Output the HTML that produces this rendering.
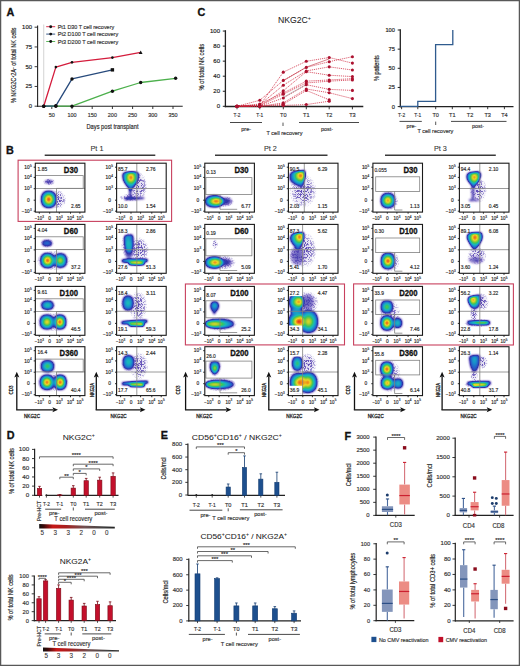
<!DOCTYPE html>
<html><head><meta charset="utf-8"><title>Figure</title>
<style>
html,body{margin:0;padding:0;background:#fff;width:520px;height:666px;overflow:hidden}
svg{display:block}
text{font-family:"Liberation Sans",sans-serif}
</style></head>
<body><svg width="520" height="666" viewBox="0 0 520 666" font-family="Liberation Sans, sans-serif" fill="#2a2a2a"><defs><radialGradient id="g_pur"><stop offset="0" stop-color="#5a48b0" stop-opacity="0.55"/><stop offset="0.6" stop-color="#7060b8" stop-opacity="0.35"/><stop offset="1" stop-color="#9080c8" stop-opacity="0"/></radialGradient><radialGradient id="g_hal"><stop offset="0" stop-color="#fff" stop-opacity="1"/><stop offset="0.5" stop-color="#fff" stop-opacity="0.8"/><stop offset="1" stop-color="#fff" stop-opacity="0"/></radialGradient><filter id="spk" x="-5%" y="-5%" width="110%" height="110%" color-interpolation-filters="sRGB"><feTurbulence type="turbulence" baseFrequency="0.7" numOctaves="1" seed="7" result="n"/><feColorMatrix in="n" type="matrix" values="0 0 0 0 0.34  0 0 0 0 0.26  0 0 0 0 0.70  0 0 0 10 -1.5" result="d"/><feComposite in="d" in2="SourceGraphic" operator="in"/></filter><filter id="cmap" color-interpolation-filters="sRGB" x="-30%" y="-30%" width="160%" height="160%"><feGaussianBlur in="SourceAlpha" stdDeviation="0.85" result="b"/><feColorMatrix in="b" type="matrix" values="0 0 0 1 0  0 0 0 1 0  0 0 0 1 0  0 0 0 1 0" result="g"/><feComponentTransfer in="g"><feFuncR type="table" tableValues="0.5 0.40 0.19 0.15 0.1 0.1 0.22 0.6 0.92 0.95 0.88"/><feFuncG type="table" tableValues="0.4 0.32 0.2 0.34 0.56 0.72 0.77 0.8 0.85 0.5 0.08"/><feFuncB type="table" tableValues="0.8 0.74 0.66 0.78 0.8 0.74 0.38 0.2 0.15 0.1 0.08"/><feFuncA type="table" tableValues="0 0.55 1 1 1 1 1 1 1 1 1"/></feComponentTransfer></filter><linearGradient id="wedge" x1="0" x2="1" y1="0" y2="0"><stop offset="0" stop-color="#111"/><stop offset="0.06" stop-color="#3a0a0a"/><stop offset="0.18" stop-color="#c81818"/><stop offset="0.35" stop-color="#a82020"/><stop offset="0.6" stop-color="#705050"/><stop offset="0.85" stop-color="#404040"/><stop offset="1" stop-color="#222"/></linearGradient><clipPath id="cp0"><rect x="35.30" y="163.20" width="49.60" height="48.90"/></clipPath><radialGradient id="d1" gradientUnits="userSpaceOnUse" cx="0" cy="0" r="1" gradientTransform="translate(49.00 181.80) rotate(0) scale(4.20 1.80)"><stop offset="0.00" stop-color="#000" stop-opacity="0.220"/><stop offset="0.10" stop-color="#000" stop-opacity="0.220"/><stop offset="0.25" stop-color="#000" stop-opacity="0.210"/><stop offset="0.40" stop-color="#000" stop-opacity="0.200"/><stop offset="0.55" stop-color="#000" stop-opacity="0.190"/><stop offset="0.70" stop-color="#000" stop-opacity="0.180"/><stop offset="0.85" stop-color="#000" stop-opacity="0.170"/><stop offset="1.00" stop-color="#000" stop-opacity="0.160"/></radialGradient><radialGradient id="d2" gradientUnits="userSpaceOnUse" cx="0" cy="0" r="1" gradientTransform="translate(48.70 199.40) rotate(0) scale(7.60 8.60)"><stop offset="0.00" stop-color="#000" stop-opacity="1.000"/><stop offset="0.10" stop-color="#000" stop-opacity="1.000"/><stop offset="0.25" stop-color="#000" stop-opacity="0.878"/><stop offset="0.40" stop-color="#000" stop-opacity="0.757"/><stop offset="0.55" stop-color="#000" stop-opacity="0.635"/><stop offset="0.70" stop-color="#000" stop-opacity="0.513"/><stop offset="0.85" stop-color="#000" stop-opacity="0.392"/><stop offset="1.00" stop-color="#000" stop-opacity="0.270"/></radialGradient><clipPath id="cp1"><rect x="116.60" y="163.20" width="49.60" height="48.90"/></clipPath><linearGradient id="l3" gradientUnits="userSpaceOnUse" x1="124.50" y1="0" x2="144.50" y2="0"><stop offset="0" stop-color="#000" stop-opacity="0.32"/><stop offset="0.3" stop-color="#000" stop-opacity="0.34"/><stop offset="1" stop-color="#000" stop-opacity="0.2"/></linearGradient><radialGradient id="d4" gradientUnits="userSpaceOnUse" cx="0" cy="0" r="1" gradientTransform="translate(130.90 177.60) rotate(0) scale(8.50 11.00)"><stop offset="0.00" stop-color="#000" stop-opacity="0.950"/><stop offset="0.10" stop-color="#000" stop-opacity="0.950"/><stop offset="0.25" stop-color="#000" stop-opacity="0.802"/><stop offset="0.40" stop-color="#000" stop-opacity="0.683"/><stop offset="0.55" stop-color="#000" stop-opacity="0.573"/><stop offset="0.70" stop-color="#000" stop-opacity="0.468"/><stop offset="0.85" stop-color="#000" stop-opacity="0.368"/><stop offset="1.00" stop-color="#000" stop-opacity="0.270"/></radialGradient><clipPath id="cp2"><rect x="204.80" y="163.20" width="49.60" height="48.90"/></clipPath><radialGradient id="d5" gradientUnits="userSpaceOnUse" cx="0" cy="0" r="1" gradientTransform="translate(225.00 201.30) rotate(0) scale(7.00 3.80)"><stop offset="0.00" stop-color="#000" stop-opacity="0.240"/><stop offset="0.10" stop-color="#000" stop-opacity="0.240"/><stop offset="0.25" stop-color="#000" stop-opacity="0.223"/><stop offset="0.40" stop-color="#000" stop-opacity="0.207"/><stop offset="0.55" stop-color="#000" stop-opacity="0.190"/><stop offset="0.70" stop-color="#000" stop-opacity="0.173"/><stop offset="0.85" stop-color="#000" stop-opacity="0.157"/><stop offset="1.00" stop-color="#000" stop-opacity="0.140"/></radialGradient><radialGradient id="d6" gradientUnits="userSpaceOnUse" cx="0" cy="0" r="1" gradientTransform="translate(216.00 201.30) rotate(0) scale(11.00 6.00)"><stop offset="0.00" stop-color="#000" stop-opacity="0.970"/><stop offset="0.10" stop-color="#000" stop-opacity="0.970"/><stop offset="0.25" stop-color="#000" stop-opacity="0.853"/><stop offset="0.40" stop-color="#000" stop-opacity="0.737"/><stop offset="0.55" stop-color="#000" stop-opacity="0.620"/><stop offset="0.70" stop-color="#000" stop-opacity="0.503"/><stop offset="0.85" stop-color="#000" stop-opacity="0.387"/><stop offset="1.00" stop-color="#000" stop-opacity="0.270"/></radialGradient><clipPath id="cp3"><rect x="288.40" y="163.20" width="49.60" height="48.90"/></clipPath><radialGradient id="d7" gradientUnits="userSpaceOnUse" cx="0" cy="0" r="1" gradientTransform="translate(300.50 175.80) rotate(0) scale(10.00 10.00)"><stop offset="0.00" stop-color="#000" stop-opacity="0.950"/><stop offset="0.10" stop-color="#000" stop-opacity="0.950"/><stop offset="0.25" stop-color="#000" stop-opacity="0.802"/><stop offset="0.40" stop-color="#000" stop-opacity="0.683"/><stop offset="0.55" stop-color="#000" stop-opacity="0.573"/><stop offset="0.70" stop-color="#000" stop-opacity="0.468"/><stop offset="0.85" stop-color="#000" stop-opacity="0.368"/><stop offset="1.00" stop-color="#000" stop-opacity="0.270"/></radialGradient><clipPath id="cp4"><rect x="372.90" y="163.20" width="49.60" height="48.90"/></clipPath><radialGradient id="d8" gradientUnits="userSpaceOnUse" cx="0" cy="0" r="1" gradientTransform="translate(387.90 200.50) rotate(0) scale(7.20 7.50)"><stop offset="0.00" stop-color="#000" stop-opacity="0.930"/><stop offset="0.10" stop-color="#000" stop-opacity="0.930"/><stop offset="0.25" stop-color="#000" stop-opacity="0.820"/><stop offset="0.40" stop-color="#000" stop-opacity="0.710"/><stop offset="0.55" stop-color="#000" stop-opacity="0.600"/><stop offset="0.70" stop-color="#000" stop-opacity="0.490"/><stop offset="0.85" stop-color="#000" stop-opacity="0.380"/><stop offset="1.00" stop-color="#000" stop-opacity="0.270"/></radialGradient><clipPath id="cp5"><rect x="459.40" y="163.20" width="49.60" height="48.90"/></clipPath><linearGradient id="l9" gradientUnits="userSpaceOnUse" x1="469.00" y1="0" x2="480.00" y2="0"><stop offset="0" stop-color="#000" stop-opacity="0.25"/><stop offset="1" stop-color="#000" stop-opacity="0.15"/></linearGradient><radialGradient id="d10" gradientUnits="userSpaceOnUse" cx="0" cy="0" r="1" gradientTransform="translate(474.40 177.30) rotate(0) scale(8.00 9.50)"><stop offset="0.00" stop-color="#000" stop-opacity="0.930"/><stop offset="0.10" stop-color="#000" stop-opacity="0.930"/><stop offset="0.25" stop-color="#000" stop-opacity="0.786"/><stop offset="0.40" stop-color="#000" stop-opacity="0.671"/><stop offset="0.55" stop-color="#000" stop-opacity="0.564"/><stop offset="0.70" stop-color="#000" stop-opacity="0.462"/><stop offset="0.85" stop-color="#000" stop-opacity="0.365"/><stop offset="1.00" stop-color="#000" stop-opacity="0.270"/></radialGradient><clipPath id="cp6"><rect x="35.30" y="224.40" width="49.60" height="48.90"/></clipPath><radialGradient id="d11" gradientUnits="userSpaceOnUse" cx="0" cy="0" r="1" gradientTransform="translate(47.00 243.20) rotate(0) scale(5.00 3.20)"><stop offset="0.00" stop-color="#000" stop-opacity="0.360"/><stop offset="0.10" stop-color="#000" stop-opacity="0.360"/><stop offset="0.25" stop-color="#000" stop-opacity="0.342"/><stop offset="0.40" stop-color="#000" stop-opacity="0.323"/><stop offset="0.55" stop-color="#000" stop-opacity="0.305"/><stop offset="0.70" stop-color="#000" stop-opacity="0.287"/><stop offset="0.85" stop-color="#000" stop-opacity="0.268"/><stop offset="1.00" stop-color="#000" stop-opacity="0.250"/></radialGradient><radialGradient id="d12" gradientUnits="userSpaceOnUse" cx="0" cy="0" r="1" gradientTransform="translate(60.30 260.50) rotate(0) scale(6.60 7.20)"><stop offset="0.00" stop-color="#000" stop-opacity="0.780"/><stop offset="0.10" stop-color="#000" stop-opacity="0.780"/><stop offset="0.25" stop-color="#000" stop-opacity="0.695"/><stop offset="0.40" stop-color="#000" stop-opacity="0.610"/><stop offset="0.55" stop-color="#000" stop-opacity="0.525"/><stop offset="0.70" stop-color="#000" stop-opacity="0.440"/><stop offset="0.85" stop-color="#000" stop-opacity="0.355"/><stop offset="1.00" stop-color="#000" stop-opacity="0.270"/></radialGradient><radialGradient id="d13" gradientUnits="userSpaceOnUse" cx="0" cy="0" r="1" gradientTransform="translate(47.60 260.50) rotate(0) scale(7.20 7.60)"><stop offset="0.00" stop-color="#000" stop-opacity="1.000"/><stop offset="0.10" stop-color="#000" stop-opacity="1.000"/><stop offset="0.25" stop-color="#000" stop-opacity="0.878"/><stop offset="0.40" stop-color="#000" stop-opacity="0.757"/><stop offset="0.55" stop-color="#000" stop-opacity="0.635"/><stop offset="0.70" stop-color="#000" stop-opacity="0.513"/><stop offset="0.85" stop-color="#000" stop-opacity="0.392"/><stop offset="1.00" stop-color="#000" stop-opacity="0.270"/></radialGradient><clipPath id="cp7"><rect x="116.60" y="224.40" width="49.60" height="48.90"/></clipPath><radialGradient id="d14" gradientUnits="userSpaceOnUse" cx="0" cy="0" r="1" gradientTransform="translate(129.00 250.00) rotate(0) scale(4.50 9.00)"><stop offset="0.00" stop-color="#000" stop-opacity="0.220"/><stop offset="0.10" stop-color="#000" stop-opacity="0.220"/><stop offset="0.25" stop-color="#000" stop-opacity="0.207"/><stop offset="0.40" stop-color="#000" stop-opacity="0.193"/><stop offset="0.55" stop-color="#000" stop-opacity="0.180"/><stop offset="0.70" stop-color="#000" stop-opacity="0.167"/><stop offset="0.85" stop-color="#000" stop-opacity="0.153"/><stop offset="1.00" stop-color="#000" stop-opacity="0.140"/></radialGradient><radialGradient id="d15" gradientUnits="userSpaceOnUse" cx="0" cy="0" r="1" gradientTransform="translate(128.00 240.00) rotate(0) scale(6.00 12.00)"><stop offset="0.00" stop-color="#000" stop-opacity="0.480"/><stop offset="0.10" stop-color="#000" stop-opacity="0.480"/><stop offset="0.25" stop-color="#000" stop-opacity="0.436"/><stop offset="0.40" stop-color="#000" stop-opacity="0.401"/><stop offset="0.55" stop-color="#000" stop-opacity="0.369"/><stop offset="0.70" stop-color="#000" stop-opacity="0.338"/><stop offset="0.85" stop-color="#000" stop-opacity="0.309"/><stop offset="1.00" stop-color="#000" stop-opacity="0.280"/></radialGradient><linearGradient id="l16" gradientUnits="userSpaceOnUse" x1="121.80" y1="0" x2="147.70" y2="0"><stop offset="0" stop-color="#000" stop-opacity="0.36"/><stop offset="0.2" stop-color="#000" stop-opacity="0.55"/><stop offset="0.7" stop-color="#000" stop-opacity="0.6"/><stop offset="1" stop-color="#000" stop-opacity="0.4"/></linearGradient><linearGradient id="l17" gradientUnits="userSpaceOnUse" x1="129.00" y1="0" x2="144.20" y2="0"><stop offset="0" stop-color="#000" stop-opacity="0.7"/><stop offset="0.4" stop-color="#000" stop-opacity="0.9"/><stop offset="0.65" stop-color="#000" stop-opacity="0.95"/><stop offset="1" stop-color="#000" stop-opacity="0.7"/></linearGradient><clipPath id="cp8"><rect x="204.80" y="224.40" width="49.60" height="48.90"/></clipPath><radialGradient id="d18" gradientUnits="userSpaceOnUse" cx="0" cy="0" r="1" gradientTransform="translate(225.00 262.30) rotate(0) scale(7.00 4.00)"><stop offset="0.00" stop-color="#000" stop-opacity="0.240"/><stop offset="0.10" stop-color="#000" stop-opacity="0.240"/><stop offset="0.25" stop-color="#000" stop-opacity="0.223"/><stop offset="0.40" stop-color="#000" stop-opacity="0.207"/><stop offset="0.55" stop-color="#000" stop-opacity="0.190"/><stop offset="0.70" stop-color="#000" stop-opacity="0.173"/><stop offset="0.85" stop-color="#000" stop-opacity="0.157"/><stop offset="1.00" stop-color="#000" stop-opacity="0.140"/></radialGradient><radialGradient id="d19" gradientUnits="userSpaceOnUse" cx="0" cy="0" r="1" gradientTransform="translate(215.00 262.50) rotate(0) scale(10.00 6.00)"><stop offset="0.00" stop-color="#000" stop-opacity="0.950"/><stop offset="0.10" stop-color="#000" stop-opacity="0.950"/><stop offset="0.25" stop-color="#000" stop-opacity="0.837"/><stop offset="0.40" stop-color="#000" stop-opacity="0.723"/><stop offset="0.55" stop-color="#000" stop-opacity="0.610"/><stop offset="0.70" stop-color="#000" stop-opacity="0.497"/><stop offset="0.85" stop-color="#000" stop-opacity="0.383"/><stop offset="1.00" stop-color="#000" stop-opacity="0.270"/></radialGradient><clipPath id="cp9"><rect x="288.40" y="224.40" width="49.60" height="48.90"/></clipPath><radialGradient id="d20" gradientUnits="userSpaceOnUse" cx="0" cy="0" r="1" gradientTransform="translate(297.50 256.00) rotate(0) scale(7.00 9.50)"><stop offset="0.00" stop-color="#000" stop-opacity="0.160"/><stop offset="0.10" stop-color="#000" stop-opacity="0.160"/><stop offset="0.25" stop-color="#000" stop-opacity="0.150"/><stop offset="0.40" stop-color="#000" stop-opacity="0.140"/><stop offset="0.55" stop-color="#000" stop-opacity="0.130"/><stop offset="0.70" stop-color="#000" stop-opacity="0.120"/><stop offset="0.85" stop-color="#000" stop-opacity="0.110"/><stop offset="1.00" stop-color="#000" stop-opacity="0.100"/></radialGradient><radialGradient id="d21" gradientUnits="userSpaceOnUse" cx="0" cy="0" r="1" gradientTransform="translate(299.50 237.00) rotate(0) scale(9.00 11.00)"><stop offset="0.00" stop-color="#000" stop-opacity="0.950"/><stop offset="0.10" stop-color="#000" stop-opacity="0.950"/><stop offset="0.25" stop-color="#000" stop-opacity="0.802"/><stop offset="0.40" stop-color="#000" stop-opacity="0.683"/><stop offset="0.55" stop-color="#000" stop-opacity="0.573"/><stop offset="0.70" stop-color="#000" stop-opacity="0.468"/><stop offset="0.85" stop-color="#000" stop-opacity="0.368"/><stop offset="1.00" stop-color="#000" stop-opacity="0.270"/></radialGradient><clipPath id="cp10"><rect x="372.90" y="224.40" width="49.60" height="48.90"/></clipPath><radialGradient id="d22" gradientUnits="userSpaceOnUse" cx="0" cy="0" r="1" gradientTransform="translate(387.90 261.00) rotate(0) scale(7.00 8.20)"><stop offset="0.00" stop-color="#000" stop-opacity="1.000"/><stop offset="0.10" stop-color="#000" stop-opacity="1.000"/><stop offset="0.25" stop-color="#000" stop-opacity="0.878"/><stop offset="0.40" stop-color="#000" stop-opacity="0.757"/><stop offset="0.55" stop-color="#000" stop-opacity="0.635"/><stop offset="0.70" stop-color="#000" stop-opacity="0.513"/><stop offset="0.85" stop-color="#000" stop-opacity="0.392"/><stop offset="1.00" stop-color="#000" stop-opacity="0.270"/></radialGradient><clipPath id="cp11"><rect x="459.40" y="224.40" width="49.60" height="48.90"/></clipPath><radialGradient id="d23" gradientUnits="userSpaceOnUse" cx="0" cy="0" r="1" gradientTransform="translate(476.00 260.00) rotate(0) scale(7.50 3.50)"><stop offset="0.00" stop-color="#000" stop-opacity="0.170"/><stop offset="0.10" stop-color="#000" stop-opacity="0.170"/><stop offset="0.25" stop-color="#000" stop-opacity="0.158"/><stop offset="0.40" stop-color="#000" stop-opacity="0.147"/><stop offset="0.55" stop-color="#000" stop-opacity="0.135"/><stop offset="0.70" stop-color="#000" stop-opacity="0.123"/><stop offset="0.85" stop-color="#000" stop-opacity="0.112"/><stop offset="1.00" stop-color="#000" stop-opacity="0.100"/></radialGradient><radialGradient id="d24" gradientUnits="userSpaceOnUse" cx="0" cy="0" r="1" gradientTransform="translate(474.90 237.50) rotate(0) scale(9.00 11.00)"><stop offset="0.00" stop-color="#000" stop-opacity="0.970"/><stop offset="0.10" stop-color="#000" stop-opacity="0.970"/><stop offset="0.25" stop-color="#000" stop-opacity="0.817"/><stop offset="0.40" stop-color="#000" stop-opacity="0.695"/><stop offset="0.55" stop-color="#000" stop-opacity="0.582"/><stop offset="0.70" stop-color="#000" stop-opacity="0.474"/><stop offset="0.85" stop-color="#000" stop-opacity="0.370"/><stop offset="1.00" stop-color="#000" stop-opacity="0.270"/></radialGradient><clipPath id="cp12"><rect x="35.30" y="286.40" width="49.60" height="48.90"/></clipPath><radialGradient id="d25" gradientUnits="userSpaceOnUse" cx="0" cy="0" r="1" gradientTransform="translate(47.50 305.20) rotate(0) scale(6.20 4.60)"><stop offset="0.00" stop-color="#000" stop-opacity="0.580"/><stop offset="0.10" stop-color="#000" stop-opacity="0.580"/><stop offset="0.25" stop-color="#000" stop-opacity="0.528"/><stop offset="0.40" stop-color="#000" stop-opacity="0.477"/><stop offset="0.55" stop-color="#000" stop-opacity="0.425"/><stop offset="0.70" stop-color="#000" stop-opacity="0.373"/><stop offset="0.85" stop-color="#000" stop-opacity="0.322"/><stop offset="1.00" stop-color="#000" stop-opacity="0.270"/></radialGradient><radialGradient id="d26" gradientUnits="userSpaceOnUse" cx="0" cy="0" r="1" gradientTransform="translate(59.90 322.00) rotate(0) scale(6.30 7.40)"><stop offset="0.00" stop-color="#000" stop-opacity="1.000"/><stop offset="0.10" stop-color="#000" stop-opacity="1.000"/><stop offset="0.25" stop-color="#000" stop-opacity="0.878"/><stop offset="0.40" stop-color="#000" stop-opacity="0.757"/><stop offset="0.55" stop-color="#000" stop-opacity="0.635"/><stop offset="0.70" stop-color="#000" stop-opacity="0.513"/><stop offset="0.85" stop-color="#000" stop-opacity="0.392"/><stop offset="1.00" stop-color="#000" stop-opacity="0.270"/></radialGradient><radialGradient id="d27" gradientUnits="userSpaceOnUse" cx="0" cy="0" r="1" gradientTransform="translate(47.00 322.00) rotate(0) scale(7.20 7.40)"><stop offset="0.00" stop-color="#000" stop-opacity="0.850"/><stop offset="0.10" stop-color="#000" stop-opacity="0.850"/><stop offset="0.25" stop-color="#000" stop-opacity="0.753"/><stop offset="0.40" stop-color="#000" stop-opacity="0.657"/><stop offset="0.55" stop-color="#000" stop-opacity="0.560"/><stop offset="0.70" stop-color="#000" stop-opacity="0.463"/><stop offset="0.85" stop-color="#000" stop-opacity="0.367"/><stop offset="1.00" stop-color="#000" stop-opacity="0.270"/></radialGradient><clipPath id="cp13"><rect x="116.60" y="286.40" width="49.60" height="48.90"/></clipPath><radialGradient id="d28" gradientUnits="userSpaceOnUse" cx="0" cy="0" r="1" gradientTransform="translate(128.00 303.00) rotate(0) scale(5.60 7.50)"><stop offset="0.00" stop-color="#000" stop-opacity="0.550"/><stop offset="0.10" stop-color="#000" stop-opacity="0.550"/><stop offset="0.25" stop-color="#000" stop-opacity="0.503"/><stop offset="0.40" stop-color="#000" stop-opacity="0.457"/><stop offset="0.55" stop-color="#000" stop-opacity="0.410"/><stop offset="0.70" stop-color="#000" stop-opacity="0.363"/><stop offset="0.85" stop-color="#000" stop-opacity="0.317"/><stop offset="1.00" stop-color="#000" stop-opacity="0.270"/></radialGradient><linearGradient id="l29" gradientUnits="userSpaceOnUse" x1="121.30" y1="0" x2="147.30" y2="0"><stop offset="0" stop-color="#000" stop-opacity="0.36"/><stop offset="0.2" stop-color="#000" stop-opacity="0.55"/><stop offset="0.7" stop-color="#000" stop-opacity="0.6"/><stop offset="1" stop-color="#000" stop-opacity="0.4"/></linearGradient><linearGradient id="l30" gradientUnits="userSpaceOnUse" x1="129.00" y1="0" x2="144.00" y2="0"><stop offset="0" stop-color="#000" stop-opacity="0.7"/><stop offset="0.4" stop-color="#000" stop-opacity="0.85"/><stop offset="0.7" stop-color="#000" stop-opacity="0.95"/><stop offset="0.85" stop-color="#000" stop-opacity="1.0"/><stop offset="1" stop-color="#000" stop-opacity="0.7"/></linearGradient><clipPath id="cp14"><rect x="204.80" y="286.40" width="49.60" height="48.90"/></clipPath><radialGradient id="d31" gradientUnits="userSpaceOnUse" cx="0" cy="0" r="1" gradientTransform="translate(214.60 305.60) rotate(0) scale(4.20 5.00)"><stop offset="0.00" stop-color="#000" stop-opacity="0.520"/><stop offset="0.10" stop-color="#000" stop-opacity="0.520"/><stop offset="0.25" stop-color="#000" stop-opacity="0.465"/><stop offset="0.40" stop-color="#000" stop-opacity="0.422"/><stop offset="0.55" stop-color="#000" stop-opacity="0.381"/><stop offset="0.70" stop-color="#000" stop-opacity="0.343"/><stop offset="0.85" stop-color="#000" stop-opacity="0.306"/><stop offset="1.00" stop-color="#000" stop-opacity="0.270"/></radialGradient><radialGradient id="d32" gradientUnits="userSpaceOnUse" cx="0" cy="0" r="1" gradientTransform="translate(214.80 324.00) rotate(0) scale(19.20 5.00)"><stop offset="0.00" stop-color="#000" stop-opacity="0.820"/><stop offset="0.10" stop-color="#000" stop-opacity="0.820"/><stop offset="0.25" stop-color="#000" stop-opacity="0.728"/><stop offset="0.40" stop-color="#000" stop-opacity="0.637"/><stop offset="0.55" stop-color="#000" stop-opacity="0.545"/><stop offset="0.70" stop-color="#000" stop-opacity="0.453"/><stop offset="0.85" stop-color="#000" stop-opacity="0.362"/><stop offset="1.00" stop-color="#000" stop-opacity="0.270"/></radialGradient><clipPath id="cp15"><rect x="288.40" y="286.40" width="49.60" height="48.90"/></clipPath><radialGradient id="d33" gradientUnits="userSpaceOnUse" cx="0" cy="0" r="1" gradientTransform="translate(307.50 302.00) rotate(0) scale(7.00 8.00)"><stop offset="0.00" stop-color="#000" stop-opacity="0.170"/><stop offset="0.10" stop-color="#000" stop-opacity="0.170"/><stop offset="0.25" stop-color="#000" stop-opacity="0.158"/><stop offset="0.40" stop-color="#000" stop-opacity="0.147"/><stop offset="0.55" stop-color="#000" stop-opacity="0.135"/><stop offset="0.70" stop-color="#000" stop-opacity="0.123"/><stop offset="0.85" stop-color="#000" stop-opacity="0.112"/><stop offset="1.00" stop-color="#000" stop-opacity="0.100"/></radialGradient><radialGradient id="d34" gradientUnits="userSpaceOnUse" cx="0" cy="0" r="1" gradientTransform="translate(308.50 321.50) rotate(0) scale(9.50 11.50)"><stop offset="0.00" stop-color="#000" stop-opacity="0.800"/><stop offset="0.10" stop-color="#000" stop-opacity="0.800"/><stop offset="0.25" stop-color="#000" stop-opacity="0.712"/><stop offset="0.40" stop-color="#000" stop-opacity="0.623"/><stop offset="0.55" stop-color="#000" stop-opacity="0.535"/><stop offset="0.70" stop-color="#000" stop-opacity="0.447"/><stop offset="0.85" stop-color="#000" stop-opacity="0.358"/><stop offset="1.00" stop-color="#000" stop-opacity="0.270"/></radialGradient><radialGradient id="d35" gradientUnits="userSpaceOnUse" cx="0" cy="0" r="1" gradientTransform="translate(298.60 301.90) rotate(0) scale(9.60 8.60)"><stop offset="0.00" stop-color="#000" stop-opacity="0.900"/><stop offset="0.10" stop-color="#000" stop-opacity="0.900"/><stop offset="0.25" stop-color="#000" stop-opacity="0.795"/><stop offset="0.40" stop-color="#000" stop-opacity="0.690"/><stop offset="0.55" stop-color="#000" stop-opacity="0.585"/><stop offset="0.70" stop-color="#000" stop-opacity="0.480"/><stop offset="0.85" stop-color="#000" stop-opacity="0.375"/><stop offset="1.00" stop-color="#000" stop-opacity="0.270"/></radialGradient><radialGradient id="d36" gradientUnits="userSpaceOnUse" cx="0" cy="0" r="1" gradientTransform="translate(298.60 321.60) rotate(0) scale(10.10 9.10)"><stop offset="0.00" stop-color="#000" stop-opacity="1.000"/><stop offset="0.10" stop-color="#000" stop-opacity="1.000"/><stop offset="0.25" stop-color="#000" stop-opacity="0.878"/><stop offset="0.40" stop-color="#000" stop-opacity="0.757"/><stop offset="0.55" stop-color="#000" stop-opacity="0.635"/><stop offset="0.70" stop-color="#000" stop-opacity="0.513"/><stop offset="0.85" stop-color="#000" stop-opacity="0.392"/><stop offset="1.00" stop-color="#000" stop-opacity="0.270"/></radialGradient><clipPath id="cp16"><rect x="372.90" y="286.40" width="49.60" height="48.90"/></clipPath><radialGradient id="d37" gradientUnits="userSpaceOnUse" cx="0" cy="0" r="1" gradientTransform="translate(386.90 306.90) rotate(0) scale(6.10 6.40)"><stop offset="0.00" stop-color="#000" stop-opacity="0.680"/><stop offset="0.10" stop-color="#000" stop-opacity="0.680"/><stop offset="0.25" stop-color="#000" stop-opacity="0.612"/><stop offset="0.40" stop-color="#000" stop-opacity="0.543"/><stop offset="0.55" stop-color="#000" stop-opacity="0.475"/><stop offset="0.70" stop-color="#000" stop-opacity="0.407"/><stop offset="0.85" stop-color="#000" stop-opacity="0.338"/><stop offset="1.00" stop-color="#000" stop-opacity="0.270"/></radialGradient><radialGradient id="d38" gradientUnits="userSpaceOnUse" cx="0" cy="0" r="1" gradientTransform="translate(397.50 323.00) rotate(0) scale(4.60 5.00)"><stop offset="0.00" stop-color="#000" stop-opacity="0.550"/><stop offset="0.10" stop-color="#000" stop-opacity="0.550"/><stop offset="0.25" stop-color="#000" stop-opacity="0.503"/><stop offset="0.40" stop-color="#000" stop-opacity="0.457"/><stop offset="0.55" stop-color="#000" stop-opacity="0.410"/><stop offset="0.70" stop-color="#000" stop-opacity="0.363"/><stop offset="0.85" stop-color="#000" stop-opacity="0.317"/><stop offset="1.00" stop-color="#000" stop-opacity="0.270"/></radialGradient><radialGradient id="d39" gradientUnits="userSpaceOnUse" cx="0" cy="0" r="1" gradientTransform="translate(387.00 323.00) rotate(0) scale(6.50 7.60)"><stop offset="0.00" stop-color="#000" stop-opacity="1.000"/><stop offset="0.10" stop-color="#000" stop-opacity="1.000"/><stop offset="0.25" stop-color="#000" stop-opacity="0.878"/><stop offset="0.40" stop-color="#000" stop-opacity="0.757"/><stop offset="0.55" stop-color="#000" stop-opacity="0.635"/><stop offset="0.70" stop-color="#000" stop-opacity="0.513"/><stop offset="0.85" stop-color="#000" stop-opacity="0.392"/><stop offset="1.00" stop-color="#000" stop-opacity="0.270"/></radialGradient><clipPath id="cp17"><rect x="459.40" y="286.40" width="49.60" height="48.90"/></clipPath><linearGradient id="l40" gradientUnits="userSpaceOnUse" x1="467.20" y1="0" x2="489.80" y2="0"><stop offset="0" stop-color="#000" stop-opacity="0.32"/><stop offset="0.25" stop-color="#000" stop-opacity="0.55"/><stop offset="0.5" stop-color="#000" stop-opacity="0.72"/><stop offset="0.8" stop-color="#000" stop-opacity="0.72"/><stop offset="1" stop-color="#000" stop-opacity="0.4"/></linearGradient><radialGradient id="d41" gradientUnits="userSpaceOnUse" cx="0" cy="0" r="1" gradientTransform="translate(473.40 299.80) rotate(0) scale(7.50 9.00)"><stop offset="0.00" stop-color="#000" stop-opacity="0.920"/><stop offset="0.10" stop-color="#000" stop-opacity="0.920"/><stop offset="0.25" stop-color="#000" stop-opacity="0.778"/><stop offset="0.40" stop-color="#000" stop-opacity="0.665"/><stop offset="0.55" stop-color="#000" stop-opacity="0.559"/><stop offset="0.70" stop-color="#000" stop-opacity="0.459"/><stop offset="0.85" stop-color="#000" stop-opacity="0.363"/><stop offset="1.00" stop-color="#000" stop-opacity="0.270"/></radialGradient><clipPath id="cp18"><rect x="35.30" y="346.70" width="49.60" height="48.90"/></clipPath><radialGradient id="d42" gradientUnits="userSpaceOnUse" cx="0" cy="0" r="1" gradientTransform="translate(47.50 366.20) rotate(0) scale(6.60 6.00)"><stop offset="0.00" stop-color="#000" stop-opacity="0.650"/><stop offset="0.10" stop-color="#000" stop-opacity="0.650"/><stop offset="0.25" stop-color="#000" stop-opacity="0.587"/><stop offset="0.40" stop-color="#000" stop-opacity="0.523"/><stop offset="0.55" stop-color="#000" stop-opacity="0.460"/><stop offset="0.70" stop-color="#000" stop-opacity="0.397"/><stop offset="0.85" stop-color="#000" stop-opacity="0.333"/><stop offset="1.00" stop-color="#000" stop-opacity="0.270"/></radialGradient><radialGradient id="d43" gradientUnits="userSpaceOnUse" cx="0" cy="0" r="1" gradientTransform="translate(60.20 382.30) rotate(0) scale(6.40 7.60)"><stop offset="0.00" stop-color="#000" stop-opacity="1.000"/><stop offset="0.10" stop-color="#000" stop-opacity="1.000"/><stop offset="0.25" stop-color="#000" stop-opacity="0.878"/><stop offset="0.40" stop-color="#000" stop-opacity="0.757"/><stop offset="0.55" stop-color="#000" stop-opacity="0.635"/><stop offset="0.70" stop-color="#000" stop-opacity="0.513"/><stop offset="0.85" stop-color="#000" stop-opacity="0.392"/><stop offset="1.00" stop-color="#000" stop-opacity="0.270"/></radialGradient><radialGradient id="d44" gradientUnits="userSpaceOnUse" cx="0" cy="0" r="1" gradientTransform="translate(47.00 382.30) rotate(0) scale(7.20 7.60)"><stop offset="0.00" stop-color="#000" stop-opacity="0.970"/><stop offset="0.10" stop-color="#000" stop-opacity="0.970"/><stop offset="0.25" stop-color="#000" stop-opacity="0.853"/><stop offset="0.40" stop-color="#000" stop-opacity="0.737"/><stop offset="0.55" stop-color="#000" stop-opacity="0.620"/><stop offset="0.70" stop-color="#000" stop-opacity="0.503"/><stop offset="0.85" stop-color="#000" stop-opacity="0.387"/><stop offset="1.00" stop-color="#000" stop-opacity="0.270"/></radialGradient><clipPath id="cp19"><rect x="116.60" y="346.70" width="49.60" height="48.90"/></clipPath><radialGradient id="d45" gradientUnits="userSpaceOnUse" cx="0" cy="0" r="1" gradientTransform="translate(128.50 361.90) rotate(0) scale(5.80 7.80)"><stop offset="0.00" stop-color="#000" stop-opacity="0.550"/><stop offset="0.10" stop-color="#000" stop-opacity="0.550"/><stop offset="0.25" stop-color="#000" stop-opacity="0.503"/><stop offset="0.40" stop-color="#000" stop-opacity="0.457"/><stop offset="0.55" stop-color="#000" stop-opacity="0.410"/><stop offset="0.70" stop-color="#000" stop-opacity="0.363"/><stop offset="0.85" stop-color="#000" stop-opacity="0.317"/><stop offset="1.00" stop-color="#000" stop-opacity="0.270"/></radialGradient><linearGradient id="l46" gradientUnits="userSpaceOnUse" x1="121.80" y1="0" x2="148.20" y2="0"><stop offset="0" stop-color="#000" stop-opacity="0.36"/><stop offset="0.2" stop-color="#000" stop-opacity="0.55"/><stop offset="0.7" stop-color="#000" stop-opacity="0.6"/><stop offset="1" stop-color="#000" stop-opacity="0.4"/></linearGradient><linearGradient id="l47" gradientUnits="userSpaceOnUse" x1="129.50" y1="0" x2="144.40" y2="0"><stop offset="0" stop-color="#000" stop-opacity="0.7"/><stop offset="0.4" stop-color="#000" stop-opacity="0.85"/><stop offset="0.7" stop-color="#000" stop-opacity="0.95"/><stop offset="0.85" stop-color="#000" stop-opacity="1.0"/><stop offset="1" stop-color="#000" stop-opacity="0.7"/></linearGradient><clipPath id="cp20"><rect x="204.80" y="346.70" width="49.60" height="48.90"/></clipPath><radialGradient id="d48" gradientUnits="userSpaceOnUse" cx="0" cy="0" r="1" gradientTransform="translate(214.80 368.10) rotate(0) scale(5.00 7.00)"><stop offset="0.00" stop-color="#000" stop-opacity="0.780"/><stop offset="0.10" stop-color="#000" stop-opacity="0.780"/><stop offset="0.25" stop-color="#000" stop-opacity="0.669"/><stop offset="0.40" stop-color="#000" stop-opacity="0.580"/><stop offset="0.55" stop-color="#000" stop-opacity="0.497"/><stop offset="0.70" stop-color="#000" stop-opacity="0.419"/><stop offset="0.85" stop-color="#000" stop-opacity="0.343"/><stop offset="1.00" stop-color="#000" stop-opacity="0.270"/></radialGradient><radialGradient id="d49" gradientUnits="userSpaceOnUse" cx="0" cy="0" r="1" gradientTransform="translate(215.00 384.50) rotate(0) scale(18.80 4.50)"><stop offset="0.00" stop-color="#000" stop-opacity="0.820"/><stop offset="0.10" stop-color="#000" stop-opacity="0.820"/><stop offset="0.25" stop-color="#000" stop-opacity="0.728"/><stop offset="0.40" stop-color="#000" stop-opacity="0.637"/><stop offset="0.55" stop-color="#000" stop-opacity="0.545"/><stop offset="0.70" stop-color="#000" stop-opacity="0.453"/><stop offset="0.85" stop-color="#000" stop-opacity="0.362"/><stop offset="1.00" stop-color="#000" stop-opacity="0.270"/></radialGradient><clipPath id="cp21"><rect x="288.40" y="346.70" width="49.60" height="48.90"/></clipPath><radialGradient id="d50" gradientUnits="userSpaceOnUse" cx="0" cy="0" r="1" gradientTransform="translate(307.70 382.50) rotate(0) scale(9.50 10.50)"><stop offset="0.00" stop-color="#000" stop-opacity="0.920"/><stop offset="0.10" stop-color="#000" stop-opacity="0.920"/><stop offset="0.25" stop-color="#000" stop-opacity="0.812"/><stop offset="0.40" stop-color="#000" stop-opacity="0.703"/><stop offset="0.55" stop-color="#000" stop-opacity="0.595"/><stop offset="0.70" stop-color="#000" stop-opacity="0.487"/><stop offset="0.85" stop-color="#000" stop-opacity="0.378"/><stop offset="1.00" stop-color="#000" stop-opacity="0.270"/></radialGradient><radialGradient id="d51" gradientUnits="userSpaceOnUse" cx="0" cy="0" r="1" gradientTransform="translate(299.00 382.50) rotate(0) scale(9.00 9.50)"><stop offset="0.00" stop-color="#000" stop-opacity="0.920"/><stop offset="0.10" stop-color="#000" stop-opacity="0.920"/><stop offset="0.25" stop-color="#000" stop-opacity="0.812"/><stop offset="0.40" stop-color="#000" stop-opacity="0.703"/><stop offset="0.55" stop-color="#000" stop-opacity="0.595"/><stop offset="0.70" stop-color="#000" stop-opacity="0.487"/><stop offset="0.85" stop-color="#000" stop-opacity="0.378"/><stop offset="1.00" stop-color="#000" stop-opacity="0.270"/></radialGradient><radialGradient id="d52" gradientUnits="userSpaceOnUse" cx="0" cy="0" r="1" gradientTransform="translate(297.30 363.50) rotate(0) scale(5.30 7.30)"><stop offset="0.00" stop-color="#000" stop-opacity="0.620"/><stop offset="0.10" stop-color="#000" stop-opacity="0.620"/><stop offset="0.25" stop-color="#000" stop-opacity="0.562"/><stop offset="0.40" stop-color="#000" stop-opacity="0.503"/><stop offset="0.55" stop-color="#000" stop-opacity="0.445"/><stop offset="0.70" stop-color="#000" stop-opacity="0.387"/><stop offset="0.85" stop-color="#000" stop-opacity="0.328"/><stop offset="1.00" stop-color="#000" stop-opacity="0.270"/></radialGradient><clipPath id="cp22"><rect x="372.90" y="346.70" width="49.60" height="48.90"/></clipPath><radialGradient id="d53" gradientUnits="userSpaceOnUse" cx="0" cy="0" r="1" gradientTransform="translate(398.00 383.50) rotate(0) scale(5.00 5.00)"><stop offset="0.00" stop-color="#000" stop-opacity="0.520"/><stop offset="0.10" stop-color="#000" stop-opacity="0.520"/><stop offset="0.25" stop-color="#000" stop-opacity="0.478"/><stop offset="0.40" stop-color="#000" stop-opacity="0.437"/><stop offset="0.55" stop-color="#000" stop-opacity="0.395"/><stop offset="0.70" stop-color="#000" stop-opacity="0.353"/><stop offset="0.85" stop-color="#000" stop-opacity="0.312"/><stop offset="1.00" stop-color="#000" stop-opacity="0.270"/></radialGradient><radialGradient id="d54" gradientUnits="userSpaceOnUse" cx="0" cy="0" r="1" gradientTransform="translate(387.40 383.00) rotate(0) scale(6.50 6.50)"><stop offset="0.00" stop-color="#000" stop-opacity="0.930"/><stop offset="0.10" stop-color="#000" stop-opacity="0.930"/><stop offset="0.25" stop-color="#000" stop-opacity="0.820"/><stop offset="0.40" stop-color="#000" stop-opacity="0.710"/><stop offset="0.55" stop-color="#000" stop-opacity="0.600"/><stop offset="0.70" stop-color="#000" stop-opacity="0.490"/><stop offset="0.85" stop-color="#000" stop-opacity="0.380"/><stop offset="1.00" stop-color="#000" stop-opacity="0.270"/></radialGradient><radialGradient id="d55" gradientUnits="userSpaceOnUse" cx="0" cy="0" r="1" gradientTransform="translate(386.90 369.10) rotate(0) scale(6.50 7.50)"><stop offset="0.00" stop-color="#000" stop-opacity="1.000"/><stop offset="0.10" stop-color="#000" stop-opacity="1.000"/><stop offset="0.25" stop-color="#000" stop-opacity="0.878"/><stop offset="0.40" stop-color="#000" stop-opacity="0.757"/><stop offset="0.55" stop-color="#000" stop-opacity="0.635"/><stop offset="0.70" stop-color="#000" stop-opacity="0.513"/><stop offset="0.85" stop-color="#000" stop-opacity="0.392"/><stop offset="1.00" stop-color="#000" stop-opacity="0.270"/></radialGradient><clipPath id="cp23"><rect x="459.40" y="346.70" width="49.60" height="48.90"/></clipPath><linearGradient id="l56" gradientUnits="userSpaceOnUse" x1="467.20" y1="0" x2="490.70" y2="0"><stop offset="0" stop-color="#000" stop-opacity="0.36"/><stop offset="0.2" stop-color="#000" stop-opacity="0.55"/><stop offset="0.7" stop-color="#000" stop-opacity="0.6"/><stop offset="1" stop-color="#000" stop-opacity="0.4"/></linearGradient><linearGradient id="l57" gradientUnits="userSpaceOnUse" x1="472.00" y1="0" x2="487.80" y2="0"><stop offset="0" stop-color="#000" stop-opacity="0.7"/><stop offset="0.15" stop-color="#000" stop-opacity="1.0"/><stop offset="0.35" stop-color="#000" stop-opacity="0.9"/><stop offset="0.7" stop-color="#000" stop-opacity="0.8"/><stop offset="1" stop-color="#000" stop-opacity="0.6"/></linearGradient><radialGradient id="d58" gradientUnits="userSpaceOnUse" cx="0" cy="0" r="1" gradientTransform="translate(474.50 359.50) rotate(0) scale(5.00 11.00)"><stop offset="0.00" stop-color="#000" stop-opacity="0.480"/><stop offset="0.10" stop-color="#000" stop-opacity="0.480"/><stop offset="0.25" stop-color="#000" stop-opacity="0.434"/><stop offset="0.40" stop-color="#000" stop-opacity="0.397"/><stop offset="0.55" stop-color="#000" stop-opacity="0.363"/><stop offset="0.70" stop-color="#000" stop-opacity="0.331"/><stop offset="0.85" stop-color="#000" stop-opacity="0.300"/><stop offset="1.00" stop-color="#000" stop-opacity="0.270"/></radialGradient></defs><rect x="0" y="0" width="520" height="666" fill="#fff"/><text x="6.60" y="16.49" font-size="10.8" font-weight="bold" fill="#111" stroke="#111" stroke-width="0.3" >A</text>
<line x1="43.72" y1="24.50" x2="43.72" y2="106.00" stroke="#c8c8c8" stroke-width="0.8" />
<line x1="37.60" y1="25.50" x2="37.60" y2="106.90" stroke="#222" stroke-width="1.1" />
<line x1="37.10" y1="106.20" x2="182.70" y2="106.20" stroke="#222" stroke-width="1.1" />
<line x1="34.60" y1="106.20" x2="37.60" y2="106.20" stroke="#222" stroke-width="0.9" />
<text x="32.00" y="108.14" font-size="5.4" text-anchor="end" fill="#222" textLength="3.30" lengthAdjust="spacingAndGlyphs" stroke="#222" stroke-width="0.16" >0</text>
<line x1="34.60" y1="86.45" x2="37.60" y2="86.45" stroke="#222" stroke-width="0.9" />
<text x="32.00" y="88.39" font-size="5.4" text-anchor="end" fill="#222" textLength="6.60" lengthAdjust="spacingAndGlyphs" stroke="#222" stroke-width="0.16" >25</text>
<line x1="34.60" y1="66.70" x2="37.60" y2="66.70" stroke="#222" stroke-width="0.9" />
<text x="32.00" y="68.64" font-size="5.4" text-anchor="end" fill="#222" textLength="6.60" lengthAdjust="spacingAndGlyphs" stroke="#222" stroke-width="0.16" >50</text>
<line x1="34.60" y1="46.95" x2="37.60" y2="46.95" stroke="#222" stroke-width="0.9" />
<text x="32.00" y="48.89" font-size="5.4" text-anchor="end" fill="#222" textLength="6.60" lengthAdjust="spacingAndGlyphs" stroke="#222" stroke-width="0.16" >75</text>
<line x1="34.60" y1="27.20" x2="37.60" y2="27.20" stroke="#222" stroke-width="0.9" />
<text x="32.00" y="29.14" font-size="5.4" text-anchor="end" fill="#222" textLength="9.90" lengthAdjust="spacingAndGlyphs" stroke="#222" stroke-width="0.16" >100</text>
<line x1="51.80" y1="106.20" x2="51.80" y2="109.00" stroke="#222" stroke-width="0.9" />
<text x="51.80" y="116.62" font-size="5.6" text-anchor="middle" fill="#333" textLength="6.10" lengthAdjust="spacingAndGlyphs" stroke="#333" stroke-width="0.16" >50</text>
<line x1="72.00" y1="106.20" x2="72.00" y2="109.00" stroke="#222" stroke-width="0.9" />
<text x="72.00" y="116.62" font-size="5.6" text-anchor="middle" fill="#333" textLength="9.15" lengthAdjust="spacingAndGlyphs" stroke="#333" stroke-width="0.16" >100</text>
<line x1="92.20" y1="106.20" x2="92.20" y2="109.00" stroke="#222" stroke-width="0.9" />
<text x="92.20" y="116.62" font-size="5.6" text-anchor="middle" fill="#333" textLength="9.15" lengthAdjust="spacingAndGlyphs" stroke="#333" stroke-width="0.16" >150</text>
<line x1="112.40" y1="106.20" x2="112.40" y2="109.00" stroke="#222" stroke-width="0.9" />
<text x="112.40" y="116.62" font-size="5.6" text-anchor="middle" fill="#333" textLength="9.15" lengthAdjust="spacingAndGlyphs" stroke="#333" stroke-width="0.16" >200</text>
<line x1="132.60" y1="106.20" x2="132.60" y2="109.00" stroke="#222" stroke-width="0.9" />
<text x="132.60" y="116.62" font-size="5.6" text-anchor="middle" fill="#333" textLength="9.15" lengthAdjust="spacingAndGlyphs" stroke="#333" stroke-width="0.16" >250</text>
<line x1="152.80" y1="106.20" x2="152.80" y2="109.00" stroke="#222" stroke-width="0.9" />
<text x="152.80" y="116.62" font-size="5.6" text-anchor="middle" fill="#333" textLength="9.15" lengthAdjust="spacingAndGlyphs" stroke="#333" stroke-width="0.16" >300</text>
<line x1="173.00" y1="106.20" x2="173.00" y2="109.00" stroke="#222" stroke-width="0.9" />
<text x="173.00" y="116.62" font-size="5.6" text-anchor="middle" fill="#333" textLength="9.15" lengthAdjust="spacingAndGlyphs" stroke="#333" stroke-width="0.16" >350</text>
<text x="112.50" y="128.94" font-size="7.6" text-anchor="middle" fill="#222" textLength="52.00" lengthAdjust="spacingAndGlyphs" stroke="#222" stroke-width="0.16" >Days post transplant</text>
<text x="14.00" y="67.75" font-size="6.8" text-anchor="middle" fill="#1a1a1a" textLength="75.50" lengthAdjust="spacingAndGlyphs" transform="rotate(-90 14.00 65.30)" stroke="#1a1a1a" stroke-width="0.16" >% NKG2C<tspan font-size="4" dy="-2">+</tspan><tspan dy="2">2A</tspan><tspan font-size="4" dy="-2">–</tspan><tspan dy="2"> of total NK cells</tspan></text>
<path d="M43.72,106.20 L55.84,106.20 L72.00,106.20 L112.40,91.19 L140.68,82.50 L175.63,78.31" stroke="#4cb04c" stroke-width="1.3" fill="none" stroke-linejoin="round"/>
<path d="M43.72,106.20 L55.84,105.81 L72.00,78.94 L112.40,69.86" stroke="#274a7c" stroke-width="1.3" fill="none" stroke-linejoin="round"/>
<path d="M43.72,106.20 L55.84,67.09 L72.00,62.36 L112.40,57.62 L140.68,52.48" stroke="#d41c3c" stroke-width="1.3" fill="none" stroke-linejoin="round"/>
<circle cx="43.72" cy="106.20" r="1.70" fill="#111" />
<circle cx="55.84" cy="106.20" r="1.70" fill="#111" />
<circle cx="72.00" cy="106.20" r="1.70" fill="#111" />
<circle cx="112.40" cy="91.19" r="1.70" fill="#111" />
<circle cx="140.68" cy="82.50" r="1.70" fill="#111" />
<circle cx="175.63" cy="78.31" r="1.70" fill="#111" />
<circle cx="43.72" cy="106.20" r="1.70" fill="#111" />
<circle cx="55.84" cy="105.81" r="1.70" fill="#111" />
<circle cx="72.00" cy="78.94" r="1.70" fill="#111" />
<rect x="110.70" y="68.16" width="3.40" height="3.40" fill="#111" />
<circle cx="43.72" cy="106.20" r="1.30" fill="#111" />
<circle cx="55.84" cy="67.09" r="1.30" fill="#111" />
<circle cx="72.00" cy="62.36" r="1.30" fill="#111" />
<circle cx="112.40" cy="57.62" r="1.30" fill="#111" />
<path d="M140.68,50.48 L142.58,53.98 L138.78,53.98 Z" stroke="none" stroke-width="0" fill="#111" />
<line x1="46.20" y1="26.70" x2="55.20" y2="26.70" stroke="#d41c3c" stroke-width="0.9" />
<circle cx="50.70" cy="26.70" r="1.45" fill="#111" />
<text x="57.70" y="28.72" font-size="5.6" fill="#333" textLength="56.50" lengthAdjust="spacingAndGlyphs" stroke="#333" stroke-width="0.16" >Pt1 D30 T cell recovery</text>
<line x1="46.20" y1="34.10" x2="55.20" y2="34.10" stroke="#274a7c" stroke-width="0.9" />
<circle cx="50.70" cy="34.10" r="1.45" fill="#111" />
<text x="57.70" y="36.12" font-size="5.6" fill="#333" textLength="60.50" lengthAdjust="spacingAndGlyphs" stroke="#333" stroke-width="0.16" >Pt2 D100 T cell recovery</text>
<line x1="46.20" y1="41.50" x2="55.20" y2="41.50" stroke="#4cb04c" stroke-width="0.9" />
<circle cx="50.70" cy="41.50" r="1.45" fill="#111" />
<text x="57.70" y="43.52" font-size="5.6" fill="#333" textLength="60.50" lengthAdjust="spacingAndGlyphs" stroke="#333" stroke-width="0.16" >Pt3 D200 T cell recovery</text>
<text x="197.60" y="16.39" font-size="10.8" font-weight="bold" fill="#111" stroke="#111" stroke-width="0.3" >C</text>
<text x="294.50" y="23.25" font-size="8.2" text-anchor="middle" fill="#222" textLength="33.00" lengthAdjust="spacingAndGlyphs" stroke="#222" stroke-width="0.05" >NKG2C<tspan font-size="5.2" dy="-2.8">+</tspan></text>
<line x1="225.40" y1="30.20" x2="225.40" y2="107.20" stroke="#222" stroke-width="1.3" />
<line x1="224.80" y1="106.50" x2="363.30" y2="106.50" stroke="#222" stroke-width="1.5" />
<line x1="222.80" y1="106.30" x2="225.40" y2="106.30" stroke="#222" stroke-width="1.0" />
<text x="220.00" y="108.24" font-size="5.4" text-anchor="end" fill="#222" textLength="3.35" lengthAdjust="spacingAndGlyphs" stroke="#222" stroke-width="0.16" >0</text>
<line x1="222.80" y1="91.25" x2="225.40" y2="91.25" stroke="#222" stroke-width="1.0" />
<text x="220.00" y="93.19" font-size="5.4" text-anchor="end" fill="#222" textLength="6.70" lengthAdjust="spacingAndGlyphs" stroke="#222" stroke-width="0.16" >20</text>
<line x1="222.80" y1="76.20" x2="225.40" y2="76.20" stroke="#222" stroke-width="1.0" />
<text x="220.00" y="78.14" font-size="5.4" text-anchor="end" fill="#222" textLength="6.70" lengthAdjust="spacingAndGlyphs" stroke="#222" stroke-width="0.16" >40</text>
<line x1="222.80" y1="61.15" x2="225.40" y2="61.15" stroke="#222" stroke-width="1.0" />
<text x="220.00" y="63.09" font-size="5.4" text-anchor="end" fill="#222" textLength="6.70" lengthAdjust="spacingAndGlyphs" stroke="#222" stroke-width="0.16" >60</text>
<line x1="222.80" y1="46.10" x2="225.40" y2="46.10" stroke="#222" stroke-width="1.0" />
<text x="220.00" y="48.04" font-size="5.4" text-anchor="end" fill="#222" textLength="6.70" lengthAdjust="spacingAndGlyphs" stroke="#222" stroke-width="0.16" >80</text>
<line x1="222.80" y1="31.05" x2="225.40" y2="31.05" stroke="#222" stroke-width="1.0" />
<text x="220.00" y="32.99" font-size="5.4" text-anchor="end" fill="#222" textLength="10.05" lengthAdjust="spacingAndGlyphs" stroke="#222" stroke-width="0.16" >100</text>
<line x1="237.00" y1="106.50" x2="237.00" y2="109.30" stroke="#222" stroke-width="0.9" />
<line x1="259.80" y1="106.50" x2="259.80" y2="109.30" stroke="#222" stroke-width="0.9" />
<line x1="283.30" y1="106.50" x2="283.30" y2="109.30" stroke="#222" stroke-width="0.9" />
<line x1="306.30" y1="106.50" x2="306.30" y2="109.30" stroke="#222" stroke-width="0.9" />
<line x1="329.20" y1="106.50" x2="329.20" y2="109.30" stroke="#222" stroke-width="0.9" />
<line x1="352.40" y1="106.50" x2="352.40" y2="109.30" stroke="#222" stroke-width="0.9" />
<text x="237.00" y="117.29" font-size="5.8" text-anchor="middle" fill="#333" textLength="6.90" lengthAdjust="spacingAndGlyphs" stroke="#333" stroke-width="0.16" >T-2</text>
<text x="259.80" y="117.29" font-size="5.8" text-anchor="middle" fill="#333" textLength="6.90" lengthAdjust="spacingAndGlyphs" stroke="#333" stroke-width="0.16" >T-1</text>
<text x="283.30" y="117.29" font-size="5.8" text-anchor="middle" fill="#333" textLength="6.50" lengthAdjust="spacingAndGlyphs" stroke="#333" stroke-width="0.16" >T0</text>
<text x="306.30" y="117.29" font-size="5.8" text-anchor="middle" fill="#333" textLength="6.50" lengthAdjust="spacingAndGlyphs" stroke="#333" stroke-width="0.16" >T1</text>
<text x="329.20" y="117.29" font-size="5.8" text-anchor="middle" fill="#333" textLength="6.50" lengthAdjust="spacingAndGlyphs" stroke="#333" stroke-width="0.16" >T2</text>
<text x="352.40" y="117.29" font-size="5.8" text-anchor="middle" fill="#333" textLength="6.50" lengthAdjust="spacingAndGlyphs" stroke="#333" stroke-width="0.16" >T3</text>
<line x1="230.00" y1="122.50" x2="262.00" y2="122.50" stroke="#333" stroke-width="0.9" />
<line x1="299.00" y1="122.50" x2="359.00" y2="122.50" stroke="#333" stroke-width="0.9" />
<text x="246.20" y="131.22" font-size="5.6" text-anchor="middle" fill="#333" textLength="10.00" lengthAdjust="spacingAndGlyphs" stroke="#333" stroke-width="0.16" >pre-</text>
<text x="327.00" y="130.62" font-size="5.6" text-anchor="middle" fill="#333" textLength="12.00" lengthAdjust="spacingAndGlyphs" stroke="#333" stroke-width="0.16" >post-</text>
<line x1="283.00" y1="122.60" x2="283.00" y2="126.00" stroke="#444" stroke-width="0.9" />
<text x="284.50" y="134.69" font-size="5.8" text-anchor="middle" fill="#333" textLength="36.00" lengthAdjust="spacingAndGlyphs" stroke="#333" stroke-width="0.16" >T cell recovery</text>
<text x="201.60" y="69.65" font-size="6.8" text-anchor="middle" fill="#1a1a1a" textLength="46.50" lengthAdjust="spacingAndGlyphs" transform="rotate(-90 201.60 67.20)" stroke="#1a1a1a" stroke-width="0.16" >% of total NK cells</text>
<path d="M237.00,106.30 L259.80,105.55 L283.30,72.14 L306.30,61.30 L329.20,57.54 L352.40,63.11" stroke="#cc1c34" stroke-width="0.75" fill="none" stroke-dasharray="1.2,0.9" opacity="0.95"/>
<path d="M237.00,106.30 L259.80,100.28 L283.30,80.41 L306.30,67.40 L329.20,61.68 L352.40,56.71" stroke="#cc1c34" stroke-width="0.75" fill="none" stroke-dasharray="1.2,0.9" opacity="0.95"/>
<path d="M237.00,106.30 L259.80,104.80 L283.30,85.23 L306.30,70.93 L329.20,66.87 L352.40,70.03" stroke="#cc1c34" stroke-width="0.75" fill="none" stroke-dasharray="1.2,0.9" opacity="0.95"/>
<path d="M237.00,106.30 L259.80,105.92 L283.30,90.80 L306.30,71.69 L329.20,75.22 L352.40,76.58" stroke="#cc1c34" stroke-width="0.75" fill="none" stroke-dasharray="1.2,0.9" opacity="0.95"/>
<path d="M237.00,106.30 L259.80,104.04 L283.30,92.98 L306.30,81.17 L329.20,79.96 L352.40,78.68" stroke="#cc1c34" stroke-width="0.75" fill="none" stroke-dasharray="1.2,0.9" opacity="0.95"/>
<path d="M237.00,106.30 L259.80,105.55 L283.30,94.18 L306.30,82.97 L329.20,81.17 L352.40,79.96" stroke="#cc1c34" stroke-width="0.75" fill="none" stroke-dasharray="1.2,0.9" opacity="0.95"/>
<path d="M237.00,106.30 L259.80,106.30 L283.30,98.02 L306.30,84.70 L329.20,89.37 L352.40,90.42" stroke="#cc1c34" stroke-width="0.75" fill="none" stroke-dasharray="1.2,0.9" opacity="0.95"/>
<path d="M237.00,106.30 L259.80,106.30 L283.30,102.91 L306.30,88.99 L329.20,92.75 L352.40,98.62" stroke="#cc1c34" stroke-width="0.75" fill="none" stroke-dasharray="1.2,0.9" opacity="0.95"/>
<path d="M237.00,106.30 L259.80,106.30 L283.30,104.27 L306.30,90.42 L329.20,99.83" stroke="#cc1c34" stroke-width="0.75" fill="none" stroke-dasharray="1.2,0.9" opacity="0.95"/>
<path d="M237.00,106.30 L259.80,106.30 L283.30,105.47 L306.30,104.57 L329.20,101.18" stroke="#cc1c34" stroke-width="0.75" fill="none" stroke-dasharray="1.2,0.9" opacity="0.95"/>
<path d="M283.30,80.72 L306.30,67.17 L329.20,58.89" stroke="#c03040" stroke-width="0.6" fill="none" />
<path d="M283.30,97.27 L306.30,84.48" stroke="#888" stroke-width="0.5" fill="none" />
<circle cx="237.00" cy="106.30" r="1.55" fill="#ac1230" />
<circle cx="259.80" cy="105.55" r="1.55" fill="#ac1230" />
<circle cx="283.30" cy="72.14" r="1.55" fill="#ac1230" />
<circle cx="306.30" cy="61.30" r="1.55" fill="#ac1230" />
<circle cx="329.20" cy="57.54" r="1.55" fill="#ac1230" />
<circle cx="352.40" cy="63.11" r="1.55" fill="#ac1230" />
<circle cx="237.00" cy="106.30" r="1.55" fill="#ac1230" />
<circle cx="259.80" cy="100.28" r="1.55" fill="#ac1230" />
<circle cx="283.30" cy="80.41" r="1.55" fill="#ac1230" />
<circle cx="306.30" cy="67.40" r="1.55" fill="#ac1230" />
<circle cx="329.20" cy="61.68" r="1.55" fill="#ac1230" />
<circle cx="352.40" cy="56.71" r="1.55" fill="#ac1230" />
<circle cx="237.00" cy="106.30" r="1.55" fill="#ac1230" />
<circle cx="259.80" cy="104.80" r="1.55" fill="#ac1230" />
<circle cx="283.30" cy="85.23" r="1.55" fill="#ac1230" />
<circle cx="306.30" cy="70.93" r="1.55" fill="#ac1230" />
<circle cx="329.20" cy="66.87" r="1.55" fill="#ac1230" />
<circle cx="352.40" cy="70.03" r="1.55" fill="#ac1230" />
<circle cx="237.00" cy="106.30" r="1.55" fill="#ac1230" />
<circle cx="259.80" cy="105.92" r="1.55" fill="#ac1230" />
<circle cx="283.30" cy="90.80" r="1.55" fill="#ac1230" />
<circle cx="306.30" cy="71.69" r="1.55" fill="#ac1230" />
<circle cx="329.20" cy="75.22" r="1.55" fill="#ac1230" />
<circle cx="352.40" cy="76.58" r="1.55" fill="#ac1230" />
<circle cx="237.00" cy="106.30" r="1.55" fill="#ac1230" />
<circle cx="259.80" cy="104.04" r="1.55" fill="#ac1230" />
<circle cx="283.30" cy="92.98" r="1.55" fill="#ac1230" />
<circle cx="306.30" cy="81.17" r="1.55" fill="#ac1230" />
<circle cx="329.20" cy="79.96" r="1.55" fill="#ac1230" />
<circle cx="352.40" cy="78.68" r="1.55" fill="#ac1230" />
<circle cx="237.00" cy="106.30" r="1.55" fill="#ac1230" />
<circle cx="259.80" cy="105.55" r="1.55" fill="#ac1230" />
<circle cx="283.30" cy="94.18" r="1.55" fill="#ac1230" />
<circle cx="306.30" cy="82.97" r="1.55" fill="#ac1230" />
<circle cx="329.20" cy="81.17" r="1.55" fill="#ac1230" />
<circle cx="352.40" cy="79.96" r="1.55" fill="#ac1230" />
<circle cx="237.00" cy="106.30" r="1.55" fill="#ac1230" />
<circle cx="259.80" cy="106.30" r="1.55" fill="#ac1230" />
<circle cx="283.30" cy="98.02" r="1.55" fill="#ac1230" />
<circle cx="306.30" cy="84.70" r="1.55" fill="#ac1230" />
<circle cx="329.20" cy="89.37" r="1.55" fill="#ac1230" />
<circle cx="352.40" cy="90.42" r="1.55" fill="#ac1230" />
<circle cx="237.00" cy="106.30" r="1.55" fill="#ac1230" />
<circle cx="259.80" cy="106.30" r="1.55" fill="#ac1230" />
<circle cx="283.30" cy="102.91" r="1.55" fill="#ac1230" />
<circle cx="306.30" cy="88.99" r="1.55" fill="#ac1230" />
<circle cx="329.20" cy="92.75" r="1.55" fill="#ac1230" />
<circle cx="352.40" cy="98.62" r="1.55" fill="#ac1230" />
<circle cx="237.00" cy="106.30" r="1.55" fill="#ac1230" />
<circle cx="259.80" cy="106.30" r="1.55" fill="#ac1230" />
<circle cx="283.30" cy="104.27" r="1.55" fill="#ac1230" />
<circle cx="306.30" cy="90.42" r="1.55" fill="#ac1230" />
<circle cx="329.20" cy="99.83" r="1.55" fill="#ac1230" />
<circle cx="237.00" cy="106.30" r="1.55" fill="#ac1230" />
<circle cx="259.80" cy="106.30" r="1.55" fill="#ac1230" />
<circle cx="283.30" cy="105.47" r="1.55" fill="#ac1230" />
<circle cx="306.30" cy="104.57" r="1.55" fill="#ac1230" />
<circle cx="329.20" cy="101.18" r="1.55" fill="#ac1230" />
<line x1="400.30" y1="29.20" x2="400.30" y2="107.20" stroke="#222" stroke-width="1.3" />
<line x1="399.70" y1="106.60" x2="513.50" y2="106.60" stroke="#222" stroke-width="1.4" />
<line x1="397.70" y1="106.60" x2="400.30" y2="106.60" stroke="#222" stroke-width="1.0" />
<text x="395.00" y="108.54" font-size="5.4" text-anchor="end" fill="#222" textLength="3.20" lengthAdjust="spacingAndGlyphs" stroke="#222" stroke-width="0.16" >0</text>
<line x1="397.70" y1="87.45" x2="400.30" y2="87.45" stroke="#222" stroke-width="1.0" />
<text x="395.00" y="89.39" font-size="5.4" text-anchor="end" fill="#222" textLength="6.40" lengthAdjust="spacingAndGlyphs" stroke="#222" stroke-width="0.16" >25</text>
<line x1="397.70" y1="68.30" x2="400.30" y2="68.30" stroke="#222" stroke-width="1.0" />
<text x="395.00" y="70.24" font-size="5.4" text-anchor="end" fill="#222" textLength="6.40" lengthAdjust="spacingAndGlyphs" stroke="#222" stroke-width="0.16" >50</text>
<line x1="397.70" y1="49.15" x2="400.30" y2="49.15" stroke="#222" stroke-width="1.0" />
<text x="395.00" y="51.09" font-size="5.4" text-anchor="end" fill="#222" textLength="6.40" lengthAdjust="spacingAndGlyphs" stroke="#222" stroke-width="0.16" >75</text>
<line x1="397.70" y1="30.00" x2="400.30" y2="30.00" stroke="#222" stroke-width="1.0" />
<text x="395.00" y="31.94" font-size="5.4" text-anchor="end" fill="#222" textLength="9.60" lengthAdjust="spacingAndGlyphs" stroke="#222" stroke-width="0.16" >100</text>
<line x1="401.60" y1="106.60" x2="401.60" y2="109.20" stroke="#222" stroke-width="0.9" />
<line x1="417.80" y1="106.60" x2="417.80" y2="109.20" stroke="#222" stroke-width="0.9" />
<line x1="435.70" y1="106.60" x2="435.70" y2="109.20" stroke="#222" stroke-width="0.9" />
<line x1="452.30" y1="106.60" x2="452.30" y2="109.20" stroke="#222" stroke-width="0.9" />
<line x1="470.00" y1="106.60" x2="470.00" y2="109.20" stroke="#222" stroke-width="0.9" />
<line x1="487.70" y1="106.60" x2="487.70" y2="109.20" stroke="#222" stroke-width="0.9" />
<line x1="504.40" y1="106.60" x2="504.40" y2="109.20" stroke="#222" stroke-width="0.9" />
<text x="401.60" y="117.29" font-size="5.8" text-anchor="middle" fill="#333" textLength="7.00" lengthAdjust="spacingAndGlyphs" stroke="#333" stroke-width="0.16" >T-2</text>
<text x="417.80" y="117.29" font-size="5.8" text-anchor="middle" fill="#333" textLength="7.00" lengthAdjust="spacingAndGlyphs" stroke="#333" stroke-width="0.16" >T-1</text>
<text x="435.70" y="117.29" font-size="5.8" text-anchor="middle" fill="#333" textLength="6.50" lengthAdjust="spacingAndGlyphs" stroke="#333" stroke-width="0.16" >T0</text>
<text x="452.30" y="117.29" font-size="5.8" text-anchor="middle" fill="#333" textLength="6.50" lengthAdjust="spacingAndGlyphs" stroke="#333" stroke-width="0.16" >T1</text>
<text x="470.00" y="117.29" font-size="5.8" text-anchor="middle" fill="#333" textLength="6.50" lengthAdjust="spacingAndGlyphs" stroke="#333" stroke-width="0.16" >T2</text>
<text x="487.70" y="117.29" font-size="5.8" text-anchor="middle" fill="#333" textLength="6.50" lengthAdjust="spacingAndGlyphs" stroke="#333" stroke-width="0.16" >T3</text>
<text x="504.40" y="117.29" font-size="5.8" text-anchor="middle" fill="#333" textLength="6.50" lengthAdjust="spacingAndGlyphs" stroke="#333" stroke-width="0.16" >T4</text>
<line x1="399.50" y1="121.40" x2="421.80" y2="121.40" stroke="#333" stroke-width="0.9" />
<line x1="451.00" y1="121.40" x2="506.50" y2="121.40" stroke="#333" stroke-width="0.9" />
<text x="411.50" y="128.22" font-size="5.6" text-anchor="middle" fill="#333" textLength="10.00" lengthAdjust="spacingAndGlyphs" stroke="#333" stroke-width="0.16" >pre-</text>
<text x="478.00" y="128.02" font-size="5.6" text-anchor="middle" fill="#333" textLength="12.00" lengthAdjust="spacingAndGlyphs" stroke="#333" stroke-width="0.16" >post-</text>
<line x1="435.70" y1="121.60" x2="435.70" y2="125.00" stroke="#444" stroke-width="0.9" />
<text x="435.40" y="133.49" font-size="5.8" text-anchor="middle" fill="#333" textLength="36.00" lengthAdjust="spacingAndGlyphs" stroke="#333" stroke-width="0.16" >T cell recovery</text>
<text x="376.40" y="70.55" font-size="6.8" text-anchor="middle" fill="#1a1a1a" textLength="26.00" lengthAdjust="spacingAndGlyphs" transform="rotate(-90 376.40 68.10)" stroke="#1a1a1a" stroke-width="0.16" >% patients</text>
<path d="M400.3,106.3 L417.8,106.3 L417.8,101.4 L435.6,101.4 L435.6,44.6 L452.8,44.6 L452.8,30.0" stroke="#2f5b8e" stroke-width="1.3" fill="none" />
<text x="6.00" y="154.09" font-size="10.8" font-weight="bold" fill="#111" stroke="#111" stroke-width="0.3" >B</text>
<text x="97.00" y="150.98" font-size="6.6" text-anchor="middle" fill="#333" textLength="13.00" lengthAdjust="spacingAndGlyphs" stroke="#333" stroke-width="0.08" >Pt 1</text>
<line x1="44.70" y1="155.20" x2="155.30" y2="155.20" stroke="#3a3a3a" stroke-width="1.6" />
<text x="270.40" y="150.98" font-size="6.6" text-anchor="middle" fill="#333" textLength="13.00" lengthAdjust="spacingAndGlyphs" stroke="#333" stroke-width="0.08" >Pt 2</text>
<line x1="215.00" y1="155.20" x2="327.50" y2="155.20" stroke="#3a3a3a" stroke-width="1.6" />
<text x="440.40" y="150.98" font-size="6.6" text-anchor="middle" fill="#333" textLength="13.00" lengthAdjust="spacingAndGlyphs" stroke="#333" stroke-width="0.08" >Pt 3</text>
<line x1="385.00" y1="155.20" x2="495.80" y2="155.20" stroke="#3a3a3a" stroke-width="1.6" />
<rect x="18.10" y="160.20" width="153.50" height="61.20" fill="none" stroke="#c8405e" stroke-width="1.1" />
<rect x="185.40" y="284.00" width="159.10" height="60.90" fill="none" stroke="#c8405e" stroke-width="1.1" />
<rect x="353.60" y="283.90" width="159.80" height="61.10" fill="none" stroke="#c8405e" stroke-width="1.1" />
<rect x="35.30" y="163.20" width="49.60" height="48.90" fill="#fff" />
<text x="29.70" y="168.89" font-size="4.7" text-anchor="end" textLength="5.40" lengthAdjust="spacingAndGlyphs" stroke="#2a2a2a" stroke-width="0.16" >10</text>
<text x="29.90" y="166.65" font-size="3.2" textLength="1.70" lengthAdjust="spacingAndGlyphs" stroke="#2a2a2a" stroke-width="0.16" >5</text>
<line x1="33.70" y1="167.20" x2="35.30" y2="167.20" stroke="#111" stroke-width="0.9" />
<text x="29.70" y="179.09" font-size="4.7" text-anchor="end" textLength="5.40" lengthAdjust="spacingAndGlyphs" stroke="#2a2a2a" stroke-width="0.16" >10</text>
<text x="29.90" y="176.85" font-size="3.2" textLength="1.70" lengthAdjust="spacingAndGlyphs" stroke="#2a2a2a" stroke-width="0.16" >4</text>
<line x1="33.70" y1="177.40" x2="35.30" y2="177.40" stroke="#111" stroke-width="0.9" />
<text x="29.70" y="190.39" font-size="4.7" text-anchor="end" textLength="5.40" lengthAdjust="spacingAndGlyphs" stroke="#2a2a2a" stroke-width="0.16" >10</text>
<text x="29.90" y="188.15" font-size="3.2" textLength="1.70" lengthAdjust="spacingAndGlyphs" stroke="#2a2a2a" stroke-width="0.16" >3</text>
<line x1="33.70" y1="188.70" x2="35.30" y2="188.70" stroke="#111" stroke-width="0.9" />
<text x="29.70" y="201.89" font-size="4.7" text-anchor="end" textLength="2.70" lengthAdjust="spacingAndGlyphs" stroke="#2a2a2a" stroke-width="0.16" >0</text>
<line x1="33.70" y1="200.20" x2="35.30" y2="200.20" stroke="#111" stroke-width="0.9" />
<text x="29.70" y="212.89" font-size="4.7" text-anchor="end" textLength="8.00" lengthAdjust="spacingAndGlyphs" stroke="#2a2a2a" stroke-width="0.16" >−10</text>
<text x="29.90" y="210.65" font-size="3.2" textLength="1.70" lengthAdjust="spacingAndGlyphs" stroke="#2a2a2a" stroke-width="0.16" >3</text>
<line x1="33.70" y1="211.20" x2="35.30" y2="211.20" stroke="#111" stroke-width="0.9" />
<text x="38.40" y="220.19" font-size="4.7" text-anchor="middle" textLength="7.20" lengthAdjust="spacingAndGlyphs" stroke="#2a2a2a" stroke-width="0.16" >−10</text>
<text x="42.15" y="217.95" font-size="3.2" textLength="1.70" lengthAdjust="spacingAndGlyphs" stroke="#2a2a2a" stroke-width="0.16" >3</text>
<line x1="39.30" y1="212.10" x2="39.30" y2="213.70" stroke="#111" stroke-width="0.9" />
<text x="49.70" y="220.19" font-size="4.7" text-anchor="middle" textLength="2.70" lengthAdjust="spacingAndGlyphs" stroke="#2a2a2a" stroke-width="0.16" >0</text>
<line x1="49.70" y1="212.10" x2="49.70" y2="213.70" stroke="#111" stroke-width="0.9" />
<text x="58.40" y="220.19" font-size="4.7" text-anchor="middle" textLength="5.00" lengthAdjust="spacingAndGlyphs" stroke="#2a2a2a" stroke-width="0.16" >10</text>
<text x="61.05" y="217.95" font-size="3.2" textLength="1.70" lengthAdjust="spacingAndGlyphs" stroke="#2a2a2a" stroke-width="0.16" >3</text>
<line x1="59.30" y1="212.10" x2="59.30" y2="213.70" stroke="#111" stroke-width="0.9" />
<text x="69.60" y="220.19" font-size="4.7" text-anchor="middle" textLength="5.00" lengthAdjust="spacingAndGlyphs" stroke="#2a2a2a" stroke-width="0.16" >10</text>
<text x="72.25" y="217.95" font-size="3.2" textLength="1.70" lengthAdjust="spacingAndGlyphs" stroke="#2a2a2a" stroke-width="0.16" >4</text>
<line x1="70.50" y1="212.10" x2="70.50" y2="213.70" stroke="#111" stroke-width="0.9" />
<text x="79.00" y="220.19" font-size="4.7" text-anchor="middle" textLength="5.00" lengthAdjust="spacingAndGlyphs" stroke="#2a2a2a" stroke-width="0.16" >10</text>
<text x="81.65" y="217.95" font-size="3.2" textLength="1.70" lengthAdjust="spacingAndGlyphs" stroke="#2a2a2a" stroke-width="0.16" >5</text>
<line x1="79.90" y1="212.10" x2="79.90" y2="213.70" stroke="#111" stroke-width="0.9" />
<g clip-path="url(#cp0)">
<ellipse cx="58.00" cy="199.50" rx="8.50" ry="9.50" fill="url(#g_pur)" opacity="0.40"/>
<ellipse cx="58.00" cy="199.50" rx="8.50" ry="9.50" fill="url(#g_hal)" filter="url(#spk)" opacity="1.0"/>
<ellipse cx="49.00" cy="181.80" rx="6.00" ry="3.50" fill="url(#g_pur)" opacity="0.40"/>
<ellipse cx="49.00" cy="181.80" rx="6.00" ry="3.50" fill="url(#g_hal)" filter="url(#spk)" opacity="1.0"/>
<g filter="url(#cmap)">
<path d="M53.20,181.80 L53.14,182.31 L52.95,182.66 L52.64,182.95 L52.22,183.18 L51.67,183.36 L51.01,183.49 L50.19,183.57 L49.00,183.60 L47.81,183.57 L46.99,183.49 L46.33,183.36 L45.78,183.18 L45.36,182.95 L45.05,182.66 L44.86,182.31 L44.80,181.80 L44.86,181.29 L45.05,180.94 L45.36,180.65 L45.78,180.42 L46.33,180.24 L46.99,180.11 L47.81,180.03 L49.00,180.00 L50.19,180.03 L51.01,180.11 L51.67,180.24 L52.22,180.42 L52.64,180.65 L52.95,180.94 L53.14,181.29 Z" fill="url(#d1)"/>
<path d="M56.30,199.40 L56.19,201.85 L55.85,203.51 L55.29,204.87 L54.52,205.99 L53.54,206.86 L52.33,207.49 L50.86,207.87 L48.70,208.00 L46.54,207.87 L45.07,207.49 L43.86,206.86 L42.88,205.99 L42.11,204.87 L41.55,203.51 L41.21,201.85 L41.10,199.40 L41.21,196.95 L41.55,195.29 L42.11,193.93 L42.88,192.81 L43.86,191.94 L45.07,191.31 L46.54,190.93 L48.70,190.80 L50.86,190.93 L52.33,191.31 L53.54,191.94 L54.52,192.81 L55.29,193.93 L55.85,195.29 L56.19,196.95 Z" fill="url(#d2)"/>
</g>
</g>
<rect x="35.60" y="175.60" width="47.60" height="12.80" fill="none" stroke="#808080" stroke-width="0.8" />
<path d="M56.50,212.10 L56.50,188.40 L84.90,188.40" stroke="#808080" stroke-width="0.8" fill="none" />
<text x="37.60" y="170.91" font-size="5.3" textLength="9.55" lengthAdjust="spacingAndGlyphs" stroke="#2a2a2a" stroke-width="0.16" >1.85</text>
<text x="78.00" y="172.75" font-size="8.2" text-anchor="end" font-weight="bold" fill="#111" textLength="14.15" lengthAdjust="spacingAndGlyphs" stroke="#111" stroke-width="0.3" >D30</text>
<text x="80.60" y="208.11" font-size="5.3" text-anchor="end" textLength="9.55" lengthAdjust="spacingAndGlyphs" stroke="#2a2a2a" stroke-width="0.16" >2.65</text>
<rect x="35.30" y="163.20" width="49.60" height="48.90" fill="none" stroke="#1a1a1a" stroke-width="1.1" />
<rect x="116.60" y="163.20" width="49.60" height="48.90" fill="#fff" />
<text x="111.00" y="168.89" font-size="4.7" text-anchor="end" textLength="5.40" lengthAdjust="spacingAndGlyphs" stroke="#2a2a2a" stroke-width="0.16" >10</text>
<text x="111.20" y="166.65" font-size="3.2" textLength="1.70" lengthAdjust="spacingAndGlyphs" stroke="#2a2a2a" stroke-width="0.16" >5</text>
<line x1="115.00" y1="167.20" x2="116.60" y2="167.20" stroke="#111" stroke-width="0.9" />
<text x="111.00" y="179.09" font-size="4.7" text-anchor="end" textLength="5.40" lengthAdjust="spacingAndGlyphs" stroke="#2a2a2a" stroke-width="0.16" >10</text>
<text x="111.20" y="176.85" font-size="3.2" textLength="1.70" lengthAdjust="spacingAndGlyphs" stroke="#2a2a2a" stroke-width="0.16" >4</text>
<line x1="115.00" y1="177.40" x2="116.60" y2="177.40" stroke="#111" stroke-width="0.9" />
<text x="111.00" y="190.39" font-size="4.7" text-anchor="end" textLength="5.40" lengthAdjust="spacingAndGlyphs" stroke="#2a2a2a" stroke-width="0.16" >10</text>
<text x="111.20" y="188.15" font-size="3.2" textLength="1.70" lengthAdjust="spacingAndGlyphs" stroke="#2a2a2a" stroke-width="0.16" >3</text>
<line x1="115.00" y1="188.70" x2="116.60" y2="188.70" stroke="#111" stroke-width="0.9" />
<text x="111.00" y="201.89" font-size="4.7" text-anchor="end" textLength="2.70" lengthAdjust="spacingAndGlyphs" stroke="#2a2a2a" stroke-width="0.16" >0</text>
<line x1="115.00" y1="200.20" x2="116.60" y2="200.20" stroke="#111" stroke-width="0.9" />
<text x="111.00" y="212.89" font-size="4.7" text-anchor="end" textLength="8.00" lengthAdjust="spacingAndGlyphs" stroke="#2a2a2a" stroke-width="0.16" >−10</text>
<text x="111.20" y="210.65" font-size="3.2" textLength="1.70" lengthAdjust="spacingAndGlyphs" stroke="#2a2a2a" stroke-width="0.16" >3</text>
<line x1="115.00" y1="211.20" x2="116.60" y2="211.20" stroke="#111" stroke-width="0.9" />
<text x="119.70" y="220.19" font-size="4.7" text-anchor="middle" textLength="7.20" lengthAdjust="spacingAndGlyphs" stroke="#2a2a2a" stroke-width="0.16" >−10</text>
<text x="123.45" y="217.95" font-size="3.2" textLength="1.70" lengthAdjust="spacingAndGlyphs" stroke="#2a2a2a" stroke-width="0.16" >3</text>
<line x1="120.60" y1="212.10" x2="120.60" y2="213.70" stroke="#111" stroke-width="0.9" />
<text x="131.00" y="220.19" font-size="4.7" text-anchor="middle" textLength="2.70" lengthAdjust="spacingAndGlyphs" stroke="#2a2a2a" stroke-width="0.16" >0</text>
<line x1="131.00" y1="212.10" x2="131.00" y2="213.70" stroke="#111" stroke-width="0.9" />
<text x="139.70" y="220.19" font-size="4.7" text-anchor="middle" textLength="5.00" lengthAdjust="spacingAndGlyphs" stroke="#2a2a2a" stroke-width="0.16" >10</text>
<text x="142.35" y="217.95" font-size="3.2" textLength="1.70" lengthAdjust="spacingAndGlyphs" stroke="#2a2a2a" stroke-width="0.16" >3</text>
<line x1="140.60" y1="212.10" x2="140.60" y2="213.70" stroke="#111" stroke-width="0.9" />
<text x="150.90" y="220.19" font-size="4.7" text-anchor="middle" textLength="5.00" lengthAdjust="spacingAndGlyphs" stroke="#2a2a2a" stroke-width="0.16" >10</text>
<text x="153.55" y="217.95" font-size="3.2" textLength="1.70" lengthAdjust="spacingAndGlyphs" stroke="#2a2a2a" stroke-width="0.16" >4</text>
<line x1="151.80" y1="212.10" x2="151.80" y2="213.70" stroke="#111" stroke-width="0.9" />
<text x="160.30" y="220.19" font-size="4.7" text-anchor="middle" textLength="5.00" lengthAdjust="spacingAndGlyphs" stroke="#2a2a2a" stroke-width="0.16" >10</text>
<text x="162.95" y="217.95" font-size="3.2" textLength="1.70" lengthAdjust="spacingAndGlyphs" stroke="#2a2a2a" stroke-width="0.16" >5</text>
<line x1="161.20" y1="212.10" x2="161.20" y2="213.70" stroke="#111" stroke-width="0.9" />
<g clip-path="url(#cp1)">
<ellipse cx="138.50" cy="186.00" rx="9.00" ry="14.00" fill="url(#g_pur)" opacity="0.40"/>
<ellipse cx="138.50" cy="186.00" rx="9.00" ry="14.00" fill="url(#g_hal)" filter="url(#spk)" opacity="1.0"/>
<ellipse cx="131.00" cy="197.50" rx="12.00" ry="4.00" fill="url(#g_pur)" opacity="0.40"/>
<ellipse cx="131.00" cy="197.50" rx="12.00" ry="4.00" fill="url(#g_hal)" filter="url(#spk)" opacity="1.0"/>
<g filter="url(#cmap)">
<path d="M125.60,197.60 L143.40,197.00 A1.10,1.10 0 0 1 143.40,199.20 L125.60,199.80 A1.10,1.10 0 0 1 125.60,197.60 Z" fill="url(#l3)"/>
<rect x="129.00" y="188.00" width="2.60" height="9.00" fill="#000" fill-opacity="0.22"/>
<path d="M122.3,175.5 Q122.3,172.3 126.5,172.3 L135.5,172.0 Q139.2,172.2 139.0,176.0 Q138.5,180.5 135.0,185.0 Q132.5,188.5 130.6,191.0 Q128.2,188.0 125.5,184.0 Q122.3,179.5 122.3,175.5 Z" fill="url(#d4)"/>
</g>
</g>
<line x1="136.80" y1="163.20" x2="136.80" y2="212.10" stroke="#808080" stroke-width="0.8" />
<line x1="116.60" y1="188.50" x2="166.20" y2="188.50" stroke="#808080" stroke-width="0.8" />
<text x="118.00" y="171.41" font-size="5.3" textLength="9.55" lengthAdjust="spacingAndGlyphs" stroke="#2a2a2a" stroke-width="0.16" >85.7</text>
<text x="146.00" y="171.41" font-size="5.3" textLength="9.55" lengthAdjust="spacingAndGlyphs" stroke="#2a2a2a" stroke-width="0.16" >2.76</text>
<text x="118.00" y="208.21" font-size="5.3" textLength="9.55" lengthAdjust="spacingAndGlyphs" stroke="#2a2a2a" stroke-width="0.16" >10.0</text>
<text x="146.00" y="208.21" font-size="5.3" textLength="9.55" lengthAdjust="spacingAndGlyphs" stroke="#2a2a2a" stroke-width="0.16" >1.54</text>
<rect x="116.60" y="163.20" width="49.60" height="48.90" fill="none" stroke="#1a1a1a" stroke-width="1.1" />
<rect x="204.80" y="163.20" width="49.60" height="48.90" fill="#fff" />
<text x="199.20" y="168.89" font-size="4.7" text-anchor="end" textLength="5.40" lengthAdjust="spacingAndGlyphs" stroke="#2a2a2a" stroke-width="0.16" >10</text>
<text x="199.40" y="166.65" font-size="3.2" textLength="1.70" lengthAdjust="spacingAndGlyphs" stroke="#2a2a2a" stroke-width="0.16" >5</text>
<line x1="203.20" y1="167.20" x2="204.80" y2="167.20" stroke="#111" stroke-width="0.9" />
<text x="199.20" y="179.09" font-size="4.7" text-anchor="end" textLength="5.40" lengthAdjust="spacingAndGlyphs" stroke="#2a2a2a" stroke-width="0.16" >10</text>
<text x="199.40" y="176.85" font-size="3.2" textLength="1.70" lengthAdjust="spacingAndGlyphs" stroke="#2a2a2a" stroke-width="0.16" >4</text>
<line x1="203.20" y1="177.40" x2="204.80" y2="177.40" stroke="#111" stroke-width="0.9" />
<text x="199.20" y="190.39" font-size="4.7" text-anchor="end" textLength="5.40" lengthAdjust="spacingAndGlyphs" stroke="#2a2a2a" stroke-width="0.16" >10</text>
<text x="199.40" y="188.15" font-size="3.2" textLength="1.70" lengthAdjust="spacingAndGlyphs" stroke="#2a2a2a" stroke-width="0.16" >3</text>
<line x1="203.20" y1="188.70" x2="204.80" y2="188.70" stroke="#111" stroke-width="0.9" />
<text x="199.20" y="201.89" font-size="4.7" text-anchor="end" textLength="2.70" lengthAdjust="spacingAndGlyphs" stroke="#2a2a2a" stroke-width="0.16" >0</text>
<line x1="203.20" y1="200.20" x2="204.80" y2="200.20" stroke="#111" stroke-width="0.9" />
<text x="199.20" y="212.89" font-size="4.7" text-anchor="end" textLength="8.00" lengthAdjust="spacingAndGlyphs" stroke="#2a2a2a" stroke-width="0.16" >−10</text>
<text x="199.40" y="210.65" font-size="3.2" textLength="1.70" lengthAdjust="spacingAndGlyphs" stroke="#2a2a2a" stroke-width="0.16" >3</text>
<line x1="203.20" y1="211.20" x2="204.80" y2="211.20" stroke="#111" stroke-width="0.9" />
<text x="207.90" y="220.19" font-size="4.7" text-anchor="middle" textLength="7.20" lengthAdjust="spacingAndGlyphs" stroke="#2a2a2a" stroke-width="0.16" >−10</text>
<text x="211.65" y="217.95" font-size="3.2" textLength="1.70" lengthAdjust="spacingAndGlyphs" stroke="#2a2a2a" stroke-width="0.16" >3</text>
<line x1="208.80" y1="212.10" x2="208.80" y2="213.70" stroke="#111" stroke-width="0.9" />
<text x="219.20" y="220.19" font-size="4.7" text-anchor="middle" textLength="2.70" lengthAdjust="spacingAndGlyphs" stroke="#2a2a2a" stroke-width="0.16" >0</text>
<line x1="219.20" y1="212.10" x2="219.20" y2="213.70" stroke="#111" stroke-width="0.9" />
<text x="227.90" y="220.19" font-size="4.7" text-anchor="middle" textLength="5.00" lengthAdjust="spacingAndGlyphs" stroke="#2a2a2a" stroke-width="0.16" >10</text>
<text x="230.55" y="217.95" font-size="3.2" textLength="1.70" lengthAdjust="spacingAndGlyphs" stroke="#2a2a2a" stroke-width="0.16" >3</text>
<line x1="228.80" y1="212.10" x2="228.80" y2="213.70" stroke="#111" stroke-width="0.9" />
<text x="239.10" y="220.19" font-size="4.7" text-anchor="middle" textLength="5.00" lengthAdjust="spacingAndGlyphs" stroke="#2a2a2a" stroke-width="0.16" >10</text>
<text x="241.75" y="217.95" font-size="3.2" textLength="1.70" lengthAdjust="spacingAndGlyphs" stroke="#2a2a2a" stroke-width="0.16" >4</text>
<line x1="240.00" y1="212.10" x2="240.00" y2="213.70" stroke="#111" stroke-width="0.9" />
<text x="248.50" y="220.19" font-size="4.7" text-anchor="middle" textLength="5.00" lengthAdjust="spacingAndGlyphs" stroke="#2a2a2a" stroke-width="0.16" >10</text>
<text x="251.15" y="217.95" font-size="3.2" textLength="1.70" lengthAdjust="spacingAndGlyphs" stroke="#2a2a2a" stroke-width="0.16" >5</text>
<line x1="249.40" y1="212.10" x2="249.40" y2="213.70" stroke="#111" stroke-width="0.9" />
<g clip-path="url(#cp2)">
<ellipse cx="224.00" cy="201.50" rx="10.00" ry="6.00" fill="url(#g_pur)" opacity="0.40"/>
<ellipse cx="224.00" cy="201.50" rx="10.00" ry="6.00" fill="url(#g_hal)" filter="url(#spk)" opacity="1.0"/>
<g filter="url(#cmap)">
<path d="M232.00,201.30 L231.88,202.16 L231.51,202.89 L230.92,203.53 L230.11,204.07 L229.10,204.51 L227.92,204.84 L226.58,205.03 L225.00,205.10 L223.42,205.03 L222.08,204.84 L220.90,204.51 L219.89,204.07 L219.08,203.53 L218.49,202.89 L218.12,202.16 L218.00,201.30 L218.12,200.44 L218.49,199.71 L219.08,199.07 L219.89,198.53 L220.90,198.09 L222.08,197.76 L223.42,197.57 L225.00,197.50 L226.58,197.57 L227.92,197.76 L229.10,198.09 L230.11,198.53 L230.92,199.07 L231.51,199.71 L231.88,200.44 Z" fill="url(#d5)"/>
<path d="M223.00,201.30 L222.85,202.75 L222.40,203.90 L221.67,204.90 L220.66,205.74 L219.40,206.41 L217.90,206.90 L216.17,207.20 L214.00,207.30 L211.83,207.20 L210.10,206.90 L208.60,206.41 L207.34,205.74 L206.33,204.90 L205.60,203.90 L205.15,202.75 L205.00,201.30 L205.15,199.85 L205.60,198.70 L206.33,197.70 L207.34,196.86 L208.60,196.19 L210.10,195.70 L211.83,195.40 L214.00,195.30 L216.17,195.40 L217.90,195.70 L219.40,196.19 L220.66,196.86 L221.67,197.70 L222.40,198.70 L222.85,199.85 Z" fill="url(#d6)"/>
</g>
</g>
<rect x="205.90" y="177.60" width="46.00" height="17.00" fill="none" stroke="#808080" stroke-width="0.8" />
<path d="M220.00,194.60 L220.00,209.30 L237.20,209.30" stroke="#808080" stroke-width="0.8" fill="none" />
<text x="206.30" y="174.01" font-size="5.3" textLength="9.55" lengthAdjust="spacingAndGlyphs" stroke="#2a2a2a" stroke-width="0.16" >0.13</text>
<text x="248.60" y="172.75" font-size="8.2" text-anchor="end" font-weight="bold" fill="#111" textLength="14.15" lengthAdjust="spacingAndGlyphs" stroke="#111" stroke-width="0.3" >D30</text>
<text x="250.70" y="208.11" font-size="5.3" text-anchor="end" textLength="9.55" lengthAdjust="spacingAndGlyphs" stroke="#2a2a2a" stroke-width="0.16" >6.77</text>
<rect x="204.80" y="163.20" width="49.60" height="48.90" fill="none" stroke="#1a1a1a" stroke-width="1.1" />
<rect x="288.40" y="163.20" width="49.60" height="48.90" fill="#fff" />
<text x="282.80" y="168.89" font-size="4.7" text-anchor="end" textLength="5.40" lengthAdjust="spacingAndGlyphs" stroke="#2a2a2a" stroke-width="0.16" >10</text>
<text x="283.00" y="166.65" font-size="3.2" textLength="1.70" lengthAdjust="spacingAndGlyphs" stroke="#2a2a2a" stroke-width="0.16" >5</text>
<line x1="286.80" y1="167.20" x2="288.40" y2="167.20" stroke="#111" stroke-width="0.9" />
<text x="282.80" y="179.09" font-size="4.7" text-anchor="end" textLength="5.40" lengthAdjust="spacingAndGlyphs" stroke="#2a2a2a" stroke-width="0.16" >10</text>
<text x="283.00" y="176.85" font-size="3.2" textLength="1.70" lengthAdjust="spacingAndGlyphs" stroke="#2a2a2a" stroke-width="0.16" >4</text>
<line x1="286.80" y1="177.40" x2="288.40" y2="177.40" stroke="#111" stroke-width="0.9" />
<text x="282.80" y="190.39" font-size="4.7" text-anchor="end" textLength="5.40" lengthAdjust="spacingAndGlyphs" stroke="#2a2a2a" stroke-width="0.16" >10</text>
<text x="283.00" y="188.15" font-size="3.2" textLength="1.70" lengthAdjust="spacingAndGlyphs" stroke="#2a2a2a" stroke-width="0.16" >3</text>
<line x1="286.80" y1="188.70" x2="288.40" y2="188.70" stroke="#111" stroke-width="0.9" />
<text x="282.80" y="201.89" font-size="4.7" text-anchor="end" textLength="2.70" lengthAdjust="spacingAndGlyphs" stroke="#2a2a2a" stroke-width="0.16" >0</text>
<line x1="286.80" y1="200.20" x2="288.40" y2="200.20" stroke="#111" stroke-width="0.9" />
<text x="282.80" y="212.89" font-size="4.7" text-anchor="end" textLength="8.00" lengthAdjust="spacingAndGlyphs" stroke="#2a2a2a" stroke-width="0.16" >−10</text>
<text x="283.00" y="210.65" font-size="3.2" textLength="1.70" lengthAdjust="spacingAndGlyphs" stroke="#2a2a2a" stroke-width="0.16" >3</text>
<line x1="286.80" y1="211.20" x2="288.40" y2="211.20" stroke="#111" stroke-width="0.9" />
<text x="291.50" y="220.19" font-size="4.7" text-anchor="middle" textLength="7.20" lengthAdjust="spacingAndGlyphs" stroke="#2a2a2a" stroke-width="0.16" >−10</text>
<text x="295.25" y="217.95" font-size="3.2" textLength="1.70" lengthAdjust="spacingAndGlyphs" stroke="#2a2a2a" stroke-width="0.16" >3</text>
<line x1="292.40" y1="212.10" x2="292.40" y2="213.70" stroke="#111" stroke-width="0.9" />
<text x="302.80" y="220.19" font-size="4.7" text-anchor="middle" textLength="2.70" lengthAdjust="spacingAndGlyphs" stroke="#2a2a2a" stroke-width="0.16" >0</text>
<line x1="302.80" y1="212.10" x2="302.80" y2="213.70" stroke="#111" stroke-width="0.9" />
<text x="311.50" y="220.19" font-size="4.7" text-anchor="middle" textLength="5.00" lengthAdjust="spacingAndGlyphs" stroke="#2a2a2a" stroke-width="0.16" >10</text>
<text x="314.15" y="217.95" font-size="3.2" textLength="1.70" lengthAdjust="spacingAndGlyphs" stroke="#2a2a2a" stroke-width="0.16" >3</text>
<line x1="312.40" y1="212.10" x2="312.40" y2="213.70" stroke="#111" stroke-width="0.9" />
<text x="322.70" y="220.19" font-size="4.7" text-anchor="middle" textLength="5.00" lengthAdjust="spacingAndGlyphs" stroke="#2a2a2a" stroke-width="0.16" >10</text>
<text x="325.35" y="217.95" font-size="3.2" textLength="1.70" lengthAdjust="spacingAndGlyphs" stroke="#2a2a2a" stroke-width="0.16" >4</text>
<line x1="323.60" y1="212.10" x2="323.60" y2="213.70" stroke="#111" stroke-width="0.9" />
<text x="332.10" y="220.19" font-size="4.7" text-anchor="middle" textLength="5.00" lengthAdjust="spacingAndGlyphs" stroke="#2a2a2a" stroke-width="0.16" >10</text>
<text x="334.75" y="217.95" font-size="3.2" textLength="1.70" lengthAdjust="spacingAndGlyphs" stroke="#2a2a2a" stroke-width="0.16" >5</text>
<line x1="333.00" y1="212.10" x2="333.00" y2="213.70" stroke="#111" stroke-width="0.9" />
<g clip-path="url(#cp3)">
<ellipse cx="303.00" cy="191.00" rx="14.00" ry="17.00" fill="url(#g_pur)" opacity="0.40"/>
<ellipse cx="303.00" cy="191.00" rx="14.00" ry="17.00" fill="url(#g_hal)" filter="url(#spk)" opacity="1.0"/>
<g filter="url(#cmap)">
<path d="M289.5,175.0 Q290.5,171.0 296.0,171.5 L304.8,170.6 Q305.5,176.5 304.0,181.0 Q303.0,185.0 302.2,188.0 Q296.0,185.0 291.0,182.0 Q289.0,179.0 289.5,175.0 Z" fill="url(#d7)"/>
</g>
</g>
<line x1="304.30" y1="163.20" x2="304.30" y2="212.10" stroke="#808080" stroke-width="0.8" />
<line x1="288.40" y1="188.50" x2="338.00" y2="188.50" stroke="#808080" stroke-width="0.8" />
<text x="289.80" y="171.41" font-size="5.3" textLength="9.55" lengthAdjust="spacingAndGlyphs" stroke="#2a2a2a" stroke-width="0.16" >90.5</text>
<text x="317.80" y="171.41" font-size="5.3" textLength="9.55" lengthAdjust="spacingAndGlyphs" stroke="#2a2a2a" stroke-width="0.16" >6.29</text>
<text x="289.80" y="208.21" font-size="5.3" textLength="9.55" lengthAdjust="spacingAndGlyphs" stroke="#2a2a2a" stroke-width="0.16" >2.03</text>
<text x="317.80" y="208.21" font-size="5.3" textLength="9.55" lengthAdjust="spacingAndGlyphs" stroke="#2a2a2a" stroke-width="0.16" >1.15</text>
<rect x="288.40" y="163.20" width="49.60" height="48.90" fill="none" stroke="#1a1a1a" stroke-width="1.1" />
<rect x="372.90" y="163.20" width="49.60" height="48.90" fill="#fff" />
<text x="367.30" y="168.89" font-size="4.7" text-anchor="end" textLength="5.40" lengthAdjust="spacingAndGlyphs" stroke="#2a2a2a" stroke-width="0.16" >10</text>
<text x="367.50" y="166.65" font-size="3.2" textLength="1.70" lengthAdjust="spacingAndGlyphs" stroke="#2a2a2a" stroke-width="0.16" >5</text>
<line x1="371.30" y1="167.20" x2="372.90" y2="167.20" stroke="#111" stroke-width="0.9" />
<text x="367.30" y="179.09" font-size="4.7" text-anchor="end" textLength="5.40" lengthAdjust="spacingAndGlyphs" stroke="#2a2a2a" stroke-width="0.16" >10</text>
<text x="367.50" y="176.85" font-size="3.2" textLength="1.70" lengthAdjust="spacingAndGlyphs" stroke="#2a2a2a" stroke-width="0.16" >4</text>
<line x1="371.30" y1="177.40" x2="372.90" y2="177.40" stroke="#111" stroke-width="0.9" />
<text x="367.30" y="190.39" font-size="4.7" text-anchor="end" textLength="5.40" lengthAdjust="spacingAndGlyphs" stroke="#2a2a2a" stroke-width="0.16" >10</text>
<text x="367.50" y="188.15" font-size="3.2" textLength="1.70" lengthAdjust="spacingAndGlyphs" stroke="#2a2a2a" stroke-width="0.16" >3</text>
<line x1="371.30" y1="188.70" x2="372.90" y2="188.70" stroke="#111" stroke-width="0.9" />
<text x="367.30" y="201.89" font-size="4.7" text-anchor="end" textLength="2.70" lengthAdjust="spacingAndGlyphs" stroke="#2a2a2a" stroke-width="0.16" >0</text>
<line x1="371.30" y1="200.20" x2="372.90" y2="200.20" stroke="#111" stroke-width="0.9" />
<text x="367.30" y="212.89" font-size="4.7" text-anchor="end" textLength="8.00" lengthAdjust="spacingAndGlyphs" stroke="#2a2a2a" stroke-width="0.16" >−10</text>
<text x="367.50" y="210.65" font-size="3.2" textLength="1.70" lengthAdjust="spacingAndGlyphs" stroke="#2a2a2a" stroke-width="0.16" >3</text>
<line x1="371.30" y1="211.20" x2="372.90" y2="211.20" stroke="#111" stroke-width="0.9" />
<text x="376.00" y="220.19" font-size="4.7" text-anchor="middle" textLength="7.20" lengthAdjust="spacingAndGlyphs" stroke="#2a2a2a" stroke-width="0.16" >−10</text>
<text x="379.75" y="217.95" font-size="3.2" textLength="1.70" lengthAdjust="spacingAndGlyphs" stroke="#2a2a2a" stroke-width="0.16" >3</text>
<line x1="376.90" y1="212.10" x2="376.90" y2="213.70" stroke="#111" stroke-width="0.9" />
<text x="387.30" y="220.19" font-size="4.7" text-anchor="middle" textLength="2.70" lengthAdjust="spacingAndGlyphs" stroke="#2a2a2a" stroke-width="0.16" >0</text>
<line x1="387.30" y1="212.10" x2="387.30" y2="213.70" stroke="#111" stroke-width="0.9" />
<text x="396.00" y="220.19" font-size="4.7" text-anchor="middle" textLength="5.00" lengthAdjust="spacingAndGlyphs" stroke="#2a2a2a" stroke-width="0.16" >10</text>
<text x="398.65" y="217.95" font-size="3.2" textLength="1.70" lengthAdjust="spacingAndGlyphs" stroke="#2a2a2a" stroke-width="0.16" >3</text>
<line x1="396.90" y1="212.10" x2="396.90" y2="213.70" stroke="#111" stroke-width="0.9" />
<text x="407.20" y="220.19" font-size="4.7" text-anchor="middle" textLength="5.00" lengthAdjust="spacingAndGlyphs" stroke="#2a2a2a" stroke-width="0.16" >10</text>
<text x="409.85" y="217.95" font-size="3.2" textLength="1.70" lengthAdjust="spacingAndGlyphs" stroke="#2a2a2a" stroke-width="0.16" >4</text>
<line x1="408.10" y1="212.10" x2="408.10" y2="213.70" stroke="#111" stroke-width="0.9" />
<text x="416.60" y="220.19" font-size="4.7" text-anchor="middle" textLength="5.00" lengthAdjust="spacingAndGlyphs" stroke="#2a2a2a" stroke-width="0.16" >10</text>
<text x="419.25" y="217.95" font-size="3.2" textLength="1.70" lengthAdjust="spacingAndGlyphs" stroke="#2a2a2a" stroke-width="0.16" >5</text>
<line x1="417.50" y1="212.10" x2="417.50" y2="213.70" stroke="#111" stroke-width="0.9" />
<g clip-path="url(#cp4)">
<ellipse cx="389.00" cy="200.50" rx="10.00" ry="10.00" fill="url(#g_pur)" opacity="0.40"/>
<ellipse cx="389.00" cy="200.50" rx="10.00" ry="10.00" fill="url(#g_hal)" filter="url(#spk)" opacity="1.0"/>
<g filter="url(#cmap)">
<path d="M395.10,200.50 L394.99,202.63 L394.67,204.08 L394.15,205.27 L393.42,206.24 L392.48,207.01 L391.34,207.56 L389.95,207.89 L387.90,208.00 L385.85,207.89 L384.46,207.56 L383.32,207.01 L382.38,206.24 L381.65,205.27 L381.13,204.08 L380.81,202.63 L380.70,200.50 L380.81,198.37 L381.13,196.92 L381.65,195.73 L382.38,194.76 L383.32,193.99 L384.46,193.44 L385.85,193.11 L387.90,193.00 L389.95,193.11 L391.34,193.44 L392.48,193.99 L393.42,194.76 L394.15,195.73 L394.67,196.92 L394.99,198.37 Z" fill="url(#d8)"/>
</g>
</g>
<rect x="375.70" y="176.80" width="44.00" height="14.60" fill="none" stroke="#808080" stroke-width="0.8" />
<path d="M394.60,191.40 L394.60,210.00 L402.40,210.00" stroke="#808080" stroke-width="0.8" fill="none" />
<text x="374.40" y="172.11" font-size="5.3" textLength="12.30" lengthAdjust="spacingAndGlyphs" stroke="#2a2a2a" stroke-width="0.16" >0.055</text>
<text x="417.60" y="172.75" font-size="8.2" text-anchor="end" font-weight="bold" fill="#111" textLength="14.15" lengthAdjust="spacingAndGlyphs" stroke="#111" stroke-width="0.3" >D30</text>
<text x="419.50" y="208.11" font-size="5.3" text-anchor="end" textLength="9.55" lengthAdjust="spacingAndGlyphs" stroke="#2a2a2a" stroke-width="0.16" >1.13</text>
<rect x="372.90" y="163.20" width="49.60" height="48.90" fill="none" stroke="#1a1a1a" stroke-width="1.1" />
<rect x="459.40" y="163.20" width="49.60" height="48.90" fill="#fff" />
<text x="453.80" y="168.89" font-size="4.7" text-anchor="end" textLength="5.40" lengthAdjust="spacingAndGlyphs" stroke="#2a2a2a" stroke-width="0.16" >10</text>
<text x="454.00" y="166.65" font-size="3.2" textLength="1.70" lengthAdjust="spacingAndGlyphs" stroke="#2a2a2a" stroke-width="0.16" >5</text>
<line x1="457.80" y1="167.20" x2="459.40" y2="167.20" stroke="#111" stroke-width="0.9" />
<text x="453.80" y="179.09" font-size="4.7" text-anchor="end" textLength="5.40" lengthAdjust="spacingAndGlyphs" stroke="#2a2a2a" stroke-width="0.16" >10</text>
<text x="454.00" y="176.85" font-size="3.2" textLength="1.70" lengthAdjust="spacingAndGlyphs" stroke="#2a2a2a" stroke-width="0.16" >4</text>
<line x1="457.80" y1="177.40" x2="459.40" y2="177.40" stroke="#111" stroke-width="0.9" />
<text x="453.80" y="190.39" font-size="4.7" text-anchor="end" textLength="5.40" lengthAdjust="spacingAndGlyphs" stroke="#2a2a2a" stroke-width="0.16" >10</text>
<text x="454.00" y="188.15" font-size="3.2" textLength="1.70" lengthAdjust="spacingAndGlyphs" stroke="#2a2a2a" stroke-width="0.16" >3</text>
<line x1="457.80" y1="188.70" x2="459.40" y2="188.70" stroke="#111" stroke-width="0.9" />
<text x="453.80" y="201.89" font-size="4.7" text-anchor="end" textLength="2.70" lengthAdjust="spacingAndGlyphs" stroke="#2a2a2a" stroke-width="0.16" >0</text>
<line x1="457.80" y1="200.20" x2="459.40" y2="200.20" stroke="#111" stroke-width="0.9" />
<text x="453.80" y="212.89" font-size="4.7" text-anchor="end" textLength="8.00" lengthAdjust="spacingAndGlyphs" stroke="#2a2a2a" stroke-width="0.16" >−10</text>
<text x="454.00" y="210.65" font-size="3.2" textLength="1.70" lengthAdjust="spacingAndGlyphs" stroke="#2a2a2a" stroke-width="0.16" >3</text>
<line x1="457.80" y1="211.20" x2="459.40" y2="211.20" stroke="#111" stroke-width="0.9" />
<text x="462.50" y="220.19" font-size="4.7" text-anchor="middle" textLength="7.20" lengthAdjust="spacingAndGlyphs" stroke="#2a2a2a" stroke-width="0.16" >−10</text>
<text x="466.25" y="217.95" font-size="3.2" textLength="1.70" lengthAdjust="spacingAndGlyphs" stroke="#2a2a2a" stroke-width="0.16" >3</text>
<line x1="463.40" y1="212.10" x2="463.40" y2="213.70" stroke="#111" stroke-width="0.9" />
<text x="473.80" y="220.19" font-size="4.7" text-anchor="middle" textLength="2.70" lengthAdjust="spacingAndGlyphs" stroke="#2a2a2a" stroke-width="0.16" >0</text>
<line x1="473.80" y1="212.10" x2="473.80" y2="213.70" stroke="#111" stroke-width="0.9" />
<text x="482.50" y="220.19" font-size="4.7" text-anchor="middle" textLength="5.00" lengthAdjust="spacingAndGlyphs" stroke="#2a2a2a" stroke-width="0.16" >10</text>
<text x="485.15" y="217.95" font-size="3.2" textLength="1.70" lengthAdjust="spacingAndGlyphs" stroke="#2a2a2a" stroke-width="0.16" >3</text>
<line x1="483.40" y1="212.10" x2="483.40" y2="213.70" stroke="#111" stroke-width="0.9" />
<text x="493.70" y="220.19" font-size="4.7" text-anchor="middle" textLength="5.00" lengthAdjust="spacingAndGlyphs" stroke="#2a2a2a" stroke-width="0.16" >10</text>
<text x="496.35" y="217.95" font-size="3.2" textLength="1.70" lengthAdjust="spacingAndGlyphs" stroke="#2a2a2a" stroke-width="0.16" >4</text>
<line x1="494.60" y1="212.10" x2="494.60" y2="213.70" stroke="#111" stroke-width="0.9" />
<text x="503.10" y="220.19" font-size="4.7" text-anchor="middle" textLength="5.00" lengthAdjust="spacingAndGlyphs" stroke="#2a2a2a" stroke-width="0.16" >10</text>
<text x="505.75" y="217.95" font-size="3.2" textLength="1.70" lengthAdjust="spacingAndGlyphs" stroke="#2a2a2a" stroke-width="0.16" >5</text>
<line x1="504.00" y1="212.10" x2="504.00" y2="213.70" stroke="#111" stroke-width="0.9" />
<g clip-path="url(#cp5)">
<ellipse cx="478.00" cy="190.00" rx="9.00" ry="13.00" fill="url(#g_pur)" opacity="0.40"/>
<ellipse cx="478.00" cy="190.00" rx="9.00" ry="13.00" fill="url(#g_hal)" filter="url(#spk)" opacity="1.0"/>
<g filter="url(#cmap)">
<rect x="471.50" y="186.00" width="3.00" height="13.00" fill="#000" fill-opacity="0.18"/>
<path d="M470.00,199.30 L479.00,199.30 A1.00,1.00 0 0 1 479.00,201.30 L470.00,201.30 A1.00,1.00 0 0 1 470.00,199.30 Z" fill="url(#l9)"/>
<path d="M466.5,176.2 Q467.0,172.2 472.0,172.6 L478.5,171.8 Q481.4,172.5 480.6,176.0 Q479.5,180.5 476.8,183.5 Q475.0,186.0 473.6,187.6 Q470.5,184.5 468.5,181.5 Q466.3,179.0 466.5,176.2 Z" fill="url(#d10)"/>
</g>
</g>
<line x1="479.80" y1="163.20" x2="479.80" y2="212.10" stroke="#808080" stroke-width="0.8" />
<line x1="459.40" y1="188.50" x2="509.00" y2="188.50" stroke="#808080" stroke-width="0.8" />
<text x="460.80" y="171.41" font-size="5.3" textLength="9.55" lengthAdjust="spacingAndGlyphs" stroke="#2a2a2a" stroke-width="0.16" >94.4</text>
<text x="488.80" y="171.41" font-size="5.3" textLength="9.55" lengthAdjust="spacingAndGlyphs" stroke="#2a2a2a" stroke-width="0.16" >2.10</text>
<text x="460.80" y="208.21" font-size="5.3" textLength="9.55" lengthAdjust="spacingAndGlyphs" stroke="#2a2a2a" stroke-width="0.16" >3.05</text>
<text x="488.80" y="208.21" font-size="5.3" textLength="9.55" lengthAdjust="spacingAndGlyphs" stroke="#2a2a2a" stroke-width="0.16" >0.45</text>
<rect x="459.40" y="163.20" width="49.60" height="48.90" fill="none" stroke="#1a1a1a" stroke-width="1.1" />
<rect x="35.30" y="224.40" width="49.60" height="48.90" fill="#fff" />
<text x="29.70" y="230.09" font-size="4.7" text-anchor="end" textLength="5.40" lengthAdjust="spacingAndGlyphs" stroke="#2a2a2a" stroke-width="0.16" >10</text>
<text x="29.90" y="227.85" font-size="3.2" textLength="1.70" lengthAdjust="spacingAndGlyphs" stroke="#2a2a2a" stroke-width="0.16" >5</text>
<line x1="33.70" y1="228.40" x2="35.30" y2="228.40" stroke="#111" stroke-width="0.9" />
<text x="29.70" y="240.29" font-size="4.7" text-anchor="end" textLength="5.40" lengthAdjust="spacingAndGlyphs" stroke="#2a2a2a" stroke-width="0.16" >10</text>
<text x="29.90" y="238.05" font-size="3.2" textLength="1.70" lengthAdjust="spacingAndGlyphs" stroke="#2a2a2a" stroke-width="0.16" >4</text>
<line x1="33.70" y1="238.60" x2="35.30" y2="238.60" stroke="#111" stroke-width="0.9" />
<text x="29.70" y="251.59" font-size="4.7" text-anchor="end" textLength="5.40" lengthAdjust="spacingAndGlyphs" stroke="#2a2a2a" stroke-width="0.16" >10</text>
<text x="29.90" y="249.35" font-size="3.2" textLength="1.70" lengthAdjust="spacingAndGlyphs" stroke="#2a2a2a" stroke-width="0.16" >3</text>
<line x1="33.70" y1="249.90" x2="35.30" y2="249.90" stroke="#111" stroke-width="0.9" />
<text x="29.70" y="263.09" font-size="4.7" text-anchor="end" textLength="2.70" lengthAdjust="spacingAndGlyphs" stroke="#2a2a2a" stroke-width="0.16" >0</text>
<line x1="33.70" y1="261.40" x2="35.30" y2="261.40" stroke="#111" stroke-width="0.9" />
<text x="29.70" y="274.09" font-size="4.7" text-anchor="end" textLength="8.00" lengthAdjust="spacingAndGlyphs" stroke="#2a2a2a" stroke-width="0.16" >−10</text>
<text x="29.90" y="271.85" font-size="3.2" textLength="1.70" lengthAdjust="spacingAndGlyphs" stroke="#2a2a2a" stroke-width="0.16" >3</text>
<line x1="33.70" y1="272.40" x2="35.30" y2="272.40" stroke="#111" stroke-width="0.9" />
<text x="38.40" y="281.39" font-size="4.7" text-anchor="middle" textLength="7.20" lengthAdjust="spacingAndGlyphs" stroke="#2a2a2a" stroke-width="0.16" >−10</text>
<text x="42.15" y="279.15" font-size="3.2" textLength="1.70" lengthAdjust="spacingAndGlyphs" stroke="#2a2a2a" stroke-width="0.16" >3</text>
<line x1="39.30" y1="273.30" x2="39.30" y2="274.90" stroke="#111" stroke-width="0.9" />
<text x="49.70" y="281.39" font-size="4.7" text-anchor="middle" textLength="2.70" lengthAdjust="spacingAndGlyphs" stroke="#2a2a2a" stroke-width="0.16" >0</text>
<line x1="49.70" y1="273.30" x2="49.70" y2="274.90" stroke="#111" stroke-width="0.9" />
<text x="58.40" y="281.39" font-size="4.7" text-anchor="middle" textLength="5.00" lengthAdjust="spacingAndGlyphs" stroke="#2a2a2a" stroke-width="0.16" >10</text>
<text x="61.05" y="279.15" font-size="3.2" textLength="1.70" lengthAdjust="spacingAndGlyphs" stroke="#2a2a2a" stroke-width="0.16" >3</text>
<line x1="59.30" y1="273.30" x2="59.30" y2="274.90" stroke="#111" stroke-width="0.9" />
<text x="69.60" y="281.39" font-size="4.7" text-anchor="middle" textLength="5.00" lengthAdjust="spacingAndGlyphs" stroke="#2a2a2a" stroke-width="0.16" >10</text>
<text x="72.25" y="279.15" font-size="3.2" textLength="1.70" lengthAdjust="spacingAndGlyphs" stroke="#2a2a2a" stroke-width="0.16" >4</text>
<line x1="70.50" y1="273.30" x2="70.50" y2="274.90" stroke="#111" stroke-width="0.9" />
<text x="79.00" y="281.39" font-size="4.7" text-anchor="middle" textLength="5.00" lengthAdjust="spacingAndGlyphs" stroke="#2a2a2a" stroke-width="0.16" >10</text>
<text x="81.65" y="279.15" font-size="3.2" textLength="1.70" lengthAdjust="spacingAndGlyphs" stroke="#2a2a2a" stroke-width="0.16" >5</text>
<line x1="79.90" y1="273.30" x2="79.90" y2="274.90" stroke="#111" stroke-width="0.9" />
<g clip-path="url(#cp6)">
<ellipse cx="47.00" cy="243.20" rx="7.00" ry="4.50" fill="url(#g_pur)" opacity="0.40"/>
<ellipse cx="47.00" cy="243.20" rx="7.00" ry="4.50" fill="url(#g_hal)" filter="url(#spk)" opacity="1.0"/>
<ellipse cx="53.50" cy="260.50" rx="17.00" ry="10.00" fill="url(#g_pur)" opacity="0.40"/>
<ellipse cx="53.50" cy="260.50" rx="17.00" ry="10.00" fill="url(#g_hal)" filter="url(#spk)" opacity="1.0"/>
<g filter="url(#cmap)">
<path d="M52.00,243.20 L51.92,244.02 L51.68,244.64 L51.29,245.16 L50.75,245.60 L50.06,245.94 L49.25,246.20 L48.28,246.35 L47.00,246.40 L45.72,246.35 L44.75,246.20 L43.94,245.94 L43.25,245.60 L42.71,245.16 L42.32,244.64 L42.08,244.02 L42.00,243.20 L42.08,242.38 L42.32,241.76 L42.71,241.24 L43.25,240.80 L43.94,240.46 L44.75,240.20 L45.72,240.05 L47.00,240.00 L48.28,240.05 L49.25,240.20 L50.06,240.46 L50.75,240.80 L51.29,241.24 L51.68,241.76 L51.92,242.38 Z" fill="url(#d11)"/>
<path d="M66.90,260.50 L66.80,262.55 L66.51,263.94 L66.03,265.08 L65.36,266.02 L64.50,266.75 L63.45,267.27 L62.18,267.59 L60.30,267.70 L58.42,267.59 L57.15,267.27 L56.10,266.75 L55.24,266.02 L54.57,265.08 L54.09,263.94 L53.80,262.55 L53.70,260.50 L53.80,258.45 L54.09,257.06 L54.57,255.92 L55.24,254.98 L56.10,254.25 L57.15,253.73 L58.42,253.41 L60.30,253.30 L62.18,253.41 L63.45,253.73 L64.50,254.25 L65.36,254.98 L66.03,255.92 L66.51,257.06 L66.80,258.45 Z" fill="url(#d12)"/>
<path d="M54.80,260.50 L54.69,262.66 L54.37,264.13 L53.85,265.34 L53.12,266.32 L52.18,267.09 L51.04,267.65 L49.65,267.99 L47.60,268.10 L45.55,267.99 L44.16,267.65 L43.02,267.09 L42.08,266.32 L41.35,265.34 L40.83,264.13 L40.51,262.66 L40.40,260.50 L40.51,258.34 L40.83,256.87 L41.35,255.66 L42.08,254.68 L43.02,253.91 L44.16,253.35 L45.55,253.01 L47.60,252.90 L49.65,253.01 L51.04,253.35 L52.18,253.91 L53.12,254.68 L53.85,255.66 L54.37,256.87 L54.69,258.34 Z" fill="url(#d13)"/>
</g>
</g>
<rect x="35.60" y="236.80" width="47.60" height="12.80" fill="none" stroke="#808080" stroke-width="0.8" />
<path d="M56.50,273.30 L56.50,249.60 L84.90,249.60" stroke="#808080" stroke-width="0.8" fill="none" />
<text x="37.60" y="232.11" font-size="5.3" textLength="9.55" lengthAdjust="spacingAndGlyphs" stroke="#2a2a2a" stroke-width="0.16" >4.04</text>
<text x="78.00" y="233.95" font-size="8.2" text-anchor="end" font-weight="bold" fill="#111" textLength="14.15" lengthAdjust="spacingAndGlyphs" stroke="#111" stroke-width="0.3" >D60</text>
<text x="80.60" y="269.31" font-size="5.3" text-anchor="end" textLength="9.55" lengthAdjust="spacingAndGlyphs" stroke="#2a2a2a" stroke-width="0.16" >37.2</text>
<rect x="35.30" y="224.40" width="49.60" height="48.90" fill="none" stroke="#1a1a1a" stroke-width="1.1" />
<rect x="116.60" y="224.40" width="49.60" height="48.90" fill="#fff" />
<text x="111.00" y="230.09" font-size="4.7" text-anchor="end" textLength="5.40" lengthAdjust="spacingAndGlyphs" stroke="#2a2a2a" stroke-width="0.16" >10</text>
<text x="111.20" y="227.85" font-size="3.2" textLength="1.70" lengthAdjust="spacingAndGlyphs" stroke="#2a2a2a" stroke-width="0.16" >5</text>
<line x1="115.00" y1="228.40" x2="116.60" y2="228.40" stroke="#111" stroke-width="0.9" />
<text x="111.00" y="240.29" font-size="4.7" text-anchor="end" textLength="5.40" lengthAdjust="spacingAndGlyphs" stroke="#2a2a2a" stroke-width="0.16" >10</text>
<text x="111.20" y="238.05" font-size="3.2" textLength="1.70" lengthAdjust="spacingAndGlyphs" stroke="#2a2a2a" stroke-width="0.16" >4</text>
<line x1="115.00" y1="238.60" x2="116.60" y2="238.60" stroke="#111" stroke-width="0.9" />
<text x="111.00" y="251.59" font-size="4.7" text-anchor="end" textLength="5.40" lengthAdjust="spacingAndGlyphs" stroke="#2a2a2a" stroke-width="0.16" >10</text>
<text x="111.20" y="249.35" font-size="3.2" textLength="1.70" lengthAdjust="spacingAndGlyphs" stroke="#2a2a2a" stroke-width="0.16" >3</text>
<line x1="115.00" y1="249.90" x2="116.60" y2="249.90" stroke="#111" stroke-width="0.9" />
<text x="111.00" y="263.09" font-size="4.7" text-anchor="end" textLength="2.70" lengthAdjust="spacingAndGlyphs" stroke="#2a2a2a" stroke-width="0.16" >0</text>
<line x1="115.00" y1="261.40" x2="116.60" y2="261.40" stroke="#111" stroke-width="0.9" />
<text x="111.00" y="274.09" font-size="4.7" text-anchor="end" textLength="8.00" lengthAdjust="spacingAndGlyphs" stroke="#2a2a2a" stroke-width="0.16" >−10</text>
<text x="111.20" y="271.85" font-size="3.2" textLength="1.70" lengthAdjust="spacingAndGlyphs" stroke="#2a2a2a" stroke-width="0.16" >3</text>
<line x1="115.00" y1="272.40" x2="116.60" y2="272.40" stroke="#111" stroke-width="0.9" />
<text x="119.70" y="281.39" font-size="4.7" text-anchor="middle" textLength="7.20" lengthAdjust="spacingAndGlyphs" stroke="#2a2a2a" stroke-width="0.16" >−10</text>
<text x="123.45" y="279.15" font-size="3.2" textLength="1.70" lengthAdjust="spacingAndGlyphs" stroke="#2a2a2a" stroke-width="0.16" >3</text>
<line x1="120.60" y1="273.30" x2="120.60" y2="274.90" stroke="#111" stroke-width="0.9" />
<text x="131.00" y="281.39" font-size="4.7" text-anchor="middle" textLength="2.70" lengthAdjust="spacingAndGlyphs" stroke="#2a2a2a" stroke-width="0.16" >0</text>
<line x1="131.00" y1="273.30" x2="131.00" y2="274.90" stroke="#111" stroke-width="0.9" />
<text x="139.70" y="281.39" font-size="4.7" text-anchor="middle" textLength="5.00" lengthAdjust="spacingAndGlyphs" stroke="#2a2a2a" stroke-width="0.16" >10</text>
<text x="142.35" y="279.15" font-size="3.2" textLength="1.70" lengthAdjust="spacingAndGlyphs" stroke="#2a2a2a" stroke-width="0.16" >3</text>
<line x1="140.60" y1="273.30" x2="140.60" y2="274.90" stroke="#111" stroke-width="0.9" />
<text x="150.90" y="281.39" font-size="4.7" text-anchor="middle" textLength="5.00" lengthAdjust="spacingAndGlyphs" stroke="#2a2a2a" stroke-width="0.16" >10</text>
<text x="153.55" y="279.15" font-size="3.2" textLength="1.70" lengthAdjust="spacingAndGlyphs" stroke="#2a2a2a" stroke-width="0.16" >4</text>
<line x1="151.80" y1="273.30" x2="151.80" y2="274.90" stroke="#111" stroke-width="0.9" />
<text x="160.30" y="281.39" font-size="4.7" text-anchor="middle" textLength="5.00" lengthAdjust="spacingAndGlyphs" stroke="#2a2a2a" stroke-width="0.16" >10</text>
<text x="162.95" y="279.15" font-size="3.2" textLength="1.70" lengthAdjust="spacingAndGlyphs" stroke="#2a2a2a" stroke-width="0.16" >5</text>
<line x1="161.20" y1="273.30" x2="161.20" y2="274.90" stroke="#111" stroke-width="0.9" />
<g clip-path="url(#cp7)">
<ellipse cx="139.50" cy="250.00" rx="9.50" ry="13.00" fill="url(#g_pur)" opacity="0.40"/>
<ellipse cx="139.50" cy="250.00" rx="9.50" ry="13.00" fill="url(#g_hal)" filter="url(#spk)" opacity="1.0"/>
<ellipse cx="128.50" cy="245.00" rx="7.50" ry="13.00" fill="url(#g_pur)" opacity="0.40"/>
<ellipse cx="128.50" cy="245.00" rx="7.50" ry="13.00" fill="url(#g_hal)" filter="url(#spk)" opacity="1.0"/>
<g filter="url(#cmap)">
<path d="M133.50,250.00 L133.42,252.04 L133.19,253.76 L132.80,255.27 L132.28,256.57 L131.64,257.61 L130.88,258.37 L130.02,258.84 L129.00,259.00 L127.98,258.84 L127.12,258.37 L126.36,257.61 L125.72,256.57 L125.20,255.27 L124.81,253.76 L124.58,252.04 L124.50,250.00 L124.58,247.96 L124.81,246.24 L125.20,244.73 L125.72,243.43 L126.36,242.39 L127.12,241.63 L127.98,241.16 L129.00,241.00 L130.02,241.16 L130.88,241.63 L131.64,242.39 L132.28,243.43 L132.80,244.73 L133.19,246.24 L133.42,247.96 Z" fill="url(#d14)"/>
<path d="M124.0,237.5 Q124.5,234.5 128.0,235.0 L132.5,234.5 Q134.0,238.0 133.5,243.0 Q133.0,248.0 131.0,252.0 Q128.0,254.0 126.0,250.0 Q123.8,244.0 124.0,237.5 Z" fill="url(#d15)"/>
<path d="M123.10,259.60 L146.40,259.10 A1.30,1.30 0 0 1 146.40,261.70 L123.10,262.20 A1.30,1.30 0 0 1 123.10,259.60 Z" fill="url(#l16)"/>
<path d="M130.20,262.00 L143.00,262.00 A1.20,1.20 0 0 1 143.00,264.40 L130.20,264.40 A1.20,1.20 0 0 1 130.20,262.00 Z" fill="url(#l17)"/>
</g>
</g>
<line x1="136.80" y1="224.40" x2="136.80" y2="273.30" stroke="#808080" stroke-width="0.8" />
<line x1="116.60" y1="249.70" x2="166.20" y2="249.70" stroke="#808080" stroke-width="0.8" />
<text x="118.00" y="232.61" font-size="5.3" textLength="9.55" lengthAdjust="spacingAndGlyphs" stroke="#2a2a2a" stroke-width="0.16" >18.3</text>
<text x="146.00" y="232.61" font-size="5.3" textLength="9.55" lengthAdjust="spacingAndGlyphs" stroke="#2a2a2a" stroke-width="0.16" >2.86</text>
<text x="118.00" y="269.41" font-size="5.3" textLength="9.55" lengthAdjust="spacingAndGlyphs" stroke="#2a2a2a" stroke-width="0.16" >27.6</text>
<text x="146.00" y="269.41" font-size="5.3" textLength="9.55" lengthAdjust="spacingAndGlyphs" stroke="#2a2a2a" stroke-width="0.16" >51.3</text>
<rect x="116.60" y="224.40" width="49.60" height="48.90" fill="none" stroke="#1a1a1a" stroke-width="1.1" />
<rect x="204.80" y="224.40" width="49.60" height="48.90" fill="#fff" />
<text x="199.20" y="230.09" font-size="4.7" text-anchor="end" textLength="5.40" lengthAdjust="spacingAndGlyphs" stroke="#2a2a2a" stroke-width="0.16" >10</text>
<text x="199.40" y="227.85" font-size="3.2" textLength="1.70" lengthAdjust="spacingAndGlyphs" stroke="#2a2a2a" stroke-width="0.16" >5</text>
<line x1="203.20" y1="228.40" x2="204.80" y2="228.40" stroke="#111" stroke-width="0.9" />
<text x="199.20" y="240.29" font-size="4.7" text-anchor="end" textLength="5.40" lengthAdjust="spacingAndGlyphs" stroke="#2a2a2a" stroke-width="0.16" >10</text>
<text x="199.40" y="238.05" font-size="3.2" textLength="1.70" lengthAdjust="spacingAndGlyphs" stroke="#2a2a2a" stroke-width="0.16" >4</text>
<line x1="203.20" y1="238.60" x2="204.80" y2="238.60" stroke="#111" stroke-width="0.9" />
<text x="199.20" y="251.59" font-size="4.7" text-anchor="end" textLength="5.40" lengthAdjust="spacingAndGlyphs" stroke="#2a2a2a" stroke-width="0.16" >10</text>
<text x="199.40" y="249.35" font-size="3.2" textLength="1.70" lengthAdjust="spacingAndGlyphs" stroke="#2a2a2a" stroke-width="0.16" >3</text>
<line x1="203.20" y1="249.90" x2="204.80" y2="249.90" stroke="#111" stroke-width="0.9" />
<text x="199.20" y="263.09" font-size="4.7" text-anchor="end" textLength="2.70" lengthAdjust="spacingAndGlyphs" stroke="#2a2a2a" stroke-width="0.16" >0</text>
<line x1="203.20" y1="261.40" x2="204.80" y2="261.40" stroke="#111" stroke-width="0.9" />
<text x="199.20" y="274.09" font-size="4.7" text-anchor="end" textLength="8.00" lengthAdjust="spacingAndGlyphs" stroke="#2a2a2a" stroke-width="0.16" >−10</text>
<text x="199.40" y="271.85" font-size="3.2" textLength="1.70" lengthAdjust="spacingAndGlyphs" stroke="#2a2a2a" stroke-width="0.16" >3</text>
<line x1="203.20" y1="272.40" x2="204.80" y2="272.40" stroke="#111" stroke-width="0.9" />
<text x="207.90" y="281.39" font-size="4.7" text-anchor="middle" textLength="7.20" lengthAdjust="spacingAndGlyphs" stroke="#2a2a2a" stroke-width="0.16" >−10</text>
<text x="211.65" y="279.15" font-size="3.2" textLength="1.70" lengthAdjust="spacingAndGlyphs" stroke="#2a2a2a" stroke-width="0.16" >3</text>
<line x1="208.80" y1="273.30" x2="208.80" y2="274.90" stroke="#111" stroke-width="0.9" />
<text x="219.20" y="281.39" font-size="4.7" text-anchor="middle" textLength="2.70" lengthAdjust="spacingAndGlyphs" stroke="#2a2a2a" stroke-width="0.16" >0</text>
<line x1="219.20" y1="273.30" x2="219.20" y2="274.90" stroke="#111" stroke-width="0.9" />
<text x="227.90" y="281.39" font-size="4.7" text-anchor="middle" textLength="5.00" lengthAdjust="spacingAndGlyphs" stroke="#2a2a2a" stroke-width="0.16" >10</text>
<text x="230.55" y="279.15" font-size="3.2" textLength="1.70" lengthAdjust="spacingAndGlyphs" stroke="#2a2a2a" stroke-width="0.16" >3</text>
<line x1="228.80" y1="273.30" x2="228.80" y2="274.90" stroke="#111" stroke-width="0.9" />
<text x="239.10" y="281.39" font-size="4.7" text-anchor="middle" textLength="5.00" lengthAdjust="spacingAndGlyphs" stroke="#2a2a2a" stroke-width="0.16" >10</text>
<text x="241.75" y="279.15" font-size="3.2" textLength="1.70" lengthAdjust="spacingAndGlyphs" stroke="#2a2a2a" stroke-width="0.16" >4</text>
<line x1="240.00" y1="273.30" x2="240.00" y2="274.90" stroke="#111" stroke-width="0.9" />
<text x="248.50" y="281.39" font-size="4.7" text-anchor="middle" textLength="5.00" lengthAdjust="spacingAndGlyphs" stroke="#2a2a2a" stroke-width="0.16" >10</text>
<text x="251.15" y="279.15" font-size="3.2" textLength="1.70" lengthAdjust="spacingAndGlyphs" stroke="#2a2a2a" stroke-width="0.16" >5</text>
<line x1="249.40" y1="273.30" x2="249.40" y2="274.90" stroke="#111" stroke-width="0.9" />
<g clip-path="url(#cp8)">
<ellipse cx="215.00" cy="244.20" rx="3.00" ry="5.00" fill="url(#g_pur)" opacity="0.32"/>
<ellipse cx="215.00" cy="244.20" rx="3.00" ry="5.00" fill="url(#g_hal)" filter="url(#spk)" opacity="0.8"/>
<ellipse cx="222.00" cy="262.50" rx="14.00" ry="7.50" fill="url(#g_pur)" opacity="0.40"/>
<ellipse cx="222.00" cy="262.50" rx="14.00" ry="7.50" fill="url(#g_hal)" filter="url(#spk)" opacity="1.0"/>
<g filter="url(#cmap)">
<path d="M232.00,262.30 L231.88,263.21 L231.51,263.97 L230.92,264.64 L230.11,265.22 L229.10,265.68 L227.92,266.02 L226.58,266.23 L225.00,266.30 L223.42,266.23 L222.08,266.02 L220.90,265.68 L219.89,265.22 L219.08,264.64 L218.49,263.97 L218.12,263.21 L218.00,262.30 L218.12,261.39 L218.49,260.63 L219.08,259.96 L219.89,259.38 L220.90,258.92 L222.08,258.58 L223.42,258.37 L225.00,258.30 L226.58,258.37 L227.92,258.58 L229.10,258.92 L230.11,259.38 L230.92,259.96 L231.51,260.63 L231.88,261.39 Z" fill="url(#d18)"/>
<path d="M223.00,262.50 L222.85,263.95 L222.40,265.10 L221.67,266.10 L220.66,266.94 L219.40,267.61 L217.90,268.10 L216.17,268.40 L214.00,268.50 L211.83,268.40 L210.10,268.10 L208.60,267.61 L207.34,266.94 L206.33,266.10 L205.60,265.10 L205.15,263.95 L205.00,262.50 L205.15,261.05 L205.60,259.90 L206.33,258.90 L207.34,258.06 L208.60,257.39 L210.10,256.90 L211.83,256.60 L214.00,256.50 L216.17,256.60 L217.90,256.90 L219.40,257.39 L220.66,258.06 L221.67,258.90 L222.40,259.90 L222.85,261.05 Z" fill="url(#d19)"/>
</g>
</g>
<rect x="205.90" y="238.80" width="46.00" height="17.00" fill="none" stroke="#808080" stroke-width="0.8" />
<path d="M220.00,255.80 L220.00,270.50 L237.20,270.50" stroke="#808080" stroke-width="0.8" fill="none" />
<text x="206.30" y="235.21" font-size="5.3" textLength="9.55" lengthAdjust="spacingAndGlyphs" stroke="#2a2a2a" stroke-width="0.16" >0.19</text>
<text x="248.60" y="233.95" font-size="8.2" text-anchor="end" font-weight="bold" fill="#111" textLength="14.15" lengthAdjust="spacingAndGlyphs" stroke="#111" stroke-width="0.3" >D60</text>
<text x="250.70" y="269.31" font-size="5.3" text-anchor="end" textLength="9.55" lengthAdjust="spacingAndGlyphs" stroke="#2a2a2a" stroke-width="0.16" >5.09</text>
<rect x="204.80" y="224.40" width="49.60" height="48.90" fill="none" stroke="#1a1a1a" stroke-width="1.1" />
<rect x="288.40" y="224.40" width="49.60" height="48.90" fill="#fff" />
<text x="282.80" y="230.09" font-size="4.7" text-anchor="end" textLength="5.40" lengthAdjust="spacingAndGlyphs" stroke="#2a2a2a" stroke-width="0.16" >10</text>
<text x="283.00" y="227.85" font-size="3.2" textLength="1.70" lengthAdjust="spacingAndGlyphs" stroke="#2a2a2a" stroke-width="0.16" >5</text>
<line x1="286.80" y1="228.40" x2="288.40" y2="228.40" stroke="#111" stroke-width="0.9" />
<text x="282.80" y="240.29" font-size="4.7" text-anchor="end" textLength="5.40" lengthAdjust="spacingAndGlyphs" stroke="#2a2a2a" stroke-width="0.16" >10</text>
<text x="283.00" y="238.05" font-size="3.2" textLength="1.70" lengthAdjust="spacingAndGlyphs" stroke="#2a2a2a" stroke-width="0.16" >4</text>
<line x1="286.80" y1="238.60" x2="288.40" y2="238.60" stroke="#111" stroke-width="0.9" />
<text x="282.80" y="251.59" font-size="4.7" text-anchor="end" textLength="5.40" lengthAdjust="spacingAndGlyphs" stroke="#2a2a2a" stroke-width="0.16" >10</text>
<text x="283.00" y="249.35" font-size="3.2" textLength="1.70" lengthAdjust="spacingAndGlyphs" stroke="#2a2a2a" stroke-width="0.16" >3</text>
<line x1="286.80" y1="249.90" x2="288.40" y2="249.90" stroke="#111" stroke-width="0.9" />
<text x="282.80" y="263.09" font-size="4.7" text-anchor="end" textLength="2.70" lengthAdjust="spacingAndGlyphs" stroke="#2a2a2a" stroke-width="0.16" >0</text>
<line x1="286.80" y1="261.40" x2="288.40" y2="261.40" stroke="#111" stroke-width="0.9" />
<text x="282.80" y="274.09" font-size="4.7" text-anchor="end" textLength="8.00" lengthAdjust="spacingAndGlyphs" stroke="#2a2a2a" stroke-width="0.16" >−10</text>
<text x="283.00" y="271.85" font-size="3.2" textLength="1.70" lengthAdjust="spacingAndGlyphs" stroke="#2a2a2a" stroke-width="0.16" >3</text>
<line x1="286.80" y1="272.40" x2="288.40" y2="272.40" stroke="#111" stroke-width="0.9" />
<text x="291.50" y="281.39" font-size="4.7" text-anchor="middle" textLength="7.20" lengthAdjust="spacingAndGlyphs" stroke="#2a2a2a" stroke-width="0.16" >−10</text>
<text x="295.25" y="279.15" font-size="3.2" textLength="1.70" lengthAdjust="spacingAndGlyphs" stroke="#2a2a2a" stroke-width="0.16" >3</text>
<line x1="292.40" y1="273.30" x2="292.40" y2="274.90" stroke="#111" stroke-width="0.9" />
<text x="302.80" y="281.39" font-size="4.7" text-anchor="middle" textLength="2.70" lengthAdjust="spacingAndGlyphs" stroke="#2a2a2a" stroke-width="0.16" >0</text>
<line x1="302.80" y1="273.30" x2="302.80" y2="274.90" stroke="#111" stroke-width="0.9" />
<text x="311.50" y="281.39" font-size="4.7" text-anchor="middle" textLength="5.00" lengthAdjust="spacingAndGlyphs" stroke="#2a2a2a" stroke-width="0.16" >10</text>
<text x="314.15" y="279.15" font-size="3.2" textLength="1.70" lengthAdjust="spacingAndGlyphs" stroke="#2a2a2a" stroke-width="0.16" >3</text>
<line x1="312.40" y1="273.30" x2="312.40" y2="274.90" stroke="#111" stroke-width="0.9" />
<text x="322.70" y="281.39" font-size="4.7" text-anchor="middle" textLength="5.00" lengthAdjust="spacingAndGlyphs" stroke="#2a2a2a" stroke-width="0.16" >10</text>
<text x="325.35" y="279.15" font-size="3.2" textLength="1.70" lengthAdjust="spacingAndGlyphs" stroke="#2a2a2a" stroke-width="0.16" >4</text>
<line x1="323.60" y1="273.30" x2="323.60" y2="274.90" stroke="#111" stroke-width="0.9" />
<text x="332.10" y="281.39" font-size="4.7" text-anchor="middle" textLength="5.00" lengthAdjust="spacingAndGlyphs" stroke="#2a2a2a" stroke-width="0.16" >10</text>
<text x="334.75" y="279.15" font-size="3.2" textLength="1.70" lengthAdjust="spacingAndGlyphs" stroke="#2a2a2a" stroke-width="0.16" >5</text>
<line x1="333.00" y1="273.30" x2="333.00" y2="274.90" stroke="#111" stroke-width="0.9" />
<g clip-path="url(#cp9)">
<ellipse cx="304.00" cy="250.00" rx="13.00" ry="18.00" fill="url(#g_pur)" opacity="0.40"/>
<ellipse cx="304.00" cy="250.00" rx="13.00" ry="18.00" fill="url(#g_hal)" filter="url(#spk)" opacity="1.0"/>
<ellipse cx="297.00" cy="256.00" rx="8.00" ry="11.00" fill="url(#g_pur)" opacity="0.40"/>
<ellipse cx="297.00" cy="256.00" rx="8.00" ry="11.00" fill="url(#g_hal)" filter="url(#spk)" opacity="1.0"/>
<g filter="url(#cmap)">
<path d="M304.50,256.00 L304.38,258.15 L304.01,259.97 L303.42,261.57 L302.61,262.93 L301.60,264.03 L300.42,264.84 L299.08,265.33 L297.50,265.50 L295.92,265.33 L294.58,264.84 L293.40,264.03 L292.39,262.93 L291.58,261.57 L290.99,259.97 L290.62,258.15 L290.50,256.00 L290.62,253.85 L290.99,252.03 L291.58,250.43 L292.39,249.07 L293.40,247.97 L294.58,247.16 L295.92,246.67 L297.50,246.50 L299.08,246.67 L300.42,247.16 L301.60,247.97 L302.61,249.07 L303.42,250.43 L304.01,252.03 L304.38,253.85 Z" fill="url(#d20)"/>
<path d="M290.0,238.0 Q290.5,233.5 295.0,233.5 L303.5,232.5 Q304.2,240.0 301.5,245.0 Q299.5,249.0 298.0,250.0 Q294.0,246.5 291.5,242.5 Q289.8,240.5 290.0,238.0 Z" fill="url(#d21)"/>
</g>
</g>
<line x1="302.60" y1="224.40" x2="302.60" y2="273.30" stroke="#808080" stroke-width="0.8" />
<line x1="288.40" y1="249.70" x2="338.00" y2="249.70" stroke="#808080" stroke-width="0.8" />
<text x="289.80" y="232.61" font-size="5.3" textLength="9.55" lengthAdjust="spacingAndGlyphs" stroke="#2a2a2a" stroke-width="0.16" >87.3</text>
<text x="317.80" y="232.61" font-size="5.3" textLength="9.55" lengthAdjust="spacingAndGlyphs" stroke="#2a2a2a" stroke-width="0.16" >5.62</text>
<text x="289.80" y="269.41" font-size="5.3" textLength="9.55" lengthAdjust="spacingAndGlyphs" stroke="#2a2a2a" stroke-width="0.16" >5.41</text>
<text x="317.80" y="269.41" font-size="5.3" textLength="9.55" lengthAdjust="spacingAndGlyphs" stroke="#2a2a2a" stroke-width="0.16" >1.70</text>
<rect x="288.40" y="224.40" width="49.60" height="48.90" fill="none" stroke="#1a1a1a" stroke-width="1.1" />
<rect x="372.90" y="224.40" width="49.60" height="48.90" fill="#fff" />
<text x="367.30" y="230.09" font-size="4.7" text-anchor="end" textLength="5.40" lengthAdjust="spacingAndGlyphs" stroke="#2a2a2a" stroke-width="0.16" >10</text>
<text x="367.50" y="227.85" font-size="3.2" textLength="1.70" lengthAdjust="spacingAndGlyphs" stroke="#2a2a2a" stroke-width="0.16" >5</text>
<line x1="371.30" y1="228.40" x2="372.90" y2="228.40" stroke="#111" stroke-width="0.9" />
<text x="367.30" y="240.29" font-size="4.7" text-anchor="end" textLength="5.40" lengthAdjust="spacingAndGlyphs" stroke="#2a2a2a" stroke-width="0.16" >10</text>
<text x="367.50" y="238.05" font-size="3.2" textLength="1.70" lengthAdjust="spacingAndGlyphs" stroke="#2a2a2a" stroke-width="0.16" >4</text>
<line x1="371.30" y1="238.60" x2="372.90" y2="238.60" stroke="#111" stroke-width="0.9" />
<text x="367.30" y="251.59" font-size="4.7" text-anchor="end" textLength="5.40" lengthAdjust="spacingAndGlyphs" stroke="#2a2a2a" stroke-width="0.16" >10</text>
<text x="367.50" y="249.35" font-size="3.2" textLength="1.70" lengthAdjust="spacingAndGlyphs" stroke="#2a2a2a" stroke-width="0.16" >3</text>
<line x1="371.30" y1="249.90" x2="372.90" y2="249.90" stroke="#111" stroke-width="0.9" />
<text x="367.30" y="263.09" font-size="4.7" text-anchor="end" textLength="2.70" lengthAdjust="spacingAndGlyphs" stroke="#2a2a2a" stroke-width="0.16" >0</text>
<line x1="371.30" y1="261.40" x2="372.90" y2="261.40" stroke="#111" stroke-width="0.9" />
<text x="367.30" y="274.09" font-size="4.7" text-anchor="end" textLength="8.00" lengthAdjust="spacingAndGlyphs" stroke="#2a2a2a" stroke-width="0.16" >−10</text>
<text x="367.50" y="271.85" font-size="3.2" textLength="1.70" lengthAdjust="spacingAndGlyphs" stroke="#2a2a2a" stroke-width="0.16" >3</text>
<line x1="371.30" y1="272.40" x2="372.90" y2="272.40" stroke="#111" stroke-width="0.9" />
<text x="376.00" y="281.39" font-size="4.7" text-anchor="middle" textLength="7.20" lengthAdjust="spacingAndGlyphs" stroke="#2a2a2a" stroke-width="0.16" >−10</text>
<text x="379.75" y="279.15" font-size="3.2" textLength="1.70" lengthAdjust="spacingAndGlyphs" stroke="#2a2a2a" stroke-width="0.16" >3</text>
<line x1="376.90" y1="273.30" x2="376.90" y2="274.90" stroke="#111" stroke-width="0.9" />
<text x="387.30" y="281.39" font-size="4.7" text-anchor="middle" textLength="2.70" lengthAdjust="spacingAndGlyphs" stroke="#2a2a2a" stroke-width="0.16" >0</text>
<line x1="387.30" y1="273.30" x2="387.30" y2="274.90" stroke="#111" stroke-width="0.9" />
<text x="396.00" y="281.39" font-size="4.7" text-anchor="middle" textLength="5.00" lengthAdjust="spacingAndGlyphs" stroke="#2a2a2a" stroke-width="0.16" >10</text>
<text x="398.65" y="279.15" font-size="3.2" textLength="1.70" lengthAdjust="spacingAndGlyphs" stroke="#2a2a2a" stroke-width="0.16" >3</text>
<line x1="396.90" y1="273.30" x2="396.90" y2="274.90" stroke="#111" stroke-width="0.9" />
<text x="407.20" y="281.39" font-size="4.7" text-anchor="middle" textLength="5.00" lengthAdjust="spacingAndGlyphs" stroke="#2a2a2a" stroke-width="0.16" >10</text>
<text x="409.85" y="279.15" font-size="3.2" textLength="1.70" lengthAdjust="spacingAndGlyphs" stroke="#2a2a2a" stroke-width="0.16" >4</text>
<line x1="408.10" y1="273.30" x2="408.10" y2="274.90" stroke="#111" stroke-width="0.9" />
<text x="416.60" y="281.39" font-size="4.7" text-anchor="middle" textLength="5.00" lengthAdjust="spacingAndGlyphs" stroke="#2a2a2a" stroke-width="0.16" >10</text>
<text x="419.25" y="279.15" font-size="3.2" textLength="1.70" lengthAdjust="spacingAndGlyphs" stroke="#2a2a2a" stroke-width="0.16" >5</text>
<line x1="417.50" y1="273.30" x2="417.50" y2="274.90" stroke="#111" stroke-width="0.9" />
<g clip-path="url(#cp10)">
<ellipse cx="390.00" cy="261.50" rx="10.00" ry="10.50" fill="url(#g_pur)" opacity="0.40"/>
<ellipse cx="390.00" cy="261.50" rx="10.00" ry="10.50" fill="url(#g_hal)" filter="url(#spk)" opacity="1.0"/>
<g filter="url(#cmap)">
<path d="M394.90,261.00 L394.80,263.33 L394.49,264.92 L393.97,266.22 L393.26,267.28 L392.35,268.11 L391.24,268.72 L389.89,269.08 L387.90,269.20 L385.91,269.08 L384.56,268.72 L383.45,268.11 L382.54,267.28 L381.83,266.22 L381.31,264.92 L381.00,263.33 L380.90,261.00 L381.00,258.67 L381.31,257.08 L381.83,255.78 L382.54,254.72 L383.45,253.89 L384.56,253.28 L385.91,252.92 L387.90,252.80 L389.89,252.92 L391.24,253.28 L392.35,253.89 L393.26,254.72 L393.97,255.78 L394.49,257.08 L394.80,258.67 Z" fill="url(#d22)"/>
</g>
</g>
<rect x="375.70" y="238.00" width="44.00" height="14.60" fill="none" stroke="#808080" stroke-width="0.8" />
<path d="M394.60,252.60 L394.60,271.20 L402.40,271.20" stroke="#808080" stroke-width="0.8" fill="none" />
<text x="374.40" y="233.31" font-size="5.3" textLength="9.55" lengthAdjust="spacingAndGlyphs" stroke="#2a2a2a" stroke-width="0.16" >0.30</text>
<text x="417.60" y="233.95" font-size="8.2" text-anchor="end" font-weight="bold" fill="#111" textLength="18.40" lengthAdjust="spacingAndGlyphs" stroke="#111" stroke-width="0.3" >D100</text>
<text x="419.50" y="269.31" font-size="5.3" text-anchor="end" textLength="9.55" lengthAdjust="spacingAndGlyphs" stroke="#2a2a2a" stroke-width="0.16" >4.12</text>
<rect x="372.90" y="224.40" width="49.60" height="48.90" fill="none" stroke="#1a1a1a" stroke-width="1.1" />
<rect x="459.40" y="224.40" width="49.60" height="48.90" fill="#fff" />
<text x="453.80" y="230.09" font-size="4.7" text-anchor="end" textLength="5.40" lengthAdjust="spacingAndGlyphs" stroke="#2a2a2a" stroke-width="0.16" >10</text>
<text x="454.00" y="227.85" font-size="3.2" textLength="1.70" lengthAdjust="spacingAndGlyphs" stroke="#2a2a2a" stroke-width="0.16" >5</text>
<line x1="457.80" y1="228.40" x2="459.40" y2="228.40" stroke="#111" stroke-width="0.9" />
<text x="453.80" y="240.29" font-size="4.7" text-anchor="end" textLength="5.40" lengthAdjust="spacingAndGlyphs" stroke="#2a2a2a" stroke-width="0.16" >10</text>
<text x="454.00" y="238.05" font-size="3.2" textLength="1.70" lengthAdjust="spacingAndGlyphs" stroke="#2a2a2a" stroke-width="0.16" >4</text>
<line x1="457.80" y1="238.60" x2="459.40" y2="238.60" stroke="#111" stroke-width="0.9" />
<text x="453.80" y="251.59" font-size="4.7" text-anchor="end" textLength="5.40" lengthAdjust="spacingAndGlyphs" stroke="#2a2a2a" stroke-width="0.16" >10</text>
<text x="454.00" y="249.35" font-size="3.2" textLength="1.70" lengthAdjust="spacingAndGlyphs" stroke="#2a2a2a" stroke-width="0.16" >3</text>
<line x1="457.80" y1="249.90" x2="459.40" y2="249.90" stroke="#111" stroke-width="0.9" />
<text x="453.80" y="263.09" font-size="4.7" text-anchor="end" textLength="2.70" lengthAdjust="spacingAndGlyphs" stroke="#2a2a2a" stroke-width="0.16" >0</text>
<line x1="457.80" y1="261.40" x2="459.40" y2="261.40" stroke="#111" stroke-width="0.9" />
<text x="453.80" y="274.09" font-size="4.7" text-anchor="end" textLength="8.00" lengthAdjust="spacingAndGlyphs" stroke="#2a2a2a" stroke-width="0.16" >−10</text>
<text x="454.00" y="271.85" font-size="3.2" textLength="1.70" lengthAdjust="spacingAndGlyphs" stroke="#2a2a2a" stroke-width="0.16" >3</text>
<line x1="457.80" y1="272.40" x2="459.40" y2="272.40" stroke="#111" stroke-width="0.9" />
<text x="462.50" y="281.39" font-size="4.7" text-anchor="middle" textLength="7.20" lengthAdjust="spacingAndGlyphs" stroke="#2a2a2a" stroke-width="0.16" >−10</text>
<text x="466.25" y="279.15" font-size="3.2" textLength="1.70" lengthAdjust="spacingAndGlyphs" stroke="#2a2a2a" stroke-width="0.16" >3</text>
<line x1="463.40" y1="273.30" x2="463.40" y2="274.90" stroke="#111" stroke-width="0.9" />
<text x="473.80" y="281.39" font-size="4.7" text-anchor="middle" textLength="2.70" lengthAdjust="spacingAndGlyphs" stroke="#2a2a2a" stroke-width="0.16" >0</text>
<line x1="473.80" y1="273.30" x2="473.80" y2="274.90" stroke="#111" stroke-width="0.9" />
<text x="482.50" y="281.39" font-size="4.7" text-anchor="middle" textLength="5.00" lengthAdjust="spacingAndGlyphs" stroke="#2a2a2a" stroke-width="0.16" >10</text>
<text x="485.15" y="279.15" font-size="3.2" textLength="1.70" lengthAdjust="spacingAndGlyphs" stroke="#2a2a2a" stroke-width="0.16" >3</text>
<line x1="483.40" y1="273.30" x2="483.40" y2="274.90" stroke="#111" stroke-width="0.9" />
<text x="493.70" y="281.39" font-size="4.7" text-anchor="middle" textLength="5.00" lengthAdjust="spacingAndGlyphs" stroke="#2a2a2a" stroke-width="0.16" >10</text>
<text x="496.35" y="279.15" font-size="3.2" textLength="1.70" lengthAdjust="spacingAndGlyphs" stroke="#2a2a2a" stroke-width="0.16" >4</text>
<line x1="494.60" y1="273.30" x2="494.60" y2="274.90" stroke="#111" stroke-width="0.9" />
<text x="503.10" y="281.39" font-size="4.7" text-anchor="middle" textLength="5.00" lengthAdjust="spacingAndGlyphs" stroke="#2a2a2a" stroke-width="0.16" >10</text>
<text x="505.75" y="279.15" font-size="3.2" textLength="1.70" lengthAdjust="spacingAndGlyphs" stroke="#2a2a2a" stroke-width="0.16" >5</text>
<line x1="504.00" y1="273.30" x2="504.00" y2="274.90" stroke="#111" stroke-width="0.9" />
<g clip-path="url(#cp11)">
<ellipse cx="477.00" cy="256.00" rx="10.00" ry="9.00" fill="url(#g_pur)" opacity="0.40"/>
<ellipse cx="477.00" cy="256.00" rx="10.00" ry="9.00" fill="url(#g_hal)" filter="url(#spk)" opacity="1.0"/>
<g filter="url(#cmap)">
<path d="M483.50,260.00 L483.37,260.79 L482.98,261.46 L482.34,262.05 L481.47,262.55 L480.40,262.96 L479.13,263.26 L477.70,263.44 L476.00,263.50 L474.30,263.44 L472.87,263.26 L471.60,262.96 L470.53,262.55 L469.66,262.05 L469.02,261.46 L468.63,260.79 L468.50,260.00 L468.63,259.21 L469.02,258.54 L469.66,257.95 L470.53,257.45 L471.60,257.04 L472.87,256.74 L474.30,256.56 L476.00,256.50 L477.70,256.56 L479.13,256.74 L480.40,257.04 L481.47,257.45 L482.34,257.95 L482.98,258.54 L483.37,259.21 Z" fill="url(#d23)"/>
<path d="M467.0,236.5 Q467.5,233.0 472.0,233.0 L481.0,232.5 Q483.0,235.0 482.0,239.0 Q480.0,244.0 477.0,247.5 Q475.0,250.0 474.0,250.5 Q471.0,246.0 469.0,242.0 Q466.8,239.0 467.0,236.5 Z" fill="url(#d24)"/>
</g>
</g>
<line x1="479.80" y1="224.40" x2="479.80" y2="273.30" stroke="#808080" stroke-width="0.8" />
<line x1="459.40" y1="249.70" x2="509.00" y2="249.70" stroke="#808080" stroke-width="0.8" />
<text x="460.80" y="232.61" font-size="5.3" textLength="9.55" lengthAdjust="spacingAndGlyphs" stroke="#2a2a2a" stroke-width="0.16" >89.1</text>
<text x="488.80" y="232.61" font-size="5.3" textLength="9.55" lengthAdjust="spacingAndGlyphs" stroke="#2a2a2a" stroke-width="0.16" >6.08</text>
<text x="460.80" y="269.41" font-size="5.3" textLength="9.55" lengthAdjust="spacingAndGlyphs" stroke="#2a2a2a" stroke-width="0.16" >3.60</text>
<text x="488.80" y="269.41" font-size="5.3" textLength="9.55" lengthAdjust="spacingAndGlyphs" stroke="#2a2a2a" stroke-width="0.16" >1.24</text>
<rect x="459.40" y="224.40" width="49.60" height="48.90" fill="none" stroke="#1a1a1a" stroke-width="1.1" />
<rect x="35.30" y="286.40" width="49.60" height="48.90" fill="#fff" />
<text x="29.70" y="292.09" font-size="4.7" text-anchor="end" textLength="5.40" lengthAdjust="spacingAndGlyphs" stroke="#2a2a2a" stroke-width="0.16" >10</text>
<text x="29.90" y="289.85" font-size="3.2" textLength="1.70" lengthAdjust="spacingAndGlyphs" stroke="#2a2a2a" stroke-width="0.16" >5</text>
<line x1="33.70" y1="290.40" x2="35.30" y2="290.40" stroke="#111" stroke-width="0.9" />
<text x="29.70" y="302.29" font-size="4.7" text-anchor="end" textLength="5.40" lengthAdjust="spacingAndGlyphs" stroke="#2a2a2a" stroke-width="0.16" >10</text>
<text x="29.90" y="300.05" font-size="3.2" textLength="1.70" lengthAdjust="spacingAndGlyphs" stroke="#2a2a2a" stroke-width="0.16" >4</text>
<line x1="33.70" y1="300.60" x2="35.30" y2="300.60" stroke="#111" stroke-width="0.9" />
<text x="29.70" y="313.59" font-size="4.7" text-anchor="end" textLength="5.40" lengthAdjust="spacingAndGlyphs" stroke="#2a2a2a" stroke-width="0.16" >10</text>
<text x="29.90" y="311.35" font-size="3.2" textLength="1.70" lengthAdjust="spacingAndGlyphs" stroke="#2a2a2a" stroke-width="0.16" >3</text>
<line x1="33.70" y1="311.90" x2="35.30" y2="311.90" stroke="#111" stroke-width="0.9" />
<text x="29.70" y="325.09" font-size="4.7" text-anchor="end" textLength="2.70" lengthAdjust="spacingAndGlyphs" stroke="#2a2a2a" stroke-width="0.16" >0</text>
<line x1="33.70" y1="323.40" x2="35.30" y2="323.40" stroke="#111" stroke-width="0.9" />
<text x="29.70" y="336.09" font-size="4.7" text-anchor="end" textLength="8.00" lengthAdjust="spacingAndGlyphs" stroke="#2a2a2a" stroke-width="0.16" >−10</text>
<text x="29.90" y="333.85" font-size="3.2" textLength="1.70" lengthAdjust="spacingAndGlyphs" stroke="#2a2a2a" stroke-width="0.16" >3</text>
<line x1="33.70" y1="334.40" x2="35.30" y2="334.40" stroke="#111" stroke-width="0.9" />
<text x="38.40" y="343.39" font-size="4.7" text-anchor="middle" textLength="7.20" lengthAdjust="spacingAndGlyphs" stroke="#2a2a2a" stroke-width="0.16" >−10</text>
<text x="42.15" y="341.15" font-size="3.2" textLength="1.70" lengthAdjust="spacingAndGlyphs" stroke="#2a2a2a" stroke-width="0.16" >3</text>
<line x1="39.30" y1="335.30" x2="39.30" y2="336.90" stroke="#111" stroke-width="0.9" />
<text x="49.70" y="343.39" font-size="4.7" text-anchor="middle" textLength="2.70" lengthAdjust="spacingAndGlyphs" stroke="#2a2a2a" stroke-width="0.16" >0</text>
<line x1="49.70" y1="335.30" x2="49.70" y2="336.90" stroke="#111" stroke-width="0.9" />
<text x="58.40" y="343.39" font-size="4.7" text-anchor="middle" textLength="5.00" lengthAdjust="spacingAndGlyphs" stroke="#2a2a2a" stroke-width="0.16" >10</text>
<text x="61.05" y="341.15" font-size="3.2" textLength="1.70" lengthAdjust="spacingAndGlyphs" stroke="#2a2a2a" stroke-width="0.16" >3</text>
<line x1="59.30" y1="335.30" x2="59.30" y2="336.90" stroke="#111" stroke-width="0.9" />
<text x="69.60" y="343.39" font-size="4.7" text-anchor="middle" textLength="5.00" lengthAdjust="spacingAndGlyphs" stroke="#2a2a2a" stroke-width="0.16" >10</text>
<text x="72.25" y="341.15" font-size="3.2" textLength="1.70" lengthAdjust="spacingAndGlyphs" stroke="#2a2a2a" stroke-width="0.16" >4</text>
<line x1="70.50" y1="335.30" x2="70.50" y2="336.90" stroke="#111" stroke-width="0.9" />
<text x="79.00" y="343.39" font-size="4.7" text-anchor="middle" textLength="5.00" lengthAdjust="spacingAndGlyphs" stroke="#2a2a2a" stroke-width="0.16" >10</text>
<text x="81.65" y="341.15" font-size="3.2" textLength="1.70" lengthAdjust="spacingAndGlyphs" stroke="#2a2a2a" stroke-width="0.16" >5</text>
<line x1="79.90" y1="335.30" x2="79.90" y2="336.90" stroke="#111" stroke-width="0.9" />
<g clip-path="url(#cp12)">
<ellipse cx="47.50" cy="305.20" rx="8.00" ry="6.00" fill="url(#g_pur)" opacity="0.40"/>
<ellipse cx="47.50" cy="305.20" rx="8.00" ry="6.00" fill="url(#g_hal)" filter="url(#spk)" opacity="1.0"/>
<ellipse cx="53.00" cy="322.00" rx="16.00" ry="9.50" fill="url(#g_pur)" opacity="0.40"/>
<ellipse cx="53.00" cy="322.00" rx="16.00" ry="9.50" fill="url(#g_hal)" filter="url(#spk)" opacity="1.0"/>
<g filter="url(#cmap)">
<path d="M53.70,305.20 L53.60,306.38 L53.30,307.27 L52.82,308.02 L52.14,308.65 L51.30,309.14 L50.28,309.51 L49.09,309.73 L47.50,309.80 L45.91,309.73 L44.72,309.51 L43.70,309.14 L42.86,308.65 L42.18,308.02 L41.70,307.27 L41.40,306.38 L41.30,305.20 L41.40,304.02 L41.70,303.13 L42.18,302.38 L42.86,301.75 L43.70,301.26 L44.72,300.89 L45.91,300.67 L47.50,300.60 L49.09,300.67 L50.28,300.89 L51.30,301.26 L52.14,301.75 L52.82,302.38 L53.30,303.13 L53.60,304.02 Z" fill="url(#d25)"/>
<path d="M66.20,322.00 L66.11,324.11 L65.83,325.53 L65.37,326.71 L64.73,327.67 L63.91,328.42 L62.91,328.96 L61.69,329.29 L59.90,329.40 L58.11,329.29 L56.89,328.96 L55.89,328.42 L55.07,327.67 L54.43,326.71 L53.97,325.53 L53.69,324.11 L53.60,322.00 L53.69,319.89 L53.97,318.47 L54.43,317.29 L55.07,316.33 L55.89,315.58 L56.89,315.04 L58.11,314.71 L59.90,314.60 L61.69,314.71 L62.91,315.04 L63.91,315.58 L64.73,316.33 L65.37,317.29 L65.83,318.47 L66.11,319.89 Z" fill="url(#d26)"/>
<path d="M54.20,322.00 L54.09,324.11 L53.77,325.53 L53.25,326.71 L52.52,327.67 L51.58,328.42 L50.44,328.96 L49.05,329.29 L47.00,329.40 L44.95,329.29 L43.56,328.96 L42.42,328.42 L41.48,327.67 L40.75,326.71 L40.23,325.53 L39.91,324.11 L39.80,322.00 L39.91,319.89 L40.23,318.47 L40.75,317.29 L41.48,316.33 L42.42,315.58 L43.56,315.04 L44.95,314.71 L47.00,314.60 L49.05,314.71 L50.44,315.04 L51.58,315.58 L52.52,316.33 L53.25,317.29 L53.77,318.47 L54.09,319.89 Z" fill="url(#d27)"/>
</g>
</g>
<rect x="35.60" y="298.80" width="47.60" height="12.80" fill="none" stroke="#808080" stroke-width="0.8" />
<path d="M56.50,335.30 L56.50,311.60 L84.90,311.60" stroke="#808080" stroke-width="0.8" fill="none" />
<text x="37.60" y="294.11" font-size="5.3" textLength="9.55" lengthAdjust="spacingAndGlyphs" stroke="#2a2a2a" stroke-width="0.16" >9.61</text>
<text x="78.00" y="295.95" font-size="8.2" text-anchor="end" font-weight="bold" fill="#111" textLength="18.40" lengthAdjust="spacingAndGlyphs" stroke="#111" stroke-width="0.3" >D100</text>
<text x="80.60" y="331.31" font-size="5.3" text-anchor="end" textLength="9.55" lengthAdjust="spacingAndGlyphs" stroke="#2a2a2a" stroke-width="0.16" >46.5</text>
<rect x="35.30" y="286.40" width="49.60" height="48.90" fill="none" stroke="#1a1a1a" stroke-width="1.1" />
<rect x="116.60" y="286.40" width="49.60" height="48.90" fill="#fff" />
<text x="111.00" y="292.09" font-size="4.7" text-anchor="end" textLength="5.40" lengthAdjust="spacingAndGlyphs" stroke="#2a2a2a" stroke-width="0.16" >10</text>
<text x="111.20" y="289.85" font-size="3.2" textLength="1.70" lengthAdjust="spacingAndGlyphs" stroke="#2a2a2a" stroke-width="0.16" >5</text>
<line x1="115.00" y1="290.40" x2="116.60" y2="290.40" stroke="#111" stroke-width="0.9" />
<text x="111.00" y="302.29" font-size="4.7" text-anchor="end" textLength="5.40" lengthAdjust="spacingAndGlyphs" stroke="#2a2a2a" stroke-width="0.16" >10</text>
<text x="111.20" y="300.05" font-size="3.2" textLength="1.70" lengthAdjust="spacingAndGlyphs" stroke="#2a2a2a" stroke-width="0.16" >4</text>
<line x1="115.00" y1="300.60" x2="116.60" y2="300.60" stroke="#111" stroke-width="0.9" />
<text x="111.00" y="313.59" font-size="4.7" text-anchor="end" textLength="5.40" lengthAdjust="spacingAndGlyphs" stroke="#2a2a2a" stroke-width="0.16" >10</text>
<text x="111.20" y="311.35" font-size="3.2" textLength="1.70" lengthAdjust="spacingAndGlyphs" stroke="#2a2a2a" stroke-width="0.16" >3</text>
<line x1="115.00" y1="311.90" x2="116.60" y2="311.90" stroke="#111" stroke-width="0.9" />
<text x="111.00" y="325.09" font-size="4.7" text-anchor="end" textLength="2.70" lengthAdjust="spacingAndGlyphs" stroke="#2a2a2a" stroke-width="0.16" >0</text>
<line x1="115.00" y1="323.40" x2="116.60" y2="323.40" stroke="#111" stroke-width="0.9" />
<text x="111.00" y="336.09" font-size="4.7" text-anchor="end" textLength="8.00" lengthAdjust="spacingAndGlyphs" stroke="#2a2a2a" stroke-width="0.16" >−10</text>
<text x="111.20" y="333.85" font-size="3.2" textLength="1.70" lengthAdjust="spacingAndGlyphs" stroke="#2a2a2a" stroke-width="0.16" >3</text>
<line x1="115.00" y1="334.40" x2="116.60" y2="334.40" stroke="#111" stroke-width="0.9" />
<text x="119.70" y="343.39" font-size="4.7" text-anchor="middle" textLength="7.20" lengthAdjust="spacingAndGlyphs" stroke="#2a2a2a" stroke-width="0.16" >−10</text>
<text x="123.45" y="341.15" font-size="3.2" textLength="1.70" lengthAdjust="spacingAndGlyphs" stroke="#2a2a2a" stroke-width="0.16" >3</text>
<line x1="120.60" y1="335.30" x2="120.60" y2="336.90" stroke="#111" stroke-width="0.9" />
<text x="131.00" y="343.39" font-size="4.7" text-anchor="middle" textLength="2.70" lengthAdjust="spacingAndGlyphs" stroke="#2a2a2a" stroke-width="0.16" >0</text>
<line x1="131.00" y1="335.30" x2="131.00" y2="336.90" stroke="#111" stroke-width="0.9" />
<text x="139.70" y="343.39" font-size="4.7" text-anchor="middle" textLength="5.00" lengthAdjust="spacingAndGlyphs" stroke="#2a2a2a" stroke-width="0.16" >10</text>
<text x="142.35" y="341.15" font-size="3.2" textLength="1.70" lengthAdjust="spacingAndGlyphs" stroke="#2a2a2a" stroke-width="0.16" >3</text>
<line x1="140.60" y1="335.30" x2="140.60" y2="336.90" stroke="#111" stroke-width="0.9" />
<text x="150.90" y="343.39" font-size="4.7" text-anchor="middle" textLength="5.00" lengthAdjust="spacingAndGlyphs" stroke="#2a2a2a" stroke-width="0.16" >10</text>
<text x="153.55" y="341.15" font-size="3.2" textLength="1.70" lengthAdjust="spacingAndGlyphs" stroke="#2a2a2a" stroke-width="0.16" >4</text>
<line x1="151.80" y1="335.30" x2="151.80" y2="336.90" stroke="#111" stroke-width="0.9" />
<text x="160.30" y="343.39" font-size="4.7" text-anchor="middle" textLength="5.00" lengthAdjust="spacingAndGlyphs" stroke="#2a2a2a" stroke-width="0.16" >10</text>
<text x="162.95" y="341.15" font-size="3.2" textLength="1.70" lengthAdjust="spacingAndGlyphs" stroke="#2a2a2a" stroke-width="0.16" >5</text>
<line x1="161.20" y1="335.30" x2="161.20" y2="336.90" stroke="#111" stroke-width="0.9" />
<g clip-path="url(#cp13)">
<ellipse cx="138.00" cy="306.00" rx="9.50" ry="15.00" fill="url(#g_pur)" opacity="0.40"/>
<ellipse cx="138.00" cy="306.00" rx="9.50" ry="15.00" fill="url(#g_hal)" filter="url(#spk)" opacity="1.0"/>
<ellipse cx="128.00" cy="303.00" rx="7.50" ry="9.50" fill="url(#g_pur)" opacity="0.40"/>
<ellipse cx="128.00" cy="303.00" rx="7.50" ry="9.50" fill="url(#g_hal)" filter="url(#spk)" opacity="1.0"/>
<g filter="url(#cmap)">
<path d="M133.60,303.00 L133.51,304.92 L133.24,306.37 L132.80,307.60 L132.20,308.62 L131.43,309.43 L130.52,310.02 L129.43,310.38 L128.00,310.50 L126.57,310.38 L125.48,310.02 L124.57,309.43 L123.80,308.62 L123.20,307.60 L122.76,306.37 L122.49,304.92 L122.40,303.00 L122.49,301.08 L122.76,299.63 L123.20,298.40 L123.80,297.38 L124.57,296.57 L125.48,295.98 L126.57,295.62 L128.00,295.50 L129.43,295.62 L130.52,295.98 L131.43,296.57 L132.20,297.38 L132.80,298.40 L133.24,299.63 L133.51,301.08 Z" fill="url(#d28)"/>
<path d="M122.50,321.60 L146.10,320.00 A1.20,1.20 0 0 1 146.10,322.40 L122.50,324.00 A1.20,1.20 0 0 1 122.50,321.60 Z" fill="url(#l29)"/>
<path d="M130.20,323.30 L142.80,323.30 A1.20,1.20 0 0 1 142.80,325.70 L130.20,325.70 A1.20,1.20 0 0 1 130.20,323.30 Z" fill="url(#l30)"/>
</g>
</g>
<line x1="136.80" y1="286.40" x2="136.80" y2="335.30" stroke="#808080" stroke-width="0.8" />
<line x1="116.60" y1="311.30" x2="166.20" y2="311.30" stroke="#808080" stroke-width="0.8" />
<text x="118.00" y="294.61" font-size="5.3" textLength="9.55" lengthAdjust="spacingAndGlyphs" stroke="#2a2a2a" stroke-width="0.16" >18.4</text>
<text x="146.00" y="294.61" font-size="5.3" textLength="9.55" lengthAdjust="spacingAndGlyphs" stroke="#2a2a2a" stroke-width="0.16" >3.11</text>
<text x="118.00" y="331.41" font-size="5.3" textLength="9.55" lengthAdjust="spacingAndGlyphs" stroke="#2a2a2a" stroke-width="0.16" >19.1</text>
<text x="146.00" y="331.41" font-size="5.3" textLength="9.55" lengthAdjust="spacingAndGlyphs" stroke="#2a2a2a" stroke-width="0.16" >59.3</text>
<rect x="116.60" y="286.40" width="49.60" height="48.90" fill="none" stroke="#1a1a1a" stroke-width="1.1" />
<rect x="204.80" y="286.40" width="49.60" height="48.90" fill="#fff" />
<text x="199.20" y="292.09" font-size="4.7" text-anchor="end" textLength="5.40" lengthAdjust="spacingAndGlyphs" stroke="#2a2a2a" stroke-width="0.16" >10</text>
<text x="199.40" y="289.85" font-size="3.2" textLength="1.70" lengthAdjust="spacingAndGlyphs" stroke="#2a2a2a" stroke-width="0.16" >5</text>
<line x1="203.20" y1="290.40" x2="204.80" y2="290.40" stroke="#111" stroke-width="0.9" />
<text x="199.20" y="302.29" font-size="4.7" text-anchor="end" textLength="5.40" lengthAdjust="spacingAndGlyphs" stroke="#2a2a2a" stroke-width="0.16" >10</text>
<text x="199.40" y="300.05" font-size="3.2" textLength="1.70" lengthAdjust="spacingAndGlyphs" stroke="#2a2a2a" stroke-width="0.16" >4</text>
<line x1="203.20" y1="300.60" x2="204.80" y2="300.60" stroke="#111" stroke-width="0.9" />
<text x="199.20" y="313.59" font-size="4.7" text-anchor="end" textLength="5.40" lengthAdjust="spacingAndGlyphs" stroke="#2a2a2a" stroke-width="0.16" >10</text>
<text x="199.40" y="311.35" font-size="3.2" textLength="1.70" lengthAdjust="spacingAndGlyphs" stroke="#2a2a2a" stroke-width="0.16" >3</text>
<line x1="203.20" y1="311.90" x2="204.80" y2="311.90" stroke="#111" stroke-width="0.9" />
<text x="199.20" y="325.09" font-size="4.7" text-anchor="end" textLength="2.70" lengthAdjust="spacingAndGlyphs" stroke="#2a2a2a" stroke-width="0.16" >0</text>
<line x1="203.20" y1="323.40" x2="204.80" y2="323.40" stroke="#111" stroke-width="0.9" />
<text x="199.20" y="336.09" font-size="4.7" text-anchor="end" textLength="8.00" lengthAdjust="spacingAndGlyphs" stroke="#2a2a2a" stroke-width="0.16" >−10</text>
<text x="199.40" y="333.85" font-size="3.2" textLength="1.70" lengthAdjust="spacingAndGlyphs" stroke="#2a2a2a" stroke-width="0.16" >3</text>
<line x1="203.20" y1="334.40" x2="204.80" y2="334.40" stroke="#111" stroke-width="0.9" />
<text x="207.90" y="343.39" font-size="4.7" text-anchor="middle" textLength="7.20" lengthAdjust="spacingAndGlyphs" stroke="#2a2a2a" stroke-width="0.16" >−10</text>
<text x="211.65" y="341.15" font-size="3.2" textLength="1.70" lengthAdjust="spacingAndGlyphs" stroke="#2a2a2a" stroke-width="0.16" >3</text>
<line x1="208.80" y1="335.30" x2="208.80" y2="336.90" stroke="#111" stroke-width="0.9" />
<text x="219.20" y="343.39" font-size="4.7" text-anchor="middle" textLength="2.70" lengthAdjust="spacingAndGlyphs" stroke="#2a2a2a" stroke-width="0.16" >0</text>
<line x1="219.20" y1="335.30" x2="219.20" y2="336.90" stroke="#111" stroke-width="0.9" />
<text x="227.90" y="343.39" font-size="4.7" text-anchor="middle" textLength="5.00" lengthAdjust="spacingAndGlyphs" stroke="#2a2a2a" stroke-width="0.16" >10</text>
<text x="230.55" y="341.15" font-size="3.2" textLength="1.70" lengthAdjust="spacingAndGlyphs" stroke="#2a2a2a" stroke-width="0.16" >3</text>
<line x1="228.80" y1="335.30" x2="228.80" y2="336.90" stroke="#111" stroke-width="0.9" />
<text x="239.10" y="343.39" font-size="4.7" text-anchor="middle" textLength="5.00" lengthAdjust="spacingAndGlyphs" stroke="#2a2a2a" stroke-width="0.16" >10</text>
<text x="241.75" y="341.15" font-size="3.2" textLength="1.70" lengthAdjust="spacingAndGlyphs" stroke="#2a2a2a" stroke-width="0.16" >4</text>
<line x1="240.00" y1="335.30" x2="240.00" y2="336.90" stroke="#111" stroke-width="0.9" />
<text x="248.50" y="343.39" font-size="4.7" text-anchor="middle" textLength="5.00" lengthAdjust="spacingAndGlyphs" stroke="#2a2a2a" stroke-width="0.16" >10</text>
<text x="251.15" y="341.15" font-size="3.2" textLength="1.70" lengthAdjust="spacingAndGlyphs" stroke="#2a2a2a" stroke-width="0.16" >5</text>
<line x1="249.40" y1="335.30" x2="249.40" y2="336.90" stroke="#111" stroke-width="0.9" />
<g clip-path="url(#cp14)">
<ellipse cx="220.00" cy="324.00" rx="17.00" ry="7.00" fill="url(#g_pur)" opacity="0.40"/>
<ellipse cx="220.00" cy="324.00" rx="17.00" ry="7.00" fill="url(#g_hal)" filter="url(#spk)" opacity="1.0"/>
<g filter="url(#cmap)">
<path d="M214.2,315.0 Q212.5,311.5 210.8,309.0 Q209.5,306.0 211.0,303.0 Q212.5,301.2 214.6,301.2 Q217.0,301.2 218.4,303.0 Q219.8,306.0 218.4,309.0 Q216.3,311.5 214.2,315.0 Z" fill="url(#d31)"/>
<path d="M234.00,323.80 L233.76,324.96 L233.06,325.88 L231.89,326.68 L230.31,327.35 L228.32,327.89 L225.96,328.28 L223.23,328.52 L219.80,328.60 L216.37,328.52 L213.64,328.28 L211.28,327.89 L209.29,327.35 L207.71,326.68 L206.54,325.88 L205.84,324.96 L205.60,323.80 L205.84,322.64 L206.54,321.72 L207.71,320.92 L209.29,320.25 L211.28,319.71 L213.64,319.32 L216.37,319.08 L219.80,319.00 L223.23,319.08 L225.96,319.32 L228.32,319.71 L230.31,320.25 L231.89,320.92 L233.06,321.72 L233.76,322.64 Z" fill="url(#d32)"/>
</g>
</g>
<rect x="205.90" y="300.80" width="46.00" height="17.00" fill="none" stroke="#808080" stroke-width="0.8" />
<path d="M220.00,317.80 L220.00,332.50 L237.20,332.50" stroke="#808080" stroke-width="0.8" fill="none" />
<text x="206.30" y="297.21" font-size="5.3" textLength="9.55" lengthAdjust="spacingAndGlyphs" stroke="#2a2a2a" stroke-width="0.16" >8.07</text>
<text x="248.60" y="295.95" font-size="8.2" text-anchor="end" font-weight="bold" fill="#111" textLength="18.40" lengthAdjust="spacingAndGlyphs" stroke="#111" stroke-width="0.3" >D100</text>
<text x="250.70" y="331.31" font-size="5.3" text-anchor="end" textLength="9.55" lengthAdjust="spacingAndGlyphs" stroke="#2a2a2a" stroke-width="0.16" >25.2</text>
<rect x="204.80" y="286.40" width="49.60" height="48.90" fill="none" stroke="#1a1a1a" stroke-width="1.1" />
<rect x="288.40" y="286.40" width="49.60" height="48.90" fill="#fff" />
<text x="282.80" y="292.09" font-size="4.7" text-anchor="end" textLength="5.40" lengthAdjust="spacingAndGlyphs" stroke="#2a2a2a" stroke-width="0.16" >10</text>
<text x="283.00" y="289.85" font-size="3.2" textLength="1.70" lengthAdjust="spacingAndGlyphs" stroke="#2a2a2a" stroke-width="0.16" >5</text>
<line x1="286.80" y1="290.40" x2="288.40" y2="290.40" stroke="#111" stroke-width="0.9" />
<text x="282.80" y="302.29" font-size="4.7" text-anchor="end" textLength="5.40" lengthAdjust="spacingAndGlyphs" stroke="#2a2a2a" stroke-width="0.16" >10</text>
<text x="283.00" y="300.05" font-size="3.2" textLength="1.70" lengthAdjust="spacingAndGlyphs" stroke="#2a2a2a" stroke-width="0.16" >4</text>
<line x1="286.80" y1="300.60" x2="288.40" y2="300.60" stroke="#111" stroke-width="0.9" />
<text x="282.80" y="313.59" font-size="4.7" text-anchor="end" textLength="5.40" lengthAdjust="spacingAndGlyphs" stroke="#2a2a2a" stroke-width="0.16" >10</text>
<text x="283.00" y="311.35" font-size="3.2" textLength="1.70" lengthAdjust="spacingAndGlyphs" stroke="#2a2a2a" stroke-width="0.16" >3</text>
<line x1="286.80" y1="311.90" x2="288.40" y2="311.90" stroke="#111" stroke-width="0.9" />
<text x="282.80" y="325.09" font-size="4.7" text-anchor="end" textLength="2.70" lengthAdjust="spacingAndGlyphs" stroke="#2a2a2a" stroke-width="0.16" >0</text>
<line x1="286.80" y1="323.40" x2="288.40" y2="323.40" stroke="#111" stroke-width="0.9" />
<text x="282.80" y="336.09" font-size="4.7" text-anchor="end" textLength="8.00" lengthAdjust="spacingAndGlyphs" stroke="#2a2a2a" stroke-width="0.16" >−10</text>
<text x="283.00" y="333.85" font-size="3.2" textLength="1.70" lengthAdjust="spacingAndGlyphs" stroke="#2a2a2a" stroke-width="0.16" >3</text>
<line x1="286.80" y1="334.40" x2="288.40" y2="334.40" stroke="#111" stroke-width="0.9" />
<text x="291.50" y="343.39" font-size="4.7" text-anchor="middle" textLength="7.20" lengthAdjust="spacingAndGlyphs" stroke="#2a2a2a" stroke-width="0.16" >−10</text>
<text x="295.25" y="341.15" font-size="3.2" textLength="1.70" lengthAdjust="spacingAndGlyphs" stroke="#2a2a2a" stroke-width="0.16" >3</text>
<line x1="292.40" y1="335.30" x2="292.40" y2="336.90" stroke="#111" stroke-width="0.9" />
<text x="302.80" y="343.39" font-size="4.7" text-anchor="middle" textLength="2.70" lengthAdjust="spacingAndGlyphs" stroke="#2a2a2a" stroke-width="0.16" >0</text>
<line x1="302.80" y1="335.30" x2="302.80" y2="336.90" stroke="#111" stroke-width="0.9" />
<text x="311.50" y="343.39" font-size="4.7" text-anchor="middle" textLength="5.00" lengthAdjust="spacingAndGlyphs" stroke="#2a2a2a" stroke-width="0.16" >10</text>
<text x="314.15" y="341.15" font-size="3.2" textLength="1.70" lengthAdjust="spacingAndGlyphs" stroke="#2a2a2a" stroke-width="0.16" >3</text>
<line x1="312.40" y1="335.30" x2="312.40" y2="336.90" stroke="#111" stroke-width="0.9" />
<text x="322.70" y="343.39" font-size="4.7" text-anchor="middle" textLength="5.00" lengthAdjust="spacingAndGlyphs" stroke="#2a2a2a" stroke-width="0.16" >10</text>
<text x="325.35" y="341.15" font-size="3.2" textLength="1.70" lengthAdjust="spacingAndGlyphs" stroke="#2a2a2a" stroke-width="0.16" >4</text>
<line x1="323.60" y1="335.30" x2="323.60" y2="336.90" stroke="#111" stroke-width="0.9" />
<text x="332.10" y="343.39" font-size="4.7" text-anchor="middle" textLength="5.00" lengthAdjust="spacingAndGlyphs" stroke="#2a2a2a" stroke-width="0.16" >10</text>
<text x="334.75" y="341.15" font-size="3.2" textLength="1.70" lengthAdjust="spacingAndGlyphs" stroke="#2a2a2a" stroke-width="0.16" >5</text>
<line x1="333.00" y1="335.30" x2="333.00" y2="336.90" stroke="#111" stroke-width="0.9" />
<g clip-path="url(#cp15)">
<ellipse cx="307.00" cy="303.00" rx="12.00" ry="12.00" fill="url(#g_pur)" opacity="0.40"/>
<ellipse cx="307.00" cy="303.00" rx="12.00" ry="12.00" fill="url(#g_hal)" filter="url(#spk)" opacity="1.0"/>
<ellipse cx="303.00" cy="322.00" rx="17.00" ry="13.00" fill="url(#g_pur)" opacity="0.40"/>
<ellipse cx="303.00" cy="322.00" rx="17.00" ry="13.00" fill="url(#g_hal)" filter="url(#spk)" opacity="1.0"/>
<g filter="url(#cmap)">
<path d="M314.50,302.00 L314.38,303.81 L314.01,305.34 L313.42,306.69 L312.61,307.84 L311.60,308.76 L310.42,309.44 L309.08,309.86 L307.50,310.00 L305.92,309.86 L304.58,309.44 L303.40,308.76 L302.39,307.84 L301.58,306.69 L300.99,305.34 L300.62,303.81 L300.50,302.00 L300.62,300.19 L300.99,298.66 L301.58,297.31 L302.39,296.16 L303.40,295.24 L304.58,294.56 L305.92,294.14 L307.50,294.00 L309.08,294.14 L310.42,294.56 L311.60,295.24 L312.61,296.16 L313.42,297.31 L314.01,298.66 L314.38,300.19 Z" fill="url(#d33)"/>
<path d="M318.00,321.50 L317.85,324.45 L317.39,326.66 L316.65,328.55 L315.62,330.12 L314.32,331.36 L312.77,332.27 L310.93,332.82 L308.50,333.00 L306.07,332.82 L304.23,332.27 L302.68,331.36 L301.38,330.12 L300.35,328.55 L299.61,326.66 L299.15,324.45 L299.00,321.50 L299.15,318.55 L299.61,316.34 L300.35,314.45 L301.38,312.88 L302.68,311.64 L304.23,310.73 L306.07,310.18 L308.50,310.00 L310.93,310.18 L312.77,310.73 L314.32,311.64 L315.62,312.88 L316.65,314.45 L317.39,316.34 L317.85,318.55 Z" fill="url(#d34)"/>
<path d="M303.00,302.00 L302.88,304.05 L302.53,305.69 L301.96,307.10 L301.18,308.29 L300.20,309.24 L299.04,309.93 L297.69,310.36 L296.00,310.50 L294.31,310.36 L292.96,309.93 L291.80,309.24 L290.82,308.29 L290.04,307.10 L289.47,305.69 L289.12,304.05 L289.00,302.00 L289.12,299.95 L289.47,298.31 L290.04,296.90 L290.82,295.71 L291.80,294.76 L292.96,294.07 L294.31,293.64 L296.00,293.50 L297.69,293.64 L299.04,294.07 L300.20,294.76 L301.18,295.71 L301.96,296.90 L302.53,298.31 L302.88,299.95 Z" fill="url(#d35)"/>
<path d="M303.50,321.50 L303.37,323.67 L303.00,325.40 L302.39,326.90 L301.55,328.16 L300.50,329.17 L299.25,329.90 L297.81,330.35 L296.00,330.50 L294.19,330.35 L292.75,329.90 L291.50,329.17 L290.45,328.16 L289.61,326.90 L289.00,325.40 L288.63,323.67 L288.50,321.50 L288.63,319.33 L289.00,317.60 L289.61,316.10 L290.45,314.84 L291.50,313.83 L292.75,313.10 L294.19,312.65 L296.00,312.50 L297.81,312.65 L299.25,313.10 L300.50,313.83 L301.55,314.84 L302.39,316.10 L303.00,317.60 L303.37,319.33 Z" fill="url(#d36)"/>
<rect x="291.00" y="309.50" width="11.00" height="4.00" fill="#000" fill-opacity="0.4"/>
</g>
<rect x="288.90" y="288.90" width="13.40" height="7.20" fill="#fff" />
<rect x="288.90" y="325.50" width="13.40" height="7.40" fill="#fff" />
</g>
<line x1="302.60" y1="286.40" x2="302.60" y2="335.30" stroke="#808080" stroke-width="0.8" />
<line x1="288.40" y1="311.30" x2="338.00" y2="311.30" stroke="#808080" stroke-width="0.8" />
<text x="289.80" y="294.61" font-size="5.3" textLength="9.55" lengthAdjust="spacingAndGlyphs" stroke="#2a2a2a" stroke-width="0.16" >27.2</text>
<text x="317.80" y="294.61" font-size="5.3" textLength="9.55" lengthAdjust="spacingAndGlyphs" stroke="#2a2a2a" stroke-width="0.16" >4.47</text>
<text x="289.80" y="331.41" font-size="5.3" textLength="9.55" lengthAdjust="spacingAndGlyphs" stroke="#2a2a2a" stroke-width="0.16" >34.3</text>
<text x="317.80" y="331.41" font-size="5.3" textLength="9.55" lengthAdjust="spacingAndGlyphs" stroke="#2a2a2a" stroke-width="0.16" >34.1</text>
<rect x="288.40" y="286.40" width="49.60" height="48.90" fill="none" stroke="#1a1a1a" stroke-width="1.1" />
<rect x="372.90" y="286.40" width="49.60" height="48.90" fill="#fff" />
<text x="367.30" y="292.09" font-size="4.7" text-anchor="end" textLength="5.40" lengthAdjust="spacingAndGlyphs" stroke="#2a2a2a" stroke-width="0.16" >10</text>
<text x="367.50" y="289.85" font-size="3.2" textLength="1.70" lengthAdjust="spacingAndGlyphs" stroke="#2a2a2a" stroke-width="0.16" >5</text>
<line x1="371.30" y1="290.40" x2="372.90" y2="290.40" stroke="#111" stroke-width="0.9" />
<text x="367.30" y="302.29" font-size="4.7" text-anchor="end" textLength="5.40" lengthAdjust="spacingAndGlyphs" stroke="#2a2a2a" stroke-width="0.16" >10</text>
<text x="367.50" y="300.05" font-size="3.2" textLength="1.70" lengthAdjust="spacingAndGlyphs" stroke="#2a2a2a" stroke-width="0.16" >4</text>
<line x1="371.30" y1="300.60" x2="372.90" y2="300.60" stroke="#111" stroke-width="0.9" />
<text x="367.30" y="313.59" font-size="4.7" text-anchor="end" textLength="5.40" lengthAdjust="spacingAndGlyphs" stroke="#2a2a2a" stroke-width="0.16" >10</text>
<text x="367.50" y="311.35" font-size="3.2" textLength="1.70" lengthAdjust="spacingAndGlyphs" stroke="#2a2a2a" stroke-width="0.16" >3</text>
<line x1="371.30" y1="311.90" x2="372.90" y2="311.90" stroke="#111" stroke-width="0.9" />
<text x="367.30" y="325.09" font-size="4.7" text-anchor="end" textLength="2.70" lengthAdjust="spacingAndGlyphs" stroke="#2a2a2a" stroke-width="0.16" >0</text>
<line x1="371.30" y1="323.40" x2="372.90" y2="323.40" stroke="#111" stroke-width="0.9" />
<text x="367.30" y="336.09" font-size="4.7" text-anchor="end" textLength="8.00" lengthAdjust="spacingAndGlyphs" stroke="#2a2a2a" stroke-width="0.16" >−10</text>
<text x="367.50" y="333.85" font-size="3.2" textLength="1.70" lengthAdjust="spacingAndGlyphs" stroke="#2a2a2a" stroke-width="0.16" >3</text>
<line x1="371.30" y1="334.40" x2="372.90" y2="334.40" stroke="#111" stroke-width="0.9" />
<text x="376.00" y="343.39" font-size="4.7" text-anchor="middle" textLength="7.20" lengthAdjust="spacingAndGlyphs" stroke="#2a2a2a" stroke-width="0.16" >−10</text>
<text x="379.75" y="341.15" font-size="3.2" textLength="1.70" lengthAdjust="spacingAndGlyphs" stroke="#2a2a2a" stroke-width="0.16" >3</text>
<line x1="376.90" y1="335.30" x2="376.90" y2="336.90" stroke="#111" stroke-width="0.9" />
<text x="387.30" y="343.39" font-size="4.7" text-anchor="middle" textLength="2.70" lengthAdjust="spacingAndGlyphs" stroke="#2a2a2a" stroke-width="0.16" >0</text>
<line x1="387.30" y1="335.30" x2="387.30" y2="336.90" stroke="#111" stroke-width="0.9" />
<text x="396.00" y="343.39" font-size="4.7" text-anchor="middle" textLength="5.00" lengthAdjust="spacingAndGlyphs" stroke="#2a2a2a" stroke-width="0.16" >10</text>
<text x="398.65" y="341.15" font-size="3.2" textLength="1.70" lengthAdjust="spacingAndGlyphs" stroke="#2a2a2a" stroke-width="0.16" >3</text>
<line x1="396.90" y1="335.30" x2="396.90" y2="336.90" stroke="#111" stroke-width="0.9" />
<text x="407.20" y="343.39" font-size="4.7" text-anchor="middle" textLength="5.00" lengthAdjust="spacingAndGlyphs" stroke="#2a2a2a" stroke-width="0.16" >10</text>
<text x="409.85" y="341.15" font-size="3.2" textLength="1.70" lengthAdjust="spacingAndGlyphs" stroke="#2a2a2a" stroke-width="0.16" >4</text>
<line x1="408.10" y1="335.30" x2="408.10" y2="336.90" stroke="#111" stroke-width="0.9" />
<text x="416.60" y="343.39" font-size="4.7" text-anchor="middle" textLength="5.00" lengthAdjust="spacingAndGlyphs" stroke="#2a2a2a" stroke-width="0.16" >10</text>
<text x="419.25" y="341.15" font-size="3.2" textLength="1.70" lengthAdjust="spacingAndGlyphs" stroke="#2a2a2a" stroke-width="0.16" >5</text>
<line x1="417.50" y1="335.30" x2="417.50" y2="336.90" stroke="#111" stroke-width="0.9" />
<g clip-path="url(#cp16)">
<ellipse cx="390.00" cy="316.00" rx="11.00" ry="17.00" fill="url(#g_pur)" opacity="0.36"/>
<ellipse cx="390.00" cy="316.00" rx="11.00" ry="17.00" fill="url(#g_hal)" filter="url(#spk)" opacity="0.9"/>
<g filter="url(#cmap)">
<path d="M393.00,306.90 L392.92,308.89 L392.66,310.12 L392.25,311.11 L391.66,311.90 L390.91,312.51 L389.97,312.95 L388.80,313.21 L386.90,313.30 L385.00,313.21 L383.83,312.95 L382.89,312.51 L382.14,311.90 L381.55,311.11 L381.14,310.12 L380.88,308.89 L380.80,306.90 L380.88,304.91 L381.14,303.68 L381.55,302.69 L382.14,301.90 L382.89,301.29 L383.83,300.85 L385.00,300.59 L386.90,300.50 L388.80,300.59 L389.97,300.85 L390.91,301.29 L391.66,301.90 L392.25,302.69 L392.66,303.68 L392.92,304.91 Z" fill="url(#d37)"/>
<path d="M402.10,323.00 L402.03,324.42 L401.83,325.39 L401.49,326.18 L401.02,326.83 L400.43,327.34 L399.70,327.70 L398.81,327.93 L397.50,328.00 L396.19,327.93 L395.30,327.70 L394.57,327.34 L393.98,326.83 L393.51,326.18 L393.17,325.39 L392.97,324.42 L392.90,323.00 L392.97,321.58 L393.17,320.61 L393.51,319.82 L393.98,319.17 L394.57,318.66 L395.30,318.30 L396.19,318.07 L397.50,318.00 L398.81,318.07 L399.70,318.30 L400.43,318.66 L401.02,319.17 L401.49,319.82 L401.83,320.61 L402.03,321.58 Z" fill="url(#d38)"/>
<path d="M393.50,323.00 L393.40,325.16 L393.12,326.63 L392.64,327.84 L391.98,328.82 L391.14,329.59 L390.10,330.15 L388.85,330.49 L387.00,330.60 L385.15,330.49 L383.90,330.15 L382.86,329.59 L382.02,328.82 L381.36,327.84 L380.88,326.63 L380.60,325.16 L380.50,323.00 L380.60,320.84 L380.88,319.37 L381.36,318.16 L382.02,317.18 L382.86,316.41 L383.90,315.85 L385.15,315.51 L387.00,315.40 L388.85,315.51 L390.10,315.85 L391.14,316.41 L391.98,317.18 L392.64,318.16 L393.12,319.37 L393.40,320.84 Z" fill="url(#d39)"/>
</g>
</g>
<rect x="375.70" y="300.00" width="44.00" height="14.60" fill="none" stroke="#808080" stroke-width="0.8" />
<path d="M394.60,314.60 L394.60,333.20 L402.40,333.20" stroke="#808080" stroke-width="0.8" fill="none" />
<text x="374.40" y="295.31" font-size="5.3" textLength="9.55" lengthAdjust="spacingAndGlyphs" stroke="#2a2a2a" stroke-width="0.16" >33.9</text>
<text x="417.60" y="295.95" font-size="8.2" text-anchor="end" font-weight="bold" fill="#111" textLength="18.40" lengthAdjust="spacingAndGlyphs" stroke="#111" stroke-width="0.3" >D200</text>
<text x="419.50" y="331.31" font-size="5.3" text-anchor="end" textLength="9.55" lengthAdjust="spacingAndGlyphs" stroke="#2a2a2a" stroke-width="0.16" >7.46</text>
<rect x="372.90" y="286.40" width="49.60" height="48.90" fill="none" stroke="#1a1a1a" stroke-width="1.1" />
<rect x="459.40" y="286.40" width="49.60" height="48.90" fill="#fff" />
<text x="453.80" y="292.09" font-size="4.7" text-anchor="end" textLength="5.40" lengthAdjust="spacingAndGlyphs" stroke="#2a2a2a" stroke-width="0.16" >10</text>
<text x="454.00" y="289.85" font-size="3.2" textLength="1.70" lengthAdjust="spacingAndGlyphs" stroke="#2a2a2a" stroke-width="0.16" >5</text>
<line x1="457.80" y1="290.40" x2="459.40" y2="290.40" stroke="#111" stroke-width="0.9" />
<text x="453.80" y="302.29" font-size="4.7" text-anchor="end" textLength="5.40" lengthAdjust="spacingAndGlyphs" stroke="#2a2a2a" stroke-width="0.16" >10</text>
<text x="454.00" y="300.05" font-size="3.2" textLength="1.70" lengthAdjust="spacingAndGlyphs" stroke="#2a2a2a" stroke-width="0.16" >4</text>
<line x1="457.80" y1="300.60" x2="459.40" y2="300.60" stroke="#111" stroke-width="0.9" />
<text x="453.80" y="313.59" font-size="4.7" text-anchor="end" textLength="5.40" lengthAdjust="spacingAndGlyphs" stroke="#2a2a2a" stroke-width="0.16" >10</text>
<text x="454.00" y="311.35" font-size="3.2" textLength="1.70" lengthAdjust="spacingAndGlyphs" stroke="#2a2a2a" stroke-width="0.16" >3</text>
<line x1="457.80" y1="311.90" x2="459.40" y2="311.90" stroke="#111" stroke-width="0.9" />
<text x="453.80" y="325.09" font-size="4.7" text-anchor="end" textLength="2.70" lengthAdjust="spacingAndGlyphs" stroke="#2a2a2a" stroke-width="0.16" >0</text>
<line x1="457.80" y1="323.40" x2="459.40" y2="323.40" stroke="#111" stroke-width="0.9" />
<text x="453.80" y="336.09" font-size="4.7" text-anchor="end" textLength="8.00" lengthAdjust="spacingAndGlyphs" stroke="#2a2a2a" stroke-width="0.16" >−10</text>
<text x="454.00" y="333.85" font-size="3.2" textLength="1.70" lengthAdjust="spacingAndGlyphs" stroke="#2a2a2a" stroke-width="0.16" >3</text>
<line x1="457.80" y1="334.40" x2="459.40" y2="334.40" stroke="#111" stroke-width="0.9" />
<text x="462.50" y="343.39" font-size="4.7" text-anchor="middle" textLength="7.20" lengthAdjust="spacingAndGlyphs" stroke="#2a2a2a" stroke-width="0.16" >−10</text>
<text x="466.25" y="341.15" font-size="3.2" textLength="1.70" lengthAdjust="spacingAndGlyphs" stroke="#2a2a2a" stroke-width="0.16" >3</text>
<line x1="463.40" y1="335.30" x2="463.40" y2="336.90" stroke="#111" stroke-width="0.9" />
<text x="473.80" y="343.39" font-size="4.7" text-anchor="middle" textLength="2.70" lengthAdjust="spacingAndGlyphs" stroke="#2a2a2a" stroke-width="0.16" >0</text>
<line x1="473.80" y1="335.30" x2="473.80" y2="336.90" stroke="#111" stroke-width="0.9" />
<text x="482.50" y="343.39" font-size="4.7" text-anchor="middle" textLength="5.00" lengthAdjust="spacingAndGlyphs" stroke="#2a2a2a" stroke-width="0.16" >10</text>
<text x="485.15" y="341.15" font-size="3.2" textLength="1.70" lengthAdjust="spacingAndGlyphs" stroke="#2a2a2a" stroke-width="0.16" >3</text>
<line x1="483.40" y1="335.30" x2="483.40" y2="336.90" stroke="#111" stroke-width="0.9" />
<text x="493.70" y="343.39" font-size="4.7" text-anchor="middle" textLength="5.00" lengthAdjust="spacingAndGlyphs" stroke="#2a2a2a" stroke-width="0.16" >10</text>
<text x="496.35" y="341.15" font-size="3.2" textLength="1.70" lengthAdjust="spacingAndGlyphs" stroke="#2a2a2a" stroke-width="0.16" >4</text>
<line x1="494.60" y1="335.30" x2="494.60" y2="336.90" stroke="#111" stroke-width="0.9" />
<text x="503.10" y="343.39" font-size="4.7" text-anchor="middle" textLength="5.00" lengthAdjust="spacingAndGlyphs" stroke="#2a2a2a" stroke-width="0.16" >10</text>
<text x="505.75" y="341.15" font-size="3.2" textLength="1.70" lengthAdjust="spacingAndGlyphs" stroke="#2a2a2a" stroke-width="0.16" >5</text>
<line x1="504.00" y1="335.30" x2="504.00" y2="336.90" stroke="#111" stroke-width="0.9" />
<g clip-path="url(#cp17)">
<ellipse cx="482.00" cy="302.00" rx="7.00" ry="9.00" fill="url(#g_pur)" opacity="0.40"/>
<ellipse cx="482.00" cy="302.00" rx="7.00" ry="9.00" fill="url(#g_hal)" filter="url(#spk)" opacity="1.0"/>
<ellipse cx="474.00" cy="314.00" rx="4.00" ry="9.00" fill="url(#g_pur)" opacity="0.36"/>
<ellipse cx="474.00" cy="314.00" rx="4.00" ry="9.00" fill="url(#g_hal)" filter="url(#spk)" opacity="0.9"/>
<ellipse cx="478.00" cy="323.00" rx="14.00" ry="4.50" fill="url(#g_pur)" opacity="0.40"/>
<ellipse cx="478.00" cy="323.00" rx="14.00" ry="4.50" fill="url(#g_hal)" filter="url(#spk)" opacity="1.0"/>
<g filter="url(#cmap)">
<path d="M468.90,321.00 L488.10,321.00 A1.70,1.70 0 0 1 488.10,324.40 L468.90,324.40 A1.70,1.70 0 0 1 468.90,321.00 Z" fill="url(#l40)"/>
<path d="M468.0,299.0 Q468.5,296.0 472.0,296.5 L476.0,295.5 L480.5,294.5 Q481.5,300.0 479.5,305.0 Q478.5,308.5 475.0,309.0 Q471.0,308.5 470.0,305.0 Q468.0,302.0 468.0,299.0 Z" fill="url(#d41)"/>
</g>
</g>
<line x1="479.80" y1="286.40" x2="479.80" y2="335.30" stroke="#808080" stroke-width="0.8" />
<line x1="459.40" y1="311.30" x2="509.00" y2="311.30" stroke="#808080" stroke-width="0.8" />
<text x="460.80" y="294.61" font-size="5.3" textLength="9.55" lengthAdjust="spacingAndGlyphs" stroke="#2a2a2a" stroke-width="0.16" >56.2</text>
<text x="488.80" y="294.61" font-size="5.3" textLength="9.55" lengthAdjust="spacingAndGlyphs" stroke="#2a2a2a" stroke-width="0.16" >3.22</text>
<text x="460.80" y="331.41" font-size="5.3" textLength="9.55" lengthAdjust="spacingAndGlyphs" stroke="#2a2a2a" stroke-width="0.16" >22.8</text>
<text x="488.80" y="331.41" font-size="5.3" textLength="9.55" lengthAdjust="spacingAndGlyphs" stroke="#2a2a2a" stroke-width="0.16" >17.8</text>
<rect x="459.40" y="286.40" width="49.60" height="48.90" fill="none" stroke="#1a1a1a" stroke-width="1.1" />
<rect x="35.30" y="346.70" width="49.60" height="48.90" fill="#fff" />
<text x="29.70" y="352.39" font-size="4.7" text-anchor="end" textLength="5.40" lengthAdjust="spacingAndGlyphs" stroke="#2a2a2a" stroke-width="0.16" >10</text>
<text x="29.90" y="350.15" font-size="3.2" textLength="1.70" lengthAdjust="spacingAndGlyphs" stroke="#2a2a2a" stroke-width="0.16" >5</text>
<line x1="33.70" y1="350.70" x2="35.30" y2="350.70" stroke="#111" stroke-width="0.9" />
<text x="29.70" y="362.59" font-size="4.7" text-anchor="end" textLength="5.40" lengthAdjust="spacingAndGlyphs" stroke="#2a2a2a" stroke-width="0.16" >10</text>
<text x="29.90" y="360.35" font-size="3.2" textLength="1.70" lengthAdjust="spacingAndGlyphs" stroke="#2a2a2a" stroke-width="0.16" >4</text>
<line x1="33.70" y1="360.90" x2="35.30" y2="360.90" stroke="#111" stroke-width="0.9" />
<text x="29.70" y="373.89" font-size="4.7" text-anchor="end" textLength="5.40" lengthAdjust="spacingAndGlyphs" stroke="#2a2a2a" stroke-width="0.16" >10</text>
<text x="29.90" y="371.65" font-size="3.2" textLength="1.70" lengthAdjust="spacingAndGlyphs" stroke="#2a2a2a" stroke-width="0.16" >3</text>
<line x1="33.70" y1="372.20" x2="35.30" y2="372.20" stroke="#111" stroke-width="0.9" />
<text x="29.70" y="385.39" font-size="4.7" text-anchor="end" textLength="2.70" lengthAdjust="spacingAndGlyphs" stroke="#2a2a2a" stroke-width="0.16" >0</text>
<line x1="33.70" y1="383.70" x2="35.30" y2="383.70" stroke="#111" stroke-width="0.9" />
<text x="29.70" y="396.39" font-size="4.7" text-anchor="end" textLength="8.00" lengthAdjust="spacingAndGlyphs" stroke="#2a2a2a" stroke-width="0.16" >−10</text>
<text x="29.90" y="394.15" font-size="3.2" textLength="1.70" lengthAdjust="spacingAndGlyphs" stroke="#2a2a2a" stroke-width="0.16" >3</text>
<line x1="33.70" y1="394.70" x2="35.30" y2="394.70" stroke="#111" stroke-width="0.9" />
<text x="38.40" y="403.69" font-size="4.7" text-anchor="middle" textLength="7.20" lengthAdjust="spacingAndGlyphs" stroke="#2a2a2a" stroke-width="0.16" >−10</text>
<text x="42.15" y="401.45" font-size="3.2" textLength="1.70" lengthAdjust="spacingAndGlyphs" stroke="#2a2a2a" stroke-width="0.16" >3</text>
<line x1="39.30" y1="395.60" x2="39.30" y2="397.20" stroke="#111" stroke-width="0.9" />
<text x="49.70" y="403.69" font-size="4.7" text-anchor="middle" textLength="2.70" lengthAdjust="spacingAndGlyphs" stroke="#2a2a2a" stroke-width="0.16" >0</text>
<line x1="49.70" y1="395.60" x2="49.70" y2="397.20" stroke="#111" stroke-width="0.9" />
<text x="58.40" y="403.69" font-size="4.7" text-anchor="middle" textLength="5.00" lengthAdjust="spacingAndGlyphs" stroke="#2a2a2a" stroke-width="0.16" >10</text>
<text x="61.05" y="401.45" font-size="3.2" textLength="1.70" lengthAdjust="spacingAndGlyphs" stroke="#2a2a2a" stroke-width="0.16" >3</text>
<line x1="59.30" y1="395.60" x2="59.30" y2="397.20" stroke="#111" stroke-width="0.9" />
<text x="69.60" y="403.69" font-size="4.7" text-anchor="middle" textLength="5.00" lengthAdjust="spacingAndGlyphs" stroke="#2a2a2a" stroke-width="0.16" >10</text>
<text x="72.25" y="401.45" font-size="3.2" textLength="1.70" lengthAdjust="spacingAndGlyphs" stroke="#2a2a2a" stroke-width="0.16" >4</text>
<line x1="70.50" y1="395.60" x2="70.50" y2="397.20" stroke="#111" stroke-width="0.9" />
<text x="79.00" y="403.69" font-size="4.7" text-anchor="middle" textLength="5.00" lengthAdjust="spacingAndGlyphs" stroke="#2a2a2a" stroke-width="0.16" >10</text>
<text x="81.65" y="401.45" font-size="3.2" textLength="1.70" lengthAdjust="spacingAndGlyphs" stroke="#2a2a2a" stroke-width="0.16" >5</text>
<line x1="79.90" y1="395.60" x2="79.90" y2="397.20" stroke="#111" stroke-width="0.9" />
<g clip-path="url(#cp18)">
<ellipse cx="47.50" cy="366.20" rx="8.50" ry="7.50" fill="url(#g_pur)" opacity="0.40"/>
<ellipse cx="47.50" cy="366.20" rx="8.50" ry="7.50" fill="url(#g_hal)" filter="url(#spk)" opacity="1.0"/>
<ellipse cx="53.00" cy="382.30" rx="16.00" ry="9.50" fill="url(#g_pur)" opacity="0.40"/>
<ellipse cx="53.00" cy="382.30" rx="16.00" ry="9.50" fill="url(#g_hal)" filter="url(#spk)" opacity="1.0"/>
<g filter="url(#cmap)">
<path d="M54.10,366.20 L54.00,367.82 L53.69,368.98 L53.19,369.95 L52.50,370.75 L51.62,371.38 L50.56,371.83 L49.29,372.11 L47.50,372.20 L45.71,372.11 L44.44,371.83 L43.38,371.38 L42.50,370.75 L41.81,369.95 L41.31,368.98 L41.00,367.82 L40.90,366.20 L41.00,364.58 L41.31,363.42 L41.81,362.45 L42.50,361.65 L43.38,361.02 L44.44,360.57 L45.71,360.29 L47.50,360.20 L49.29,360.29 L50.56,360.57 L51.62,361.02 L52.50,361.65 L53.19,362.45 L53.69,363.42 L54.00,364.58 Z" fill="url(#d42)"/>
<path d="M66.60,382.30 L66.51,384.46 L66.22,385.93 L65.75,387.14 L65.10,388.12 L64.27,388.89 L63.26,389.45 L62.02,389.79 L60.20,389.90 L58.38,389.79 L57.14,389.45 L56.13,388.89 L55.30,388.12 L54.65,387.14 L54.18,385.93 L53.89,384.46 L53.80,382.30 L53.89,380.14 L54.18,378.67 L54.65,377.46 L55.30,376.48 L56.13,375.71 L57.14,375.15 L58.38,374.81 L60.20,374.70 L62.02,374.81 L63.26,375.15 L64.27,375.71 L65.10,376.48 L65.75,377.46 L66.22,378.67 L66.51,380.14 Z" fill="url(#d43)"/>
<path d="M54.20,382.30 L54.09,384.46 L53.77,385.93 L53.25,387.14 L52.52,388.12 L51.58,388.89 L50.44,389.45 L49.05,389.79 L47.00,389.90 L44.95,389.79 L43.56,389.45 L42.42,388.89 L41.48,388.12 L40.75,387.14 L40.23,385.93 L39.91,384.46 L39.80,382.30 L39.91,380.14 L40.23,378.67 L40.75,377.46 L41.48,376.48 L42.42,375.71 L43.56,375.15 L44.95,374.81 L47.00,374.70 L49.05,374.81 L50.44,375.15 L51.58,375.71 L52.52,376.48 L53.25,377.46 L53.77,378.67 L54.09,380.14 Z" fill="url(#d44)"/>
</g>
</g>
<rect x="35.60" y="359.10" width="47.60" height="12.80" fill="none" stroke="#808080" stroke-width="0.8" />
<path d="M56.50,395.60 L56.50,371.90 L84.90,371.90" stroke="#808080" stroke-width="0.8" fill="none" />
<text x="37.60" y="354.41" font-size="5.3" textLength="9.55" lengthAdjust="spacingAndGlyphs" stroke="#2a2a2a" stroke-width="0.16" >16.4</text>
<text x="78.00" y="356.25" font-size="8.2" text-anchor="end" font-weight="bold" fill="#111" textLength="18.40" lengthAdjust="spacingAndGlyphs" stroke="#111" stroke-width="0.3" >D360</text>
<text x="80.60" y="391.61" font-size="5.3" text-anchor="end" textLength="9.55" lengthAdjust="spacingAndGlyphs" stroke="#2a2a2a" stroke-width="0.16" >40.4</text>
<rect x="35.30" y="346.70" width="49.60" height="48.90" fill="none" stroke="#1a1a1a" stroke-width="1.1" />
<rect x="116.60" y="346.70" width="49.60" height="48.90" fill="#fff" />
<text x="111.00" y="352.39" font-size="4.7" text-anchor="end" textLength="5.40" lengthAdjust="spacingAndGlyphs" stroke="#2a2a2a" stroke-width="0.16" >10</text>
<text x="111.20" y="350.15" font-size="3.2" textLength="1.70" lengthAdjust="spacingAndGlyphs" stroke="#2a2a2a" stroke-width="0.16" >5</text>
<line x1="115.00" y1="350.70" x2="116.60" y2="350.70" stroke="#111" stroke-width="0.9" />
<text x="111.00" y="362.59" font-size="4.7" text-anchor="end" textLength="5.40" lengthAdjust="spacingAndGlyphs" stroke="#2a2a2a" stroke-width="0.16" >10</text>
<text x="111.20" y="360.35" font-size="3.2" textLength="1.70" lengthAdjust="spacingAndGlyphs" stroke="#2a2a2a" stroke-width="0.16" >4</text>
<line x1="115.00" y1="360.90" x2="116.60" y2="360.90" stroke="#111" stroke-width="0.9" />
<text x="111.00" y="373.89" font-size="4.7" text-anchor="end" textLength="5.40" lengthAdjust="spacingAndGlyphs" stroke="#2a2a2a" stroke-width="0.16" >10</text>
<text x="111.20" y="371.65" font-size="3.2" textLength="1.70" lengthAdjust="spacingAndGlyphs" stroke="#2a2a2a" stroke-width="0.16" >3</text>
<line x1="115.00" y1="372.20" x2="116.60" y2="372.20" stroke="#111" stroke-width="0.9" />
<text x="111.00" y="385.39" font-size="4.7" text-anchor="end" textLength="2.70" lengthAdjust="spacingAndGlyphs" stroke="#2a2a2a" stroke-width="0.16" >0</text>
<line x1="115.00" y1="383.70" x2="116.60" y2="383.70" stroke="#111" stroke-width="0.9" />
<text x="111.00" y="396.39" font-size="4.7" text-anchor="end" textLength="8.00" lengthAdjust="spacingAndGlyphs" stroke="#2a2a2a" stroke-width="0.16" >−10</text>
<text x="111.20" y="394.15" font-size="3.2" textLength="1.70" lengthAdjust="spacingAndGlyphs" stroke="#2a2a2a" stroke-width="0.16" >3</text>
<line x1="115.00" y1="394.70" x2="116.60" y2="394.70" stroke="#111" stroke-width="0.9" />
<text x="119.70" y="403.69" font-size="4.7" text-anchor="middle" textLength="7.20" lengthAdjust="spacingAndGlyphs" stroke="#2a2a2a" stroke-width="0.16" >−10</text>
<text x="123.45" y="401.45" font-size="3.2" textLength="1.70" lengthAdjust="spacingAndGlyphs" stroke="#2a2a2a" stroke-width="0.16" >3</text>
<line x1="120.60" y1="395.60" x2="120.60" y2="397.20" stroke="#111" stroke-width="0.9" />
<text x="131.00" y="403.69" font-size="4.7" text-anchor="middle" textLength="2.70" lengthAdjust="spacingAndGlyphs" stroke="#2a2a2a" stroke-width="0.16" >0</text>
<line x1="131.00" y1="395.60" x2="131.00" y2="397.20" stroke="#111" stroke-width="0.9" />
<text x="139.70" y="403.69" font-size="4.7" text-anchor="middle" textLength="5.00" lengthAdjust="spacingAndGlyphs" stroke="#2a2a2a" stroke-width="0.16" >10</text>
<text x="142.35" y="401.45" font-size="3.2" textLength="1.70" lengthAdjust="spacingAndGlyphs" stroke="#2a2a2a" stroke-width="0.16" >3</text>
<line x1="140.60" y1="395.60" x2="140.60" y2="397.20" stroke="#111" stroke-width="0.9" />
<text x="150.90" y="403.69" font-size="4.7" text-anchor="middle" textLength="5.00" lengthAdjust="spacingAndGlyphs" stroke="#2a2a2a" stroke-width="0.16" >10</text>
<text x="153.55" y="401.45" font-size="3.2" textLength="1.70" lengthAdjust="spacingAndGlyphs" stroke="#2a2a2a" stroke-width="0.16" >4</text>
<line x1="151.80" y1="395.60" x2="151.80" y2="397.20" stroke="#111" stroke-width="0.9" />
<text x="160.30" y="403.69" font-size="4.7" text-anchor="middle" textLength="5.00" lengthAdjust="spacingAndGlyphs" stroke="#2a2a2a" stroke-width="0.16" >10</text>
<text x="162.95" y="401.45" font-size="3.2" textLength="1.70" lengthAdjust="spacingAndGlyphs" stroke="#2a2a2a" stroke-width="0.16" >5</text>
<line x1="161.20" y1="395.60" x2="161.20" y2="397.20" stroke="#111" stroke-width="0.9" />
<g clip-path="url(#cp19)">
<ellipse cx="139.00" cy="366.00" rx="9.50" ry="14.00" fill="url(#g_pur)" opacity="0.40"/>
<ellipse cx="139.00" cy="366.00" rx="9.50" ry="14.00" fill="url(#g_hal)" filter="url(#spk)" opacity="1.0"/>
<ellipse cx="128.50" cy="362.50" rx="7.50" ry="9.00" fill="url(#g_pur)" opacity="0.40"/>
<ellipse cx="128.50" cy="362.50" rx="7.50" ry="9.00" fill="url(#g_hal)" filter="url(#spk)" opacity="1.0"/>
<g filter="url(#cmap)">
<path d="M134.30,362.50 L134.21,364.34 L133.93,365.73 L133.47,366.91 L132.85,367.89 L132.05,368.67 L131.10,369.24 L129.99,369.58 L128.50,369.70 L127.01,369.58 L125.90,369.24 L124.95,368.67 L124.15,367.89 L123.53,366.91 L123.07,365.73 L122.79,364.34 L122.70,362.50 L122.79,360.66 L123.07,359.27 L123.53,358.09 L124.15,357.11 L124.95,356.33 L125.90,355.76 L127.01,355.42 L128.50,355.30 L129.99,355.42 L131.10,355.76 L132.05,356.33 L132.85,357.11 L133.47,358.09 L133.93,359.27 L134.21,360.66 Z" fill="url(#d45)"/>
<path d="M122.95,382.60 L147.05,381.00 A1.15,1.15 0 0 1 147.05,383.30 L122.95,384.90 A1.15,1.15 0 0 1 122.95,382.60 Z" fill="url(#l46)"/>
<path d="M130.65,384.00 L143.25,384.00 A1.15,1.15 0 0 1 143.25,386.30 L130.65,386.30 A1.15,1.15 0 0 1 130.65,384.00 Z" fill="url(#l47)"/>
</g>
</g>
<line x1="136.80" y1="346.70" x2="136.80" y2="395.60" stroke="#808080" stroke-width="0.8" />
<line x1="116.60" y1="372.00" x2="166.20" y2="372.00" stroke="#808080" stroke-width="0.8" />
<text x="118.00" y="354.91" font-size="5.3" textLength="9.55" lengthAdjust="spacingAndGlyphs" stroke="#2a2a2a" stroke-width="0.16" >14.3</text>
<text x="146.00" y="354.91" font-size="5.3" textLength="9.55" lengthAdjust="spacingAndGlyphs" stroke="#2a2a2a" stroke-width="0.16" >2.44</text>
<text x="118.00" y="391.71" font-size="5.3" textLength="9.55" lengthAdjust="spacingAndGlyphs" stroke="#2a2a2a" stroke-width="0.16" >17.7</text>
<text x="146.00" y="391.71" font-size="5.3" textLength="9.55" lengthAdjust="spacingAndGlyphs" stroke="#2a2a2a" stroke-width="0.16" >65.6</text>
<rect x="116.60" y="346.70" width="49.60" height="48.90" fill="none" stroke="#1a1a1a" stroke-width="1.1" />
<rect x="204.80" y="346.70" width="49.60" height="48.90" fill="#fff" />
<text x="199.20" y="352.39" font-size="4.7" text-anchor="end" textLength="5.40" lengthAdjust="spacingAndGlyphs" stroke="#2a2a2a" stroke-width="0.16" >10</text>
<text x="199.40" y="350.15" font-size="3.2" textLength="1.70" lengthAdjust="spacingAndGlyphs" stroke="#2a2a2a" stroke-width="0.16" >5</text>
<line x1="203.20" y1="350.70" x2="204.80" y2="350.70" stroke="#111" stroke-width="0.9" />
<text x="199.20" y="362.59" font-size="4.7" text-anchor="end" textLength="5.40" lengthAdjust="spacingAndGlyphs" stroke="#2a2a2a" stroke-width="0.16" >10</text>
<text x="199.40" y="360.35" font-size="3.2" textLength="1.70" lengthAdjust="spacingAndGlyphs" stroke="#2a2a2a" stroke-width="0.16" >4</text>
<line x1="203.20" y1="360.90" x2="204.80" y2="360.90" stroke="#111" stroke-width="0.9" />
<text x="199.20" y="373.89" font-size="4.7" text-anchor="end" textLength="5.40" lengthAdjust="spacingAndGlyphs" stroke="#2a2a2a" stroke-width="0.16" >10</text>
<text x="199.40" y="371.65" font-size="3.2" textLength="1.70" lengthAdjust="spacingAndGlyphs" stroke="#2a2a2a" stroke-width="0.16" >3</text>
<line x1="203.20" y1="372.20" x2="204.80" y2="372.20" stroke="#111" stroke-width="0.9" />
<text x="199.20" y="385.39" font-size="4.7" text-anchor="end" textLength="2.70" lengthAdjust="spacingAndGlyphs" stroke="#2a2a2a" stroke-width="0.16" >0</text>
<line x1="203.20" y1="383.70" x2="204.80" y2="383.70" stroke="#111" stroke-width="0.9" />
<text x="199.20" y="396.39" font-size="4.7" text-anchor="end" textLength="8.00" lengthAdjust="spacingAndGlyphs" stroke="#2a2a2a" stroke-width="0.16" >−10</text>
<text x="199.40" y="394.15" font-size="3.2" textLength="1.70" lengthAdjust="spacingAndGlyphs" stroke="#2a2a2a" stroke-width="0.16" >3</text>
<line x1="203.20" y1="394.70" x2="204.80" y2="394.70" stroke="#111" stroke-width="0.9" />
<text x="207.90" y="403.69" font-size="4.7" text-anchor="middle" textLength="7.20" lengthAdjust="spacingAndGlyphs" stroke="#2a2a2a" stroke-width="0.16" >−10</text>
<text x="211.65" y="401.45" font-size="3.2" textLength="1.70" lengthAdjust="spacingAndGlyphs" stroke="#2a2a2a" stroke-width="0.16" >3</text>
<line x1="208.80" y1="395.60" x2="208.80" y2="397.20" stroke="#111" stroke-width="0.9" />
<text x="219.20" y="403.69" font-size="4.7" text-anchor="middle" textLength="2.70" lengthAdjust="spacingAndGlyphs" stroke="#2a2a2a" stroke-width="0.16" >0</text>
<line x1="219.20" y1="395.60" x2="219.20" y2="397.20" stroke="#111" stroke-width="0.9" />
<text x="227.90" y="403.69" font-size="4.7" text-anchor="middle" textLength="5.00" lengthAdjust="spacingAndGlyphs" stroke="#2a2a2a" stroke-width="0.16" >10</text>
<text x="230.55" y="401.45" font-size="3.2" textLength="1.70" lengthAdjust="spacingAndGlyphs" stroke="#2a2a2a" stroke-width="0.16" >3</text>
<line x1="228.80" y1="395.60" x2="228.80" y2="397.20" stroke="#111" stroke-width="0.9" />
<text x="239.10" y="403.69" font-size="4.7" text-anchor="middle" textLength="5.00" lengthAdjust="spacingAndGlyphs" stroke="#2a2a2a" stroke-width="0.16" >10</text>
<text x="241.75" y="401.45" font-size="3.2" textLength="1.70" lengthAdjust="spacingAndGlyphs" stroke="#2a2a2a" stroke-width="0.16" >4</text>
<line x1="240.00" y1="395.60" x2="240.00" y2="397.20" stroke="#111" stroke-width="0.9" />
<text x="248.50" y="403.69" font-size="4.7" text-anchor="middle" textLength="5.00" lengthAdjust="spacingAndGlyphs" stroke="#2a2a2a" stroke-width="0.16" >10</text>
<text x="251.15" y="401.45" font-size="3.2" textLength="1.70" lengthAdjust="spacingAndGlyphs" stroke="#2a2a2a" stroke-width="0.16" >5</text>
<line x1="249.40" y1="395.60" x2="249.40" y2="397.20" stroke="#111" stroke-width="0.9" />
<g clip-path="url(#cp20)">
<ellipse cx="220.00" cy="384.50" rx="16.50" ry="7.00" fill="url(#g_pur)" opacity="0.40"/>
<ellipse cx="220.00" cy="384.50" rx="16.50" ry="7.00" fill="url(#g_hal)" filter="url(#spk)" opacity="1.0"/>
<ellipse cx="214.80" cy="368.00" rx="6.50" ry="8.50" fill="url(#g_pur)" opacity="0.32"/>
<ellipse cx="214.80" cy="368.00" rx="6.50" ry="8.50" fill="url(#g_hal)" filter="url(#spk)" opacity="0.8"/>
<g filter="url(#cmap)">
<path d="M214.6,375.0 Q211.0,372.0 210.0,368.0 Q209.2,363.0 211.5,361.5 Q214.8,360.5 218.0,361.5 Q220.3,363.0 219.6,368.0 Q218.5,372.0 214.6,375.0 Z" fill="url(#d48)"/>
<path d="M233.80,384.40 L233.57,385.46 L232.87,386.31 L231.72,387.04 L230.16,387.66 L228.20,388.15 L225.87,388.51 L223.18,388.73 L219.80,388.80 L216.42,388.73 L213.73,388.51 L211.40,388.15 L209.44,387.66 L207.88,387.04 L206.73,386.31 L206.03,385.46 L205.80,384.40 L206.03,383.34 L206.73,382.49 L207.88,381.76 L209.44,381.14 L211.40,380.65 L213.73,380.29 L216.42,380.07 L219.80,380.00 L223.18,380.07 L225.87,380.29 L228.20,380.65 L230.16,381.14 L231.72,381.76 L232.87,382.49 L233.57,383.34 Z" fill="url(#d49)"/>
</g>
</g>
<rect x="205.90" y="361.10" width="46.00" height="17.00" fill="none" stroke="#808080" stroke-width="0.8" />
<path d="M220.00,378.10 L220.00,392.80 L237.20,392.80" stroke="#808080" stroke-width="0.8" fill="none" />
<text x="206.30" y="357.51" font-size="5.3" textLength="9.55" lengthAdjust="spacingAndGlyphs" stroke="#2a2a2a" stroke-width="0.16" >26.0</text>
<text x="248.60" y="356.25" font-size="8.2" text-anchor="end" font-weight="bold" fill="#111" textLength="18.40" lengthAdjust="spacingAndGlyphs" stroke="#111" stroke-width="0.3" >D200</text>
<text x="250.70" y="391.61" font-size="5.3" text-anchor="end" textLength="9.55" lengthAdjust="spacingAndGlyphs" stroke="#2a2a2a" stroke-width="0.16" >26.0</text>
<rect x="204.80" y="346.70" width="49.60" height="48.90" fill="none" stroke="#1a1a1a" stroke-width="1.1" />
<rect x="288.40" y="346.70" width="49.60" height="48.90" fill="#fff" />
<text x="282.80" y="352.39" font-size="4.7" text-anchor="end" textLength="5.40" lengthAdjust="spacingAndGlyphs" stroke="#2a2a2a" stroke-width="0.16" >10</text>
<text x="283.00" y="350.15" font-size="3.2" textLength="1.70" lengthAdjust="spacingAndGlyphs" stroke="#2a2a2a" stroke-width="0.16" >5</text>
<line x1="286.80" y1="350.70" x2="288.40" y2="350.70" stroke="#111" stroke-width="0.9" />
<text x="282.80" y="362.59" font-size="4.7" text-anchor="end" textLength="5.40" lengthAdjust="spacingAndGlyphs" stroke="#2a2a2a" stroke-width="0.16" >10</text>
<text x="283.00" y="360.35" font-size="3.2" textLength="1.70" lengthAdjust="spacingAndGlyphs" stroke="#2a2a2a" stroke-width="0.16" >4</text>
<line x1="286.80" y1="360.90" x2="288.40" y2="360.90" stroke="#111" stroke-width="0.9" />
<text x="282.80" y="373.89" font-size="4.7" text-anchor="end" textLength="5.40" lengthAdjust="spacingAndGlyphs" stroke="#2a2a2a" stroke-width="0.16" >10</text>
<text x="283.00" y="371.65" font-size="3.2" textLength="1.70" lengthAdjust="spacingAndGlyphs" stroke="#2a2a2a" stroke-width="0.16" >3</text>
<line x1="286.80" y1="372.20" x2="288.40" y2="372.20" stroke="#111" stroke-width="0.9" />
<text x="282.80" y="385.39" font-size="4.7" text-anchor="end" textLength="2.70" lengthAdjust="spacingAndGlyphs" stroke="#2a2a2a" stroke-width="0.16" >0</text>
<line x1="286.80" y1="383.70" x2="288.40" y2="383.70" stroke="#111" stroke-width="0.9" />
<text x="282.80" y="396.39" font-size="4.7" text-anchor="end" textLength="8.00" lengthAdjust="spacingAndGlyphs" stroke="#2a2a2a" stroke-width="0.16" >−10</text>
<text x="283.00" y="394.15" font-size="3.2" textLength="1.70" lengthAdjust="spacingAndGlyphs" stroke="#2a2a2a" stroke-width="0.16" >3</text>
<line x1="286.80" y1="394.70" x2="288.40" y2="394.70" stroke="#111" stroke-width="0.9" />
<text x="291.50" y="403.69" font-size="4.7" text-anchor="middle" textLength="7.20" lengthAdjust="spacingAndGlyphs" stroke="#2a2a2a" stroke-width="0.16" >−10</text>
<text x="295.25" y="401.45" font-size="3.2" textLength="1.70" lengthAdjust="spacingAndGlyphs" stroke="#2a2a2a" stroke-width="0.16" >3</text>
<line x1="292.40" y1="395.60" x2="292.40" y2="397.20" stroke="#111" stroke-width="0.9" />
<text x="302.80" y="403.69" font-size="4.7" text-anchor="middle" textLength="2.70" lengthAdjust="spacingAndGlyphs" stroke="#2a2a2a" stroke-width="0.16" >0</text>
<line x1="302.80" y1="395.60" x2="302.80" y2="397.20" stroke="#111" stroke-width="0.9" />
<text x="311.50" y="403.69" font-size="4.7" text-anchor="middle" textLength="5.00" lengthAdjust="spacingAndGlyphs" stroke="#2a2a2a" stroke-width="0.16" >10</text>
<text x="314.15" y="401.45" font-size="3.2" textLength="1.70" lengthAdjust="spacingAndGlyphs" stroke="#2a2a2a" stroke-width="0.16" >3</text>
<line x1="312.40" y1="395.60" x2="312.40" y2="397.20" stroke="#111" stroke-width="0.9" />
<text x="322.70" y="403.69" font-size="4.7" text-anchor="middle" textLength="5.00" lengthAdjust="spacingAndGlyphs" stroke="#2a2a2a" stroke-width="0.16" >10</text>
<text x="325.35" y="401.45" font-size="3.2" textLength="1.70" lengthAdjust="spacingAndGlyphs" stroke="#2a2a2a" stroke-width="0.16" >4</text>
<line x1="323.60" y1="395.60" x2="323.60" y2="397.20" stroke="#111" stroke-width="0.9" />
<text x="332.10" y="403.69" font-size="4.7" text-anchor="middle" textLength="5.00" lengthAdjust="spacingAndGlyphs" stroke="#2a2a2a" stroke-width="0.16" >10</text>
<text x="334.75" y="401.45" font-size="3.2" textLength="1.70" lengthAdjust="spacingAndGlyphs" stroke="#2a2a2a" stroke-width="0.16" >5</text>
<line x1="333.00" y1="395.60" x2="333.00" y2="397.20" stroke="#111" stroke-width="0.9" />
<g clip-path="url(#cp21)">
<ellipse cx="307.00" cy="364.00" rx="10.00" ry="11.00" fill="url(#g_pur)" opacity="0.40"/>
<ellipse cx="307.00" cy="364.00" rx="10.00" ry="11.00" fill="url(#g_hal)" filter="url(#spk)" opacity="1.0"/>
<ellipse cx="303.00" cy="382.00" rx="17.00" ry="13.00" fill="url(#g_pur)" opacity="0.40"/>
<ellipse cx="303.00" cy="382.00" rx="17.00" ry="13.00" fill="url(#g_hal)" filter="url(#spk)" opacity="1.0"/>
<g filter="url(#cmap)">
<path d="M317.20,382.50 L317.05,385.19 L316.59,387.22 L315.85,388.93 L314.82,390.37 L313.52,391.50 L311.97,392.33 L310.13,392.83 L307.70,393.00 L305.27,392.83 L303.43,392.33 L301.88,391.50 L300.58,390.37 L299.55,388.93 L298.81,387.22 L298.35,385.19 L298.20,382.50 L298.35,379.81 L298.81,377.78 L299.55,376.07 L300.58,374.63 L301.88,373.50 L303.43,372.67 L305.27,372.17 L307.70,372.00 L310.13,372.17 L311.97,372.67 L313.52,373.50 L314.82,374.63 L315.85,376.07 L316.59,377.78 L317.05,379.81 Z" fill="url(#d50)"/>
<path d="M305.00,382.50 L304.87,384.79 L304.50,386.62 L303.89,388.20 L303.05,389.53 L302.00,390.59 L300.75,391.37 L299.31,391.84 L297.50,392.00 L295.69,391.84 L294.25,391.37 L293.00,390.59 L291.95,389.53 L291.11,388.20 L290.50,386.62 L290.13,384.79 L290.00,382.50 L290.13,380.21 L290.50,378.38 L291.11,376.80 L291.95,375.47 L293.00,374.41 L294.25,373.63 L295.69,373.16 L297.50,373.00 L299.31,373.16 L300.75,373.63 L302.00,374.41 L303.05,375.47 L303.89,376.80 L304.50,378.38 L304.87,380.21 Z" fill="url(#d51)"/>
<path d="M302.60,363.50 L302.51,365.37 L302.26,366.78 L301.84,367.97 L301.27,368.97 L300.55,369.76 L299.68,370.33 L298.66,370.68 L297.30,370.80 L295.94,370.68 L294.92,370.33 L294.05,369.76 L293.33,368.97 L292.76,367.97 L292.34,366.78 L292.09,365.37 L292.00,363.50 L292.09,361.63 L292.34,360.22 L292.76,359.03 L293.33,358.03 L294.05,357.24 L294.92,356.67 L295.94,356.32 L297.30,356.20 L298.66,356.32 L299.68,356.67 L300.55,357.24 L301.27,358.03 L301.84,359.03 L302.26,360.22 L302.51,361.63 Z" fill="url(#d52)"/>
</g>
<rect x="288.90" y="349.20" width="13.40" height="7.20" fill="#fff" />
<rect x="288.90" y="385.80" width="13.40" height="7.40" fill="#fff" />
</g>
<line x1="302.60" y1="346.70" x2="302.60" y2="395.60" stroke="#808080" stroke-width="0.8" />
<line x1="288.40" y1="372.00" x2="338.00" y2="372.00" stroke="#808080" stroke-width="0.8" />
<text x="289.80" y="354.91" font-size="5.3" textLength="9.55" lengthAdjust="spacingAndGlyphs" stroke="#2a2a2a" stroke-width="0.16" >15.7</text>
<text x="317.80" y="354.91" font-size="5.3" textLength="9.55" lengthAdjust="spacingAndGlyphs" stroke="#2a2a2a" stroke-width="0.16" >2.28</text>
<text x="289.80" y="391.71" font-size="5.3" textLength="9.55" lengthAdjust="spacingAndGlyphs" stroke="#2a2a2a" stroke-width="0.16" >36.9</text>
<text x="317.80" y="391.71" font-size="5.3" textLength="9.55" lengthAdjust="spacingAndGlyphs" stroke="#2a2a2a" stroke-width="0.16" >45.1</text>
<rect x="288.40" y="346.70" width="49.60" height="48.90" fill="none" stroke="#1a1a1a" stroke-width="1.1" />
<rect x="372.90" y="346.70" width="49.60" height="48.90" fill="#fff" />
<text x="367.30" y="352.39" font-size="4.7" text-anchor="end" textLength="5.40" lengthAdjust="spacingAndGlyphs" stroke="#2a2a2a" stroke-width="0.16" >10</text>
<text x="367.50" y="350.15" font-size="3.2" textLength="1.70" lengthAdjust="spacingAndGlyphs" stroke="#2a2a2a" stroke-width="0.16" >5</text>
<line x1="371.30" y1="350.70" x2="372.90" y2="350.70" stroke="#111" stroke-width="0.9" />
<text x="367.30" y="362.59" font-size="4.7" text-anchor="end" textLength="5.40" lengthAdjust="spacingAndGlyphs" stroke="#2a2a2a" stroke-width="0.16" >10</text>
<text x="367.50" y="360.35" font-size="3.2" textLength="1.70" lengthAdjust="spacingAndGlyphs" stroke="#2a2a2a" stroke-width="0.16" >4</text>
<line x1="371.30" y1="360.90" x2="372.90" y2="360.90" stroke="#111" stroke-width="0.9" />
<text x="367.30" y="373.89" font-size="4.7" text-anchor="end" textLength="5.40" lengthAdjust="spacingAndGlyphs" stroke="#2a2a2a" stroke-width="0.16" >10</text>
<text x="367.50" y="371.65" font-size="3.2" textLength="1.70" lengthAdjust="spacingAndGlyphs" stroke="#2a2a2a" stroke-width="0.16" >3</text>
<line x1="371.30" y1="372.20" x2="372.90" y2="372.20" stroke="#111" stroke-width="0.9" />
<text x="367.30" y="385.39" font-size="4.7" text-anchor="end" textLength="2.70" lengthAdjust="spacingAndGlyphs" stroke="#2a2a2a" stroke-width="0.16" >0</text>
<line x1="371.30" y1="383.70" x2="372.90" y2="383.70" stroke="#111" stroke-width="0.9" />
<text x="367.30" y="396.39" font-size="4.7" text-anchor="end" textLength="8.00" lengthAdjust="spacingAndGlyphs" stroke="#2a2a2a" stroke-width="0.16" >−10</text>
<text x="367.50" y="394.15" font-size="3.2" textLength="1.70" lengthAdjust="spacingAndGlyphs" stroke="#2a2a2a" stroke-width="0.16" >3</text>
<line x1="371.30" y1="394.70" x2="372.90" y2="394.70" stroke="#111" stroke-width="0.9" />
<text x="376.00" y="403.69" font-size="4.7" text-anchor="middle" textLength="7.20" lengthAdjust="spacingAndGlyphs" stroke="#2a2a2a" stroke-width="0.16" >−10</text>
<text x="379.75" y="401.45" font-size="3.2" textLength="1.70" lengthAdjust="spacingAndGlyphs" stroke="#2a2a2a" stroke-width="0.16" >3</text>
<line x1="376.90" y1="395.60" x2="376.90" y2="397.20" stroke="#111" stroke-width="0.9" />
<text x="387.30" y="403.69" font-size="4.7" text-anchor="middle" textLength="2.70" lengthAdjust="spacingAndGlyphs" stroke="#2a2a2a" stroke-width="0.16" >0</text>
<line x1="387.30" y1="395.60" x2="387.30" y2="397.20" stroke="#111" stroke-width="0.9" />
<text x="396.00" y="403.69" font-size="4.7" text-anchor="middle" textLength="5.00" lengthAdjust="spacingAndGlyphs" stroke="#2a2a2a" stroke-width="0.16" >10</text>
<text x="398.65" y="401.45" font-size="3.2" textLength="1.70" lengthAdjust="spacingAndGlyphs" stroke="#2a2a2a" stroke-width="0.16" >3</text>
<line x1="396.90" y1="395.60" x2="396.90" y2="397.20" stroke="#111" stroke-width="0.9" />
<text x="407.20" y="403.69" font-size="4.7" text-anchor="middle" textLength="5.00" lengthAdjust="spacingAndGlyphs" stroke="#2a2a2a" stroke-width="0.16" >10</text>
<text x="409.85" y="401.45" font-size="3.2" textLength="1.70" lengthAdjust="spacingAndGlyphs" stroke="#2a2a2a" stroke-width="0.16" >4</text>
<line x1="408.10" y1="395.60" x2="408.10" y2="397.20" stroke="#111" stroke-width="0.9" />
<text x="416.60" y="403.69" font-size="4.7" text-anchor="middle" textLength="5.00" lengthAdjust="spacingAndGlyphs" stroke="#2a2a2a" stroke-width="0.16" >10</text>
<text x="419.25" y="401.45" font-size="3.2" textLength="1.70" lengthAdjust="spacingAndGlyphs" stroke="#2a2a2a" stroke-width="0.16" >5</text>
<line x1="417.50" y1="395.60" x2="417.50" y2="397.20" stroke="#111" stroke-width="0.9" />
<g clip-path="url(#cp22)">
<ellipse cx="390.00" cy="376.00" rx="11.00" ry="17.00" fill="url(#g_pur)" opacity="0.36"/>
<ellipse cx="390.00" cy="376.00" rx="11.00" ry="17.00" fill="url(#g_hal)" filter="url(#spk)" opacity="0.9"/>
<g filter="url(#cmap)">
<path d="M403.00,383.50 L402.93,384.92 L402.70,385.89 L402.34,386.68 L401.83,387.33 L401.18,387.84 L400.39,388.20 L399.42,388.43 L398.00,388.50 L396.58,388.43 L395.61,388.20 L394.82,387.84 L394.17,387.33 L393.66,386.68 L393.30,385.89 L393.07,384.92 L393.00,383.50 L393.07,382.08 L393.30,381.11 L393.66,380.32 L394.17,379.67 L394.82,379.16 L395.61,378.80 L396.58,378.57 L398.00,378.50 L399.42,378.57 L400.39,378.80 L401.18,379.16 L401.83,379.67 L402.34,380.32 L402.70,381.11 L402.93,382.08 Z" fill="url(#d53)"/>
<path d="M393.90,383.00 L393.80,384.85 L393.52,386.10 L393.04,387.14 L392.38,387.98 L391.54,388.64 L390.50,389.12 L389.25,389.40 L387.40,389.50 L385.55,389.40 L384.30,389.12 L383.26,388.64 L382.42,387.98 L381.76,387.14 L381.28,386.10 L381.00,384.85 L380.90,383.00 L381.00,381.15 L381.28,379.90 L381.76,378.86 L382.42,378.02 L383.26,377.36 L384.30,376.88 L385.55,376.60 L387.40,376.50 L389.25,376.60 L390.50,376.88 L391.54,377.36 L392.38,378.02 L393.04,378.86 L393.52,379.90 L393.80,381.15 Z" fill="url(#d54)"/>
<path d="M393.40,369.10 L393.31,371.43 L393.04,372.88 L392.60,374.03 L391.97,374.96 L391.17,375.67 L390.17,376.19 L388.92,376.50 L386.90,376.60 L384.88,376.50 L383.63,376.19 L382.63,375.67 L381.83,374.96 L381.20,374.03 L380.76,372.88 L380.49,371.43 L380.40,369.10 L380.49,366.77 L380.76,365.32 L381.20,364.17 L381.83,363.24 L382.63,362.53 L383.63,362.01 L384.88,361.70 L386.90,361.60 L388.92,361.70 L390.17,362.01 L391.17,362.53 L391.97,363.24 L392.60,364.17 L393.04,365.32 L393.31,366.77 Z" fill="url(#d55)"/>
</g>
</g>
<rect x="375.70" y="360.30" width="44.00" height="14.60" fill="none" stroke="#808080" stroke-width="0.8" />
<path d="M394.60,374.90 L394.60,393.50 L402.40,393.50" stroke="#808080" stroke-width="0.8" fill="none" />
<text x="374.40" y="355.61" font-size="5.3" textLength="9.55" lengthAdjust="spacingAndGlyphs" stroke="#2a2a2a" stroke-width="0.16" >55.8</text>
<text x="417.60" y="356.25" font-size="8.2" text-anchor="end" font-weight="bold" fill="#111" textLength="18.40" lengthAdjust="spacingAndGlyphs" stroke="#111" stroke-width="0.3" >D360</text>
<text x="419.50" y="391.61" font-size="5.3" text-anchor="end" textLength="9.55" lengthAdjust="spacingAndGlyphs" stroke="#2a2a2a" stroke-width="0.16" >6.14</text>
<rect x="372.90" y="346.70" width="49.60" height="48.90" fill="none" stroke="#1a1a1a" stroke-width="1.1" />
<rect x="459.40" y="346.70" width="49.60" height="48.90" fill="#fff" />
<text x="453.80" y="352.39" font-size="4.7" text-anchor="end" textLength="5.40" lengthAdjust="spacingAndGlyphs" stroke="#2a2a2a" stroke-width="0.16" >10</text>
<text x="454.00" y="350.15" font-size="3.2" textLength="1.70" lengthAdjust="spacingAndGlyphs" stroke="#2a2a2a" stroke-width="0.16" >5</text>
<line x1="457.80" y1="350.70" x2="459.40" y2="350.70" stroke="#111" stroke-width="0.9" />
<text x="453.80" y="362.59" font-size="4.7" text-anchor="end" textLength="5.40" lengthAdjust="spacingAndGlyphs" stroke="#2a2a2a" stroke-width="0.16" >10</text>
<text x="454.00" y="360.35" font-size="3.2" textLength="1.70" lengthAdjust="spacingAndGlyphs" stroke="#2a2a2a" stroke-width="0.16" >4</text>
<line x1="457.80" y1="360.90" x2="459.40" y2="360.90" stroke="#111" stroke-width="0.9" />
<text x="453.80" y="373.89" font-size="4.7" text-anchor="end" textLength="5.40" lengthAdjust="spacingAndGlyphs" stroke="#2a2a2a" stroke-width="0.16" >10</text>
<text x="454.00" y="371.65" font-size="3.2" textLength="1.70" lengthAdjust="spacingAndGlyphs" stroke="#2a2a2a" stroke-width="0.16" >3</text>
<line x1="457.80" y1="372.20" x2="459.40" y2="372.20" stroke="#111" stroke-width="0.9" />
<text x="453.80" y="385.39" font-size="4.7" text-anchor="end" textLength="2.70" lengthAdjust="spacingAndGlyphs" stroke="#2a2a2a" stroke-width="0.16" >0</text>
<line x1="457.80" y1="383.70" x2="459.40" y2="383.70" stroke="#111" stroke-width="0.9" />
<text x="453.80" y="396.39" font-size="4.7" text-anchor="end" textLength="8.00" lengthAdjust="spacingAndGlyphs" stroke="#2a2a2a" stroke-width="0.16" >−10</text>
<text x="454.00" y="394.15" font-size="3.2" textLength="1.70" lengthAdjust="spacingAndGlyphs" stroke="#2a2a2a" stroke-width="0.16" >3</text>
<line x1="457.80" y1="394.70" x2="459.40" y2="394.70" stroke="#111" stroke-width="0.9" />
<text x="462.50" y="403.69" font-size="4.7" text-anchor="middle" textLength="7.20" lengthAdjust="spacingAndGlyphs" stroke="#2a2a2a" stroke-width="0.16" >−10</text>
<text x="466.25" y="401.45" font-size="3.2" textLength="1.70" lengthAdjust="spacingAndGlyphs" stroke="#2a2a2a" stroke-width="0.16" >3</text>
<line x1="463.40" y1="395.60" x2="463.40" y2="397.20" stroke="#111" stroke-width="0.9" />
<text x="473.80" y="403.69" font-size="4.7" text-anchor="middle" textLength="2.70" lengthAdjust="spacingAndGlyphs" stroke="#2a2a2a" stroke-width="0.16" >0</text>
<line x1="473.80" y1="395.60" x2="473.80" y2="397.20" stroke="#111" stroke-width="0.9" />
<text x="482.50" y="403.69" font-size="4.7" text-anchor="middle" textLength="5.00" lengthAdjust="spacingAndGlyphs" stroke="#2a2a2a" stroke-width="0.16" >10</text>
<text x="485.15" y="401.45" font-size="3.2" textLength="1.70" lengthAdjust="spacingAndGlyphs" stroke="#2a2a2a" stroke-width="0.16" >3</text>
<line x1="483.40" y1="395.60" x2="483.40" y2="397.20" stroke="#111" stroke-width="0.9" />
<text x="493.70" y="403.69" font-size="4.7" text-anchor="middle" textLength="5.00" lengthAdjust="spacingAndGlyphs" stroke="#2a2a2a" stroke-width="0.16" >10</text>
<text x="496.35" y="401.45" font-size="3.2" textLength="1.70" lengthAdjust="spacingAndGlyphs" stroke="#2a2a2a" stroke-width="0.16" >4</text>
<line x1="494.60" y1="395.60" x2="494.60" y2="397.20" stroke="#111" stroke-width="0.9" />
<text x="503.10" y="403.69" font-size="4.7" text-anchor="middle" textLength="5.00" lengthAdjust="spacingAndGlyphs" stroke="#2a2a2a" stroke-width="0.16" >10</text>
<text x="505.75" y="401.45" font-size="3.2" textLength="1.70" lengthAdjust="spacingAndGlyphs" stroke="#2a2a2a" stroke-width="0.16" >5</text>
<line x1="504.00" y1="395.60" x2="504.00" y2="397.20" stroke="#111" stroke-width="0.9" />
<g clip-path="url(#cp23)">
<ellipse cx="482.00" cy="362.00" rx="6.00" ry="7.00" fill="url(#g_pur)" opacity="0.40"/>
<ellipse cx="482.00" cy="362.00" rx="6.00" ry="7.00" fill="url(#g_hal)" filter="url(#spk)" opacity="1.0"/>
<ellipse cx="474.00" cy="375.00" rx="4.00" ry="8.00" fill="url(#g_pur)" opacity="0.32"/>
<ellipse cx="474.00" cy="375.00" rx="4.00" ry="8.00" fill="url(#g_hal)" filter="url(#spk)" opacity="0.8"/>
<ellipse cx="478.00" cy="384.00" rx="14.00" ry="4.50" fill="url(#g_pur)" opacity="0.40"/>
<ellipse cx="478.00" cy="384.00" rx="14.00" ry="4.50" fill="url(#g_hal)" filter="url(#spk)" opacity="1.0"/>
<g filter="url(#cmap)">
<path d="M468.70,381.90 L489.20,381.50 A1.50,1.50 0 0 1 489.20,384.50 L468.70,384.90 A1.50,1.50 0 0 1 468.70,381.90 Z" fill="url(#l56)"/>
<path d="M473.30,384.10 L486.50,384.10 A1.30,1.30 0 0 1 486.50,386.70 L473.30,386.70 A1.30,1.30 0 0 1 473.30,384.10 Z" fill="url(#l57)"/>
<path d="M469.0,358.0 Q469.0,355.0 473.0,355.5 L479.5,355.0 Q480.5,362.0 478.0,368.0 Q476.5,372.0 474.0,372.0 Q471.0,370.0 470.0,365.0 Z" fill="url(#d58)"/>
</g>
</g>
<line x1="479.80" y1="346.70" x2="479.80" y2="395.60" stroke="#808080" stroke-width="0.8" />
<line x1="459.40" y1="372.00" x2="509.00" y2="372.00" stroke="#808080" stroke-width="0.8" />
<text x="460.80" y="354.91" font-size="5.3" textLength="9.55" lengthAdjust="spacingAndGlyphs" stroke="#2a2a2a" stroke-width="0.16" >26.3</text>
<text x="488.80" y="354.91" font-size="5.3" textLength="9.55" lengthAdjust="spacingAndGlyphs" stroke="#2a2a2a" stroke-width="0.16" >1.14</text>
<text x="460.80" y="391.71" font-size="5.3" textLength="9.55" lengthAdjust="spacingAndGlyphs" stroke="#2a2a2a" stroke-width="0.16" >40.8</text>
<text x="488.80" y="391.71" font-size="5.3" textLength="9.55" lengthAdjust="spacingAndGlyphs" stroke="#2a2a2a" stroke-width="0.16" >31.7</text>
<rect x="459.40" y="346.70" width="49.60" height="48.90" fill="none" stroke="#1a1a1a" stroke-width="1.1" />
<line x1="16.80" y1="409.80" x2="16.80" y2="376.30" stroke="#111" stroke-width="1.3" />
<line x1="16.15" y1="409.80" x2="53.50" y2="409.80" stroke="#111" stroke-width="1.3" />
<path d="M16.80,371.80 L19.30,377.40 L16.80,376.20 L14.30,377.40 Z" stroke="none" stroke-width="0" fill="#111" />
<path d="M58.00,409.80 L52.40,407.30 L53.60,409.80 L52.40,412.30 Z" stroke="none" stroke-width="0" fill="#111" />
<text x="10.40" y="392.23" font-size="6.2" text-anchor="middle" fill="#1a1a1a" textLength="9.00" lengthAdjust="spacingAndGlyphs" transform="rotate(-90 10.40 390.00)" stroke="#1a1a1a" stroke-width="0.3" >CD3</text>
<text x="23.90" y="418.43" font-size="6.2" fill="#1a1a1a" textLength="16.20" lengthAdjust="spacingAndGlyphs" stroke="#1a1a1a" stroke-width="0.3" >NKG2C</text>
<line x1="96.30" y1="409.80" x2="96.30" y2="376.30" stroke="#111" stroke-width="1.3" />
<line x1="95.65" y1="409.80" x2="141.00" y2="409.80" stroke="#111" stroke-width="1.3" />
<path d="M96.30,371.80 L98.80,377.40 L96.30,376.20 L93.80,377.40 Z" stroke="none" stroke-width="0" fill="#111" />
<path d="M145.50,409.80 L139.90,407.30 L141.10,409.80 L139.90,412.30 Z" stroke="none" stroke-width="0" fill="#111" />
<text x="91.30" y="392.23" font-size="6.2" text-anchor="middle" fill="#1a1a1a" textLength="14.00" lengthAdjust="spacingAndGlyphs" transform="rotate(-90 91.30 390.00)" stroke="#1a1a1a" stroke-width="0.3" >NKG2A</text>
<text x="110.50" y="418.43" font-size="6.2" fill="#1a1a1a" textLength="16.20" lengthAdjust="spacingAndGlyphs" stroke="#1a1a1a" stroke-width="0.3" >NKG2C</text>
<line x1="185.60" y1="409.80" x2="185.60" y2="376.30" stroke="#111" stroke-width="1.3" />
<line x1="184.95" y1="409.80" x2="226.80" y2="409.80" stroke="#111" stroke-width="1.3" />
<path d="M185.60,371.80 L188.10,377.40 L185.60,376.20 L183.10,377.40 Z" stroke="none" stroke-width="0" fill="#111" />
<path d="M231.30,409.80 L225.70,407.30 L226.90,409.80 L225.70,412.30 Z" stroke="none" stroke-width="0" fill="#111" />
<text x="178.10" y="392.23" font-size="6.2" text-anchor="middle" fill="#1a1a1a" textLength="9.00" lengthAdjust="spacingAndGlyphs" transform="rotate(-90 178.10 390.00)" stroke="#1a1a1a" stroke-width="0.3" >CD3</text>
<text x="196.20" y="418.43" font-size="6.2" fill="#1a1a1a" textLength="16.20" lengthAdjust="spacingAndGlyphs" stroke="#1a1a1a" stroke-width="0.3" >NKG2C</text>
<line x1="268.80" y1="409.80" x2="268.80" y2="376.30" stroke="#111" stroke-width="1.3" />
<line x1="268.15" y1="409.80" x2="315.00" y2="409.80" stroke="#111" stroke-width="1.3" />
<path d="M268.80,371.80 L271.30,377.40 L268.80,376.20 L266.30,377.40 Z" stroke="none" stroke-width="0" fill="#111" />
<path d="M319.50,409.80 L313.90,407.30 L315.10,409.80 L313.90,412.30 Z" stroke="none" stroke-width="0" fill="#111" />
<text x="263.80" y="392.23" font-size="6.2" text-anchor="middle" fill="#1a1a1a" textLength="14.00" lengthAdjust="spacingAndGlyphs" transform="rotate(-90 263.80 390.00)" stroke="#1a1a1a" stroke-width="0.3" >NKG2A</text>
<text x="286.30" y="418.43" font-size="6.2" fill="#1a1a1a" textLength="16.20" lengthAdjust="spacingAndGlyphs" stroke="#1a1a1a" stroke-width="0.3" >NKG2C</text>
<line x1="354.50" y1="409.80" x2="354.50" y2="376.30" stroke="#111" stroke-width="1.3" />
<line x1="353.85" y1="409.80" x2="401.30" y2="409.80" stroke="#111" stroke-width="1.3" />
<path d="M354.50,371.80 L357.00,377.40 L354.50,376.20 L352.00,377.40 Z" stroke="none" stroke-width="0" fill="#111" />
<path d="M405.80,409.80 L400.20,407.30 L401.40,409.80 L400.20,412.30 Z" stroke="none" stroke-width="0" fill="#111" />
<text x="347.60" y="392.23" font-size="6.2" text-anchor="middle" fill="#1a1a1a" textLength="9.00" lengthAdjust="spacingAndGlyphs" transform="rotate(-90 347.60 390.00)" stroke="#1a1a1a" stroke-width="0.3" >CD3</text>
<text x="367.70" y="418.43" font-size="6.2" fill="#1a1a1a" textLength="16.20" lengthAdjust="spacingAndGlyphs" stroke="#1a1a1a" stroke-width="0.3" >NKG2C</text>
<line x1="442.10" y1="409.80" x2="442.10" y2="376.30" stroke="#111" stroke-width="1.3" />
<line x1="441.45" y1="409.80" x2="487.80" y2="409.80" stroke="#111" stroke-width="1.3" />
<path d="M442.10,371.80 L444.60,377.40 L442.10,376.20 L439.60,377.40 Z" stroke="none" stroke-width="0" fill="#111" />
<path d="M492.30,409.80 L486.70,407.30 L487.90,409.80 L486.70,412.30 Z" stroke="none" stroke-width="0" fill="#111" />
<text x="437.60" y="392.23" font-size="6.2" text-anchor="middle" fill="#1a1a1a" textLength="14.00" lengthAdjust="spacingAndGlyphs" transform="rotate(-90 437.60 390.00)" stroke="#1a1a1a" stroke-width="0.3" >NKG2A</text>
<text x="460.50" y="418.43" font-size="6.2" fill="#1a1a1a" textLength="16.20" lengthAdjust="spacingAndGlyphs" stroke="#1a1a1a" stroke-width="0.3" >NKG2C</text>
<text x="6.80" y="438.79" font-size="10.8" font-weight="bold" fill="#111" stroke="#111" stroke-width="0.3" >D</text>
<text x="78.80" y="439.51" font-size="7.8" text-anchor="middle" fill="#222" textLength="32.30" lengthAdjust="spacingAndGlyphs" stroke="#222" stroke-width="0.05" >NKG2C<tspan font-size="4.8" dy="-2.6">+</tspan></text>
<line x1="34.60" y1="448.80" x2="34.60" y2="496.00" stroke="#222" stroke-width="1.2" />
<line x1="32.00" y1="495.30" x2="34.60" y2="495.30" stroke="#222" stroke-width="0.9" />
<text x="29.20" y="497.28" font-size="5.5" text-anchor="end" fill="#333" textLength="3.50" lengthAdjust="spacingAndGlyphs" stroke="#333" stroke-width="0.16" >0</text>
<line x1="32.00" y1="486.12" x2="34.60" y2="486.12" stroke="#222" stroke-width="0.9" />
<text x="29.20" y="488.10" font-size="5.5" text-anchor="end" fill="#333" textLength="7.00" lengthAdjust="spacingAndGlyphs" stroke="#333" stroke-width="0.16" >20</text>
<line x1="32.00" y1="476.94" x2="34.60" y2="476.94" stroke="#222" stroke-width="0.9" />
<text x="29.20" y="478.92" font-size="5.5" text-anchor="end" fill="#333" textLength="7.00" lengthAdjust="spacingAndGlyphs" stroke="#333" stroke-width="0.16" >40</text>
<line x1="32.00" y1="467.76" x2="34.60" y2="467.76" stroke="#222" stroke-width="0.9" />
<text x="29.20" y="469.74" font-size="5.5" text-anchor="end" fill="#333" textLength="7.00" lengthAdjust="spacingAndGlyphs" stroke="#333" stroke-width="0.16" >60</text>
<line x1="32.00" y1="458.58" x2="34.60" y2="458.58" stroke="#222" stroke-width="0.9" />
<text x="29.20" y="460.56" font-size="5.5" text-anchor="end" fill="#333" textLength="7.00" lengthAdjust="spacingAndGlyphs" stroke="#333" stroke-width="0.16" >80</text>
<line x1="32.00" y1="449.40" x2="34.60" y2="449.40" stroke="#222" stroke-width="0.9" />
<text x="29.20" y="451.38" font-size="5.5" text-anchor="end" fill="#333" textLength="10.50" lengthAdjust="spacingAndGlyphs" stroke="#333" stroke-width="0.16" >100</text>
<line x1="34.00" y1="495.40" x2="42.30" y2="495.40" stroke="#222" stroke-width="1.2" />
<line x1="45.70" y1="495.40" x2="118.50" y2="495.40" stroke="#222" stroke-width="1.2" />
<text x="11.60" y="473.55" font-size="6.8" text-anchor="middle" fill="#1a1a1a" textLength="46.00" lengthAdjust="spacingAndGlyphs" transform="rotate(-90 11.60 471.10)" stroke="#1a1a1a" stroke-width="0.16" >% of total NK cells</text>
<line x1="39.50" y1="495.40" x2="39.50" y2="497.60" stroke="#222" stroke-width="0.8" />
<line x1="46.40" y1="495.40" x2="46.40" y2="497.60" stroke="#222" stroke-width="0.8" />
<line x1="59.80" y1="495.40" x2="59.80" y2="497.60" stroke="#222" stroke-width="0.8" />
<line x1="73.30" y1="495.40" x2="73.30" y2="497.60" stroke="#222" stroke-width="0.8" />
<line x1="86.20" y1="495.40" x2="86.20" y2="497.60" stroke="#222" stroke-width="0.8" />
<line x1="99.70" y1="495.40" x2="99.70" y2="497.60" stroke="#222" stroke-width="0.8" />
<line x1="113.10" y1="495.40" x2="113.10" y2="497.60" stroke="#222" stroke-width="0.8" />
<line x1="39.50" y1="486.35" x2="39.50" y2="488.42" stroke="#7a0a16" stroke-width="0.8" />
<line x1="38.20" y1="486.35" x2="40.80" y2="486.35" stroke="#7a0a16" stroke-width="0.8" />
<rect x="37.30" y="488.42" width="4.40" height="6.98" fill="#c3102c" stroke="#7a0a16" stroke-width="0.6" />
<circle cx="46.40" cy="495.20" r="0.90" fill="#222" />
<line x1="59.80" y1="494.57" x2="59.80" y2="494.93" stroke="#7a0a16" stroke-width="0.8" />
<line x1="58.50" y1="494.57" x2="61.10" y2="494.57" stroke="#7a0a16" stroke-width="0.8" />
<rect x="57.60" y="494.93" width="4.40" height="0.47" fill="#c3102c" stroke="#7a0a16" stroke-width="0.6" />
<line x1="73.30" y1="485.66" x2="73.30" y2="488.09" stroke="#7a0a16" stroke-width="0.8" />
<line x1="72.00" y1="485.66" x2="74.60" y2="485.66" stroke="#7a0a16" stroke-width="0.8" />
<rect x="71.10" y="488.09" width="4.40" height="7.31" fill="#c3102c" stroke="#7a0a16" stroke-width="0.6" />
<line x1="86.20" y1="478.41" x2="86.20" y2="480.70" stroke="#7a0a16" stroke-width="0.8" />
<line x1="84.90" y1="478.41" x2="87.50" y2="478.41" stroke="#7a0a16" stroke-width="0.8" />
<rect x="84.00" y="480.70" width="4.40" height="14.70" fill="#c3102c" stroke="#7a0a16" stroke-width="0.6" />
<line x1="99.70" y1="477.22" x2="99.70" y2="480.15" stroke="#7a0a16" stroke-width="0.8" />
<line x1="98.40" y1="477.22" x2="101.00" y2="477.22" stroke="#7a0a16" stroke-width="0.8" />
<rect x="97.50" y="480.15" width="4.40" height="15.25" fill="#c3102c" stroke="#7a0a16" stroke-width="0.6" />
<line x1="113.10" y1="472.90" x2="113.10" y2="476.30" stroke="#7a0a16" stroke-width="0.8" />
<line x1="111.80" y1="472.90" x2="114.40" y2="472.90" stroke="#7a0a16" stroke-width="0.8" />
<rect x="110.90" y="476.30" width="4.40" height="19.10" fill="#c3102c" stroke="#7a0a16" stroke-width="0.6" />
<path d="M39.50,458.80 L39.50,456.80 L113.10,456.80 L113.10,458.80" stroke="#444" stroke-width="0.8" fill="none" />
<text x="76.30" y="457.30" font-size="5.0" text-anchor="middle" fill="#333" textLength="9.20" lengthAdjust="spacingAndGlyphs" stroke="#333" stroke-width="0.16" >****</text>
<path d="M73.30,466.20 L73.30,464.20 L113.10,464.20 L113.10,466.20" stroke="#444" stroke-width="0.8" fill="none" />
<text x="93.20" y="464.70" font-size="5.0" text-anchor="middle" fill="#333" textLength="9.20" lengthAdjust="spacingAndGlyphs" stroke="#333" stroke-width="0.16" >****</text>
<path d="M73.30,470.90 L73.30,468.90 L99.70,468.90 L99.70,470.90" stroke="#444" stroke-width="0.8" fill="none" />
<text x="86.50" y="469.40" font-size="5.0" text-anchor="middle" fill="#333" textLength="2.30" lengthAdjust="spacingAndGlyphs" stroke="#333" stroke-width="0.16" >*</text>
<path d="M73.30,475.40 L73.30,473.40 L86.20,473.40 L86.20,475.40" stroke="#444" stroke-width="0.8" fill="none" />
<text x="79.75" y="473.90" font-size="5.0" text-anchor="middle" fill="#333" textLength="2.30" lengthAdjust="spacingAndGlyphs" stroke="#333" stroke-width="0.16" >*</text>
<path d="M59.80,479.20 L59.80,477.20 L73.30,477.20 L73.30,479.20" stroke="#444" stroke-width="0.8" fill="none" />
<text x="66.55" y="477.70" font-size="5.0" text-anchor="middle" fill="#333" textLength="4.60" lengthAdjust="spacingAndGlyphs" stroke="#333" stroke-width="0.16" >**</text>
<text x="46.40" y="506.09" font-size="5.8" text-anchor="middle" fill="#333" textLength="6.90" lengthAdjust="spacingAndGlyphs" stroke="#333" stroke-width="0.16" >T-2</text>
<text x="59.80" y="506.09" font-size="5.8" text-anchor="middle" fill="#333" textLength="6.90" lengthAdjust="spacingAndGlyphs" stroke="#333" stroke-width="0.16" >T-1</text>
<text x="73.30" y="506.09" font-size="5.8" text-anchor="middle" fill="#333" textLength="6.20" lengthAdjust="spacingAndGlyphs" stroke="#333" stroke-width="0.16" >T0</text>
<text x="86.20" y="506.09" font-size="5.8" text-anchor="middle" fill="#333" textLength="6.20" lengthAdjust="spacingAndGlyphs" stroke="#333" stroke-width="0.16" >T1</text>
<text x="99.70" y="506.09" font-size="5.8" text-anchor="middle" fill="#333" textLength="6.20" lengthAdjust="spacingAndGlyphs" stroke="#333" stroke-width="0.16" >T2</text>
<text x="113.10" y="506.09" font-size="5.8" text-anchor="middle" fill="#333" textLength="6.20" lengthAdjust="spacingAndGlyphs" stroke="#333" stroke-width="0.16" >T3</text>
<text x="38.80" y="513.09" font-size="5.8" text-anchor="middle" fill="#333" textLength="20.50" lengthAdjust="spacingAndGlyphs" transform="rotate(-90 38.80 511.00)" stroke="#333" stroke-width="0.16" >Pre-HCT</text>
<line x1="45.20" y1="509.20" x2="61.20" y2="509.20" stroke="#333" stroke-width="0.9" />
<line x1="85.00" y1="509.20" x2="114.80" y2="509.20" stroke="#333" stroke-width="0.9" />
<text x="54.20" y="515.06" font-size="6.0" text-anchor="middle" fill="#333" textLength="10.50" lengthAdjust="spacingAndGlyphs" stroke="#333" stroke-width="0.16" >pre-</text>
<text x="101.00" y="515.06" font-size="6.0" text-anchor="middle" fill="#333" textLength="13.00" lengthAdjust="spacingAndGlyphs" stroke="#333" stroke-width="0.16" >post-</text>
<line x1="73.30" y1="507.50" x2="73.30" y2="510.50" stroke="#444" stroke-width="0.9" />
<text x="73.30" y="521.10" font-size="6.4" text-anchor="middle" fill="#333" textLength="38.00" lengthAdjust="spacingAndGlyphs" stroke="#333" stroke-width="0.16" >T cell recovery</text>
<path d="M39.2,524.0 L114.8,526.8 L114.8,528.5 L39.2,528.5 Z" fill="url(#wedge)"/>
<text x="42.30" y="534.60" font-size="6.4" text-anchor="middle" fill="#333" textLength="3.50" lengthAdjust="spacingAndGlyphs" stroke="#333" stroke-width="0.1" >5</text>
<text x="55.30" y="534.60" font-size="6.4" text-anchor="middle" fill="#333" textLength="3.50" lengthAdjust="spacingAndGlyphs" stroke="#333" stroke-width="0.1" >3</text>
<text x="68.30" y="534.60" font-size="6.4" text-anchor="middle" fill="#333" textLength="3.50" lengthAdjust="spacingAndGlyphs" stroke="#333" stroke-width="0.1" >3</text>
<text x="81.30" y="534.60" font-size="6.4" text-anchor="middle" fill="#333" textLength="3.50" lengthAdjust="spacingAndGlyphs" stroke="#333" stroke-width="0.1" >2</text>
<text x="94.00" y="534.60" font-size="6.4" text-anchor="middle" fill="#333" textLength="3.50" lengthAdjust="spacingAndGlyphs" stroke="#333" stroke-width="0.1" >0</text>
<text x="106.80" y="534.60" font-size="6.4" text-anchor="middle" fill="#333" textLength="3.50" lengthAdjust="spacingAndGlyphs" stroke="#333" stroke-width="0.1" >0</text>
<text x="75.40" y="563.81" font-size="7.8" text-anchor="middle" fill="#222" textLength="31.20" lengthAdjust="spacingAndGlyphs" stroke="#222" stroke-width="0.05" >NKG2A<tspan font-size="4.8" dy="-2.6">+</tspan></text>
<line x1="34.30" y1="575.40" x2="34.30" y2="621.30" stroke="#222" stroke-width="1.2" />
<line x1="31.70" y1="620.60" x2="34.30" y2="620.60" stroke="#222" stroke-width="0.9" />
<text x="28.90" y="622.54" font-size="5.4" text-anchor="end" fill="#333" textLength="3.20" lengthAdjust="spacingAndGlyphs" stroke="#333" stroke-width="0.16" >0</text>
<line x1="31.70" y1="611.68" x2="34.30" y2="611.68" stroke="#222" stroke-width="0.9" />
<text x="28.90" y="613.62" font-size="5.4" text-anchor="end" fill="#333" textLength="6.40" lengthAdjust="spacingAndGlyphs" stroke="#333" stroke-width="0.16" >20</text>
<line x1="31.70" y1="602.76" x2="34.30" y2="602.76" stroke="#222" stroke-width="0.9" />
<text x="28.90" y="604.70" font-size="5.4" text-anchor="end" fill="#333" textLength="6.40" lengthAdjust="spacingAndGlyphs" stroke="#333" stroke-width="0.16" >40</text>
<line x1="31.70" y1="593.84" x2="34.30" y2="593.84" stroke="#222" stroke-width="0.9" />
<text x="28.90" y="595.78" font-size="5.4" text-anchor="end" fill="#333" textLength="6.40" lengthAdjust="spacingAndGlyphs" stroke="#333" stroke-width="0.16" >60</text>
<line x1="31.70" y1="584.92" x2="34.30" y2="584.92" stroke="#222" stroke-width="0.9" />
<text x="28.90" y="586.86" font-size="5.4" text-anchor="end" fill="#333" textLength="6.40" lengthAdjust="spacingAndGlyphs" stroke="#333" stroke-width="0.16" >80</text>
<line x1="31.70" y1="576.00" x2="34.30" y2="576.00" stroke="#222" stroke-width="0.9" />
<text x="28.90" y="577.94" font-size="5.4" text-anchor="end" fill="#333" textLength="9.60" lengthAdjust="spacingAndGlyphs" stroke="#333" stroke-width="0.16" >100</text>
<line x1="33.70" y1="620.70" x2="116.00" y2="620.70" stroke="#222" stroke-width="1.2" />
<text x="11.00" y="599.95" font-size="6.8" text-anchor="middle" fill="#1a1a1a" textLength="46.00" lengthAdjust="spacingAndGlyphs" transform="rotate(-90 11.00 597.50)" stroke="#1a1a1a" stroke-width="0.16" >% of total NK cells</text>
<line x1="39.00" y1="620.70" x2="39.00" y2="622.80" stroke="#222" stroke-width="0.8" />
<line x1="45.60" y1="620.70" x2="45.60" y2="622.80" stroke="#222" stroke-width="0.8" />
<line x1="58.60" y1="620.70" x2="58.60" y2="622.80" stroke="#222" stroke-width="0.8" />
<line x1="71.20" y1="620.70" x2="71.20" y2="622.80" stroke="#222" stroke-width="0.8" />
<line x1="84.20" y1="620.70" x2="84.20" y2="622.80" stroke="#222" stroke-width="0.8" />
<line x1="97.50" y1="620.70" x2="97.50" y2="622.80" stroke="#222" stroke-width="0.8" />
<line x1="110.10" y1="620.70" x2="110.10" y2="622.80" stroke="#222" stroke-width="0.8" />
<line x1="39.00" y1="596.69" x2="39.00" y2="598.75" stroke="#7a0a16" stroke-width="0.8" />
<line x1="37.70" y1="596.69" x2="40.30" y2="596.69" stroke="#7a0a16" stroke-width="0.8" />
<rect x="36.80" y="598.75" width="4.40" height="21.95" fill="#c3102c" stroke="#7a0a16" stroke-width="0.6" />
<line x1="45.60" y1="579.70" x2="45.60" y2="580.91" stroke="#7a0a16" stroke-width="0.8" />
<line x1="44.30" y1="579.70" x2="46.90" y2="579.70" stroke="#7a0a16" stroke-width="0.8" />
<rect x="43.40" y="580.91" width="4.40" height="39.79" fill="#c3102c" stroke="#7a0a16" stroke-width="0.6" />
<line x1="58.60" y1="584.92" x2="58.60" y2="588.40" stroke="#7a0a16" stroke-width="0.8" />
<line x1="57.30" y1="584.92" x2="59.90" y2="584.92" stroke="#7a0a16" stroke-width="0.8" />
<rect x="56.40" y="588.40" width="4.40" height="32.30" fill="#c3102c" stroke="#7a0a16" stroke-width="0.6" />
<line x1="71.20" y1="597.41" x2="71.20" y2="600.08" stroke="#7a0a16" stroke-width="0.8" />
<line x1="69.90" y1="597.41" x2="72.50" y2="597.41" stroke="#7a0a16" stroke-width="0.8" />
<rect x="69.00" y="600.08" width="4.40" height="20.62" fill="#c3102c" stroke="#7a0a16" stroke-width="0.6" />
<line x1="84.20" y1="603.38" x2="84.20" y2="606.02" stroke="#7a0a16" stroke-width="0.8" />
<line x1="82.90" y1="603.38" x2="85.50" y2="603.38" stroke="#7a0a16" stroke-width="0.8" />
<rect x="82.00" y="606.02" width="4.40" height="14.68" fill="#c3102c" stroke="#7a0a16" stroke-width="0.6" />
<line x1="97.50" y1="601.29" x2="97.50" y2="604.54" stroke="#7a0a16" stroke-width="0.8" />
<line x1="96.20" y1="601.29" x2="98.80" y2="601.29" stroke="#7a0a16" stroke-width="0.8" />
<rect x="95.30" y="604.54" width="4.40" height="16.16" fill="#c3102c" stroke="#7a0a16" stroke-width="0.6" />
<line x1="110.10" y1="601.87" x2="110.10" y2="605.70" stroke="#7a0a16" stroke-width="0.8" />
<line x1="108.80" y1="601.87" x2="111.40" y2="601.87" stroke="#7a0a16" stroke-width="0.8" />
<rect x="107.90" y="605.70" width="4.40" height="15.00" fill="#c3102c" stroke="#7a0a16" stroke-width="0.6" />
<path d="M39.00,579.90 L39.00,578.30 L45.60,578.30 L45.60,579.90" stroke="#444" stroke-width="0.8" fill="none" />
<text x="42.30" y="578.80" font-size="5.0" text-anchor="middle" fill="#333" textLength="9.20" lengthAdjust="spacingAndGlyphs" stroke="#333" stroke-width="0.16" >****</text>
<path d="M58.60,574.80 L58.60,572.80 L110.10,572.80 L110.10,574.80" stroke="#444" stroke-width="0.8" fill="none" />
<text x="84.35" y="573.30" font-size="5.0" text-anchor="middle" fill="#333" textLength="6.90" lengthAdjust="spacingAndGlyphs" stroke="#333" stroke-width="0.16" >***</text>
<path d="M58.60,578.20 L58.60,576.20 L97.50,576.20 L97.50,578.20" stroke="#444" stroke-width="0.8" fill="none" />
<text x="78.05" y="576.70" font-size="5.0" text-anchor="middle" fill="#333" textLength="6.90" lengthAdjust="spacingAndGlyphs" stroke="#333" stroke-width="0.16" >***</text>
<path d="M58.60,581.30 L58.60,579.30 L84.20,579.30 L84.20,581.30" stroke="#444" stroke-width="0.8" fill="none" />
<text x="71.40" y="579.80" font-size="5.0" text-anchor="middle" fill="#333" textLength="9.20" lengthAdjust="spacingAndGlyphs" stroke="#333" stroke-width="0.16" >****</text>
<path d="M58.60,584.30 L58.60,582.30 L71.20,582.30 L71.20,584.30" stroke="#444" stroke-width="0.8" fill="none" />
<text x="64.90" y="582.80" font-size="5.0" text-anchor="middle" fill="#333" textLength="2.30" lengthAdjust="spacingAndGlyphs" stroke="#333" stroke-width="0.16" >*</text>
<text x="45.60" y="631.49" font-size="5.8" text-anchor="middle" fill="#333" textLength="6.90" lengthAdjust="spacingAndGlyphs" stroke="#333" stroke-width="0.16" >T-2</text>
<text x="58.60" y="631.49" font-size="5.8" text-anchor="middle" fill="#333" textLength="6.90" lengthAdjust="spacingAndGlyphs" stroke="#333" stroke-width="0.16" >T-1</text>
<text x="71.20" y="631.49" font-size="5.8" text-anchor="middle" fill="#333" textLength="6.20" lengthAdjust="spacingAndGlyphs" stroke="#333" stroke-width="0.16" >T0</text>
<text x="84.20" y="631.49" font-size="5.8" text-anchor="middle" fill="#333" textLength="6.20" lengthAdjust="spacingAndGlyphs" stroke="#333" stroke-width="0.16" >T1</text>
<text x="97.50" y="631.49" font-size="5.8" text-anchor="middle" fill="#333" textLength="6.20" lengthAdjust="spacingAndGlyphs" stroke="#333" stroke-width="0.16" >T2</text>
<text x="110.10" y="631.49" font-size="5.8" text-anchor="middle" fill="#333" textLength="6.20" lengthAdjust="spacingAndGlyphs" stroke="#333" stroke-width="0.16" >T3</text>
<text x="38.80" y="638.39" font-size="5.8" text-anchor="middle" fill="#333" textLength="20.50" lengthAdjust="spacingAndGlyphs" transform="rotate(-90 38.80 636.30)" stroke="#333" stroke-width="0.16" >Pre-HCT</text>
<line x1="44.70" y1="633.90" x2="60.80" y2="633.90" stroke="#333" stroke-width="0.9" />
<line x1="82.30" y1="633.90" x2="111.30" y2="633.90" stroke="#333" stroke-width="0.9" />
<text x="54.30" y="640.36" font-size="6.0" text-anchor="middle" fill="#333" textLength="10.50" lengthAdjust="spacingAndGlyphs" stroke="#333" stroke-width="0.16" >pre-</text>
<text x="98.40" y="640.16" font-size="6.0" text-anchor="middle" fill="#333" textLength="13.00" lengthAdjust="spacingAndGlyphs" stroke="#333" stroke-width="0.16" >post-</text>
<line x1="71.20" y1="632.50" x2="71.20" y2="635.50" stroke="#444" stroke-width="0.9" />
<text x="71.50" y="646.30" font-size="6.4" text-anchor="middle" fill="#333" textLength="38.00" lengthAdjust="spacingAndGlyphs" stroke="#333" stroke-width="0.16" >T cell recovery</text>
<path d="M43.0,647.6 L119.0,650.2 L119.0,651.6 L43.0,651.6 Z" fill="url(#wedge)"/>
<text x="46.20" y="658.40" font-size="6.4" text-anchor="middle" fill="#333" textLength="3.50" lengthAdjust="spacingAndGlyphs" stroke="#333" stroke-width="0.1" >5</text>
<text x="58.40" y="658.40" font-size="6.4" text-anchor="middle" fill="#333" textLength="3.50" lengthAdjust="spacingAndGlyphs" stroke="#333" stroke-width="0.1" >3</text>
<text x="71.30" y="658.40" font-size="6.4" text-anchor="middle" fill="#333" textLength="3.50" lengthAdjust="spacingAndGlyphs" stroke="#333" stroke-width="0.1" >3</text>
<text x="84.20" y="658.40" font-size="6.4" text-anchor="middle" fill="#333" textLength="3.50" lengthAdjust="spacingAndGlyphs" stroke="#333" stroke-width="0.1" >2</text>
<text x="97.20" y="658.40" font-size="6.4" text-anchor="middle" fill="#333" textLength="3.50" lengthAdjust="spacingAndGlyphs" stroke="#333" stroke-width="0.1" >0</text>
<text x="109.70" y="658.40" font-size="6.4" text-anchor="middle" fill="#333" textLength="3.50" lengthAdjust="spacingAndGlyphs" stroke="#333" stroke-width="0.1" >0</text>
<text x="160.80" y="438.99" font-size="10.8" font-weight="bold" fill="#111" stroke="#111" stroke-width="0.3" >E</text>
<text x="236.80" y="440.01" font-size="7.8" text-anchor="middle" fill="#222" textLength="90.00" lengthAdjust="spacingAndGlyphs" stroke="#222" stroke-width="0.05" >CD56<tspan font-size="4.8" dy="-2.6">+</tspan><tspan dy="2.6">CD16</tspan><tspan font-size="4.8" dy="-2.6">+</tspan><tspan dy="2.6"> / NKG2C</tspan><tspan font-size="4.8" dy="-2.6">+</tspan></text>
<line x1="187.90" y1="443.40" x2="187.90" y2="495.80" stroke="#222" stroke-width="1.2" />
<line x1="185.30" y1="495.00" x2="187.90" y2="495.00" stroke="#222" stroke-width="0.9" />
<text x="182.10" y="496.94" font-size="5.4" text-anchor="end" fill="#333" textLength="3.35" lengthAdjust="spacingAndGlyphs" stroke="#333" stroke-width="0.16" >0</text>
<line x1="185.30" y1="482.35" x2="187.90" y2="482.35" stroke="#222" stroke-width="0.9" />
<text x="182.10" y="484.29" font-size="5.4" text-anchor="end" fill="#333" textLength="10.05" lengthAdjust="spacingAndGlyphs" stroke="#333" stroke-width="0.16" >200</text>
<line x1="185.30" y1="469.70" x2="187.90" y2="469.70" stroke="#222" stroke-width="0.9" />
<text x="182.10" y="471.64" font-size="5.4" text-anchor="end" fill="#333" textLength="10.05" lengthAdjust="spacingAndGlyphs" stroke="#333" stroke-width="0.16" >400</text>
<line x1="185.30" y1="457.05" x2="187.90" y2="457.05" stroke="#222" stroke-width="0.9" />
<text x="182.10" y="458.99" font-size="5.4" text-anchor="end" fill="#333" textLength="10.05" lengthAdjust="spacingAndGlyphs" stroke="#333" stroke-width="0.16" >600</text>
<line x1="185.30" y1="444.40" x2="187.90" y2="444.40" stroke="#222" stroke-width="0.9" />
<text x="182.10" y="446.34" font-size="5.4" text-anchor="end" fill="#333" textLength="10.05" lengthAdjust="spacingAndGlyphs" stroke="#333" stroke-width="0.16" >800</text>
<line x1="188.00" y1="495.40" x2="285.00" y2="495.40" stroke="#222" stroke-width="1.2" />
<text x="163.90" y="471.05" font-size="6.8" text-anchor="middle" fill="#1a1a1a" textLength="22.00" lengthAdjust="spacingAndGlyphs" transform="rotate(-90 163.90 468.60)" stroke="#1a1a1a" stroke-width="0.16" >Cells/mcl</text>
<line x1="196.30" y1="495.40" x2="196.30" y2="497.60" stroke="#222" stroke-width="0.8" />
<line x1="212.20" y1="495.40" x2="212.20" y2="497.60" stroke="#222" stroke-width="0.8" />
<line x1="228.20" y1="495.40" x2="228.20" y2="497.60" stroke="#222" stroke-width="0.8" />
<line x1="244.50" y1="495.40" x2="244.50" y2="497.60" stroke="#222" stroke-width="0.8" />
<line x1="260.80" y1="495.40" x2="260.80" y2="497.60" stroke="#222" stroke-width="0.8" />
<line x1="276.90" y1="495.40" x2="276.90" y2="497.60" stroke="#222" stroke-width="0.8" />
<circle cx="196.30" cy="494.80" r="0.90" fill="#222" />
<circle cx="212.20" cy="494.80" r="0.90" fill="#222" />
<line x1="228.20" y1="483.99" x2="228.20" y2="487.03" stroke="#123a6e" stroke-width="0.8" />
<line x1="226.90" y1="483.99" x2="229.50" y2="483.99" stroke="#123a6e" stroke-width="0.8" />
<rect x="226.10" y="487.03" width="4.20" height="8.37" fill="#1d4f8e" stroke="#123a6e" stroke-width="0.6" />
<line x1="244.50" y1="455.91" x2="244.50" y2="467.49" stroke="#123a6e" stroke-width="0.8" />
<line x1="243.20" y1="455.91" x2="245.80" y2="455.91" stroke="#123a6e" stroke-width="0.8" />
<rect x="242.40" y="467.49" width="4.20" height="27.91" fill="#1d4f8e" stroke="#123a6e" stroke-width="0.6" />
<line x1="260.80" y1="473.81" x2="260.80" y2="479.12" stroke="#123a6e" stroke-width="0.8" />
<line x1="259.50" y1="473.81" x2="262.10" y2="473.81" stroke="#123a6e" stroke-width="0.8" />
<rect x="258.70" y="479.12" width="4.20" height="16.28" fill="#1d4f8e" stroke="#123a6e" stroke-width="0.6" />
<line x1="276.90" y1="472.23" x2="276.90" y2="482.29" stroke="#123a6e" stroke-width="0.8" />
<line x1="275.60" y1="472.23" x2="278.20" y2="472.23" stroke="#123a6e" stroke-width="0.8" />
<rect x="274.80" y="482.29" width="4.20" height="13.11" fill="#1d4f8e" stroke="#123a6e" stroke-width="0.6" />
<path d="M196.30,448.90 L196.30,446.90 L244.50,446.90 L244.50,448.90" stroke="#444" stroke-width="0.8" fill="none" />
<text x="220.40" y="447.40" font-size="5.0" text-anchor="middle" fill="#333" textLength="6.90" lengthAdjust="spacingAndGlyphs" stroke="#333" stroke-width="0.16" >***</text>
<path d="M228.20,454.70 L228.20,452.70 L244.50,452.70 L244.50,454.70" stroke="#444" stroke-width="0.8" fill="none" />
<text x="236.35" y="453.20" font-size="5.0" text-anchor="middle" fill="#333" textLength="2.30" lengthAdjust="spacingAndGlyphs" stroke="#333" stroke-width="0.16" >*</text>
<text x="196.30" y="506.89" font-size="5.8" text-anchor="middle" fill="#333" textLength="7.20" lengthAdjust="spacingAndGlyphs" stroke="#333" stroke-width="0.16" >T-2</text>
<text x="212.20" y="506.89" font-size="5.8" text-anchor="middle" fill="#333" textLength="7.20" lengthAdjust="spacingAndGlyphs" stroke="#333" stroke-width="0.16" >T-1</text>
<text x="228.20" y="506.89" font-size="5.8" text-anchor="middle" fill="#333" textLength="6.60" lengthAdjust="spacingAndGlyphs" stroke="#333" stroke-width="0.16" >T0</text>
<text x="244.50" y="506.89" font-size="5.8" text-anchor="middle" fill="#333" textLength="6.60" lengthAdjust="spacingAndGlyphs" stroke="#333" stroke-width="0.16" >T1</text>
<text x="260.80" y="506.89" font-size="5.8" text-anchor="middle" fill="#333" textLength="6.60" lengthAdjust="spacingAndGlyphs" stroke="#333" stroke-width="0.16" >T2</text>
<text x="276.90" y="506.89" font-size="5.8" text-anchor="middle" fill="#333" textLength="6.60" lengthAdjust="spacingAndGlyphs" stroke="#333" stroke-width="0.16" >T3</text>
<line x1="189.50" y1="510.20" x2="222.30" y2="510.20" stroke="#333" stroke-width="0.9" />
<line x1="239.90" y1="509.80" x2="282.60" y2="509.80" stroke="#333" stroke-width="0.9" />
<text x="205.40" y="516.59" font-size="5.8" text-anchor="middle" fill="#333" textLength="10.00" lengthAdjust="spacingAndGlyphs" stroke="#333" stroke-width="0.16" >pre-</text>
<text x="260.40" y="516.09" font-size="5.8" text-anchor="middle" fill="#333" textLength="12.50" lengthAdjust="spacingAndGlyphs" stroke="#333" stroke-width="0.16" >post-</text>
<line x1="228.20" y1="508.30" x2="228.20" y2="511.30" stroke="#444" stroke-width="0.9" />
<text x="230.80" y="519.83" font-size="6.2" text-anchor="middle" fill="#333" textLength="37.00" lengthAdjust="spacingAndGlyphs" stroke="#333" stroke-width="0.16" >T cell recovery</text>
<text x="243.70" y="538.71" font-size="7.8" text-anchor="middle" fill="#222" textLength="86.50" lengthAdjust="spacingAndGlyphs" stroke="#222" stroke-width="0.05" >CD56<tspan font-size="4.8" dy="-2.6">+</tspan><tspan dy="2.6">CD16</tspan><tspan font-size="4.8" dy="-2.6">+</tspan><tspan dy="2.6"> / NKG2A</tspan><tspan font-size="4.8" dy="-2.6">+</tspan></text>
<line x1="188.80" y1="558.60" x2="188.80" y2="621.60" stroke="#222" stroke-width="1.2" />
<line x1="186.20" y1="620.90" x2="188.80" y2="620.90" stroke="#222" stroke-width="0.9" />
<text x="182.60" y="622.84" font-size="5.4" text-anchor="end" fill="#333" textLength="3.30" lengthAdjust="spacingAndGlyphs" stroke="#333" stroke-width="0.16" >0</text>
<line x1="186.20" y1="605.52" x2="188.80" y2="605.52" stroke="#222" stroke-width="0.9" />
<text x="182.60" y="607.46" font-size="5.4" text-anchor="end" fill="#333" textLength="9.90" lengthAdjust="spacingAndGlyphs" stroke="#333" stroke-width="0.16" >200</text>
<line x1="186.20" y1="590.14" x2="188.80" y2="590.14" stroke="#222" stroke-width="0.9" />
<text x="182.60" y="592.08" font-size="5.4" text-anchor="end" fill="#333" textLength="9.90" lengthAdjust="spacingAndGlyphs" stroke="#333" stroke-width="0.16" >400</text>
<line x1="186.20" y1="574.76" x2="188.80" y2="574.76" stroke="#222" stroke-width="0.9" />
<text x="182.60" y="576.70" font-size="5.4" text-anchor="end" fill="#333" textLength="9.90" lengthAdjust="spacingAndGlyphs" stroke="#333" stroke-width="0.16" >600</text>
<line x1="186.20" y1="559.38" x2="188.80" y2="559.38" stroke="#222" stroke-width="0.9" />
<text x="182.60" y="561.32" font-size="5.4" text-anchor="end" fill="#333" textLength="9.90" lengthAdjust="spacingAndGlyphs" stroke="#333" stroke-width="0.16" >800</text>
<line x1="188.20" y1="620.90" x2="301.00" y2="620.90" stroke="#222" stroke-width="1.2" />
<text x="165.80" y="594.45" font-size="6.8" text-anchor="middle" fill="#1a1a1a" textLength="23.00" lengthAdjust="spacingAndGlyphs" transform="rotate(-90 165.80 592.00)" stroke="#1a1a1a" stroke-width="0.16" >Cells/mcl</text>
<line x1="197.50" y1="620.90" x2="197.50" y2="623.10" stroke="#222" stroke-width="0.8" />
<line x1="217.10" y1="620.90" x2="217.10" y2="623.10" stroke="#222" stroke-width="0.8" />
<line x1="236.40" y1="620.90" x2="236.40" y2="623.10" stroke="#222" stroke-width="0.8" />
<line x1="255.20" y1="620.90" x2="255.20" y2="623.10" stroke="#222" stroke-width="0.8" />
<line x1="274.80" y1="620.90" x2="274.80" y2="623.10" stroke="#222" stroke-width="0.8" />
<line x1="294.10" y1="620.90" x2="294.10" y2="623.10" stroke="#222" stroke-width="0.8" />
<line x1="197.50" y1="563.99" x2="197.50" y2="573.84" stroke="#123a6e" stroke-width="0.8" />
<line x1="196.20" y1="563.99" x2="198.80" y2="563.99" stroke="#123a6e" stroke-width="0.8" />
<rect x="195.00" y="573.84" width="5.00" height="47.06" fill="#1d4f8e" stroke="#123a6e" stroke-width="0.6" />
<line x1="217.10" y1="577.84" x2="217.10" y2="578.61" stroke="#123a6e" stroke-width="0.8" />
<line x1="215.80" y1="577.84" x2="218.40" y2="577.84" stroke="#123a6e" stroke-width="0.8" />
<rect x="214.60" y="578.61" width="5.00" height="42.29" fill="#1d4f8e" stroke="#123a6e" stroke-width="0.6" />
<line x1="236.40" y1="602.98" x2="236.40" y2="605.90" stroke="#123a6e" stroke-width="0.8" />
<line x1="235.10" y1="602.98" x2="237.70" y2="602.98" stroke="#123a6e" stroke-width="0.8" />
<rect x="233.90" y="605.90" width="5.00" height="15.00" fill="#1d4f8e" stroke="#123a6e" stroke-width="0.6" />
<line x1="255.20" y1="602.98" x2="255.20" y2="605.90" stroke="#123a6e" stroke-width="0.8" />
<line x1="253.90" y1="602.98" x2="256.50" y2="602.98" stroke="#123a6e" stroke-width="0.8" />
<rect x="252.70" y="605.90" width="5.00" height="15.00" fill="#1d4f8e" stroke="#123a6e" stroke-width="0.6" />
<line x1="274.80" y1="606.60" x2="274.80" y2="608.75" stroke="#123a6e" stroke-width="0.8" />
<line x1="273.50" y1="606.60" x2="276.10" y2="606.60" stroke="#123a6e" stroke-width="0.8" />
<rect x="272.30" y="608.75" width="5.00" height="12.15" fill="#1d4f8e" stroke="#123a6e" stroke-width="0.6" />
<line x1="294.10" y1="610.90" x2="294.10" y2="613.21" stroke="#123a6e" stroke-width="0.8" />
<line x1="292.80" y1="610.90" x2="295.40" y2="610.90" stroke="#123a6e" stroke-width="0.8" />
<rect x="291.60" y="613.21" width="5.00" height="7.69" fill="#1d4f8e" stroke="#123a6e" stroke-width="0.6" />
<path d="M197.50,548.80 L197.50,546.80 L295.30,546.80 L295.30,548.80" stroke="#444" stroke-width="0.8" fill="none" />
<text x="246.40" y="547.30" font-size="5.0" text-anchor="middle" fill="#333" textLength="6.90" lengthAdjust="spacingAndGlyphs" stroke="#333" stroke-width="0.16" >***</text>
<path d="M197.50,553.50 L197.50,551.50 L268.10,551.50 L268.10,553.50" stroke="#444" stroke-width="0.8" fill="none" />
<text x="232.80" y="552.00" font-size="5.0" text-anchor="middle" fill="#333" textLength="4.60" lengthAdjust="spacingAndGlyphs" stroke="#333" stroke-width="0.16" >**</text>
<path d="M197.50,557.80 L197.50,555.80 L251.50,555.80 L251.50,557.80" stroke="#444" stroke-width="0.8" fill="none" />
<text x="224.50" y="556.30" font-size="5.0" text-anchor="middle" fill="#333" textLength="6.90" lengthAdjust="spacingAndGlyphs" stroke="#333" stroke-width="0.16" >***</text>
<path d="M197.50,562.60 L197.50,560.60 L232.30,560.60 L232.30,562.60" stroke="#444" stroke-width="0.8" fill="none" />
<text x="214.90" y="561.10" font-size="5.0" text-anchor="middle" fill="#333" textLength="6.90" lengthAdjust="spacingAndGlyphs" stroke="#333" stroke-width="0.16" >***</text>
<text x="197.50" y="630.69" font-size="5.8" text-anchor="middle" fill="#333" textLength="7.20" lengthAdjust="spacingAndGlyphs" stroke="#333" stroke-width="0.16" >T-2</text>
<text x="217.10" y="630.69" font-size="5.8" text-anchor="middle" fill="#333" textLength="7.20" lengthAdjust="spacingAndGlyphs" stroke="#333" stroke-width="0.16" >T-1</text>
<text x="236.40" y="630.69" font-size="5.8" text-anchor="middle" fill="#333" textLength="6.60" lengthAdjust="spacingAndGlyphs" stroke="#333" stroke-width="0.16" >T0</text>
<text x="255.20" y="630.69" font-size="5.8" text-anchor="middle" fill="#333" textLength="6.60" lengthAdjust="spacingAndGlyphs" stroke="#333" stroke-width="0.16" >T1</text>
<text x="274.80" y="630.69" font-size="5.8" text-anchor="middle" fill="#333" textLength="6.60" lengthAdjust="spacingAndGlyphs" stroke="#333" stroke-width="0.16" >T2</text>
<text x="294.10" y="630.69" font-size="5.8" text-anchor="middle" fill="#333" textLength="6.60" lengthAdjust="spacingAndGlyphs" stroke="#333" stroke-width="0.16" >T3</text>
<line x1="188.80" y1="634.40" x2="224.90" y2="634.40" stroke="#333" stroke-width="0.9" />
<line x1="248.00" y1="634.40" x2="299.90" y2="634.40" stroke="#333" stroke-width="0.9" />
<text x="207.60" y="641.09" font-size="5.8" text-anchor="middle" fill="#333" textLength="10.00" lengthAdjust="spacingAndGlyphs" stroke="#333" stroke-width="0.16" >pre-</text>
<text x="274.80" y="641.09" font-size="5.8" text-anchor="middle" fill="#333" textLength="12.50" lengthAdjust="spacingAndGlyphs" stroke="#333" stroke-width="0.16" >post-</text>
<line x1="236.40" y1="632.60" x2="236.40" y2="635.60" stroke="#444" stroke-width="0.9" />
<text x="239.30" y="646.23" font-size="6.2" text-anchor="middle" fill="#333" textLength="37.00" lengthAdjust="spacingAndGlyphs" stroke="#333" stroke-width="0.16" >T cell recovery</text>
<text x="344.40" y="440.29" font-size="10.8" font-weight="bold" fill="#111" stroke="#111" stroke-width="0.3" >F</text>
<line x1="376.00" y1="436.50" x2="376.00" y2="516.00" stroke="#222" stroke-width="1.2" />
<line x1="373.20" y1="515.40" x2="376.00" y2="515.40" stroke="#222" stroke-width="0.9" />
<text x="369.60" y="517.34" font-size="5.4" text-anchor="end" fill="#333" textLength="3.30" lengthAdjust="spacingAndGlyphs" stroke="#333" stroke-width="0.16" >0</text>
<line x1="373.20" y1="502.35" x2="376.00" y2="502.35" stroke="#222" stroke-width="0.9" />
<text x="369.60" y="504.29" font-size="5.4" text-anchor="end" fill="#333" textLength="9.90" lengthAdjust="spacingAndGlyphs" stroke="#333" stroke-width="0.16" >500</text>
<line x1="373.20" y1="489.30" x2="376.00" y2="489.30" stroke="#222" stroke-width="0.9" />
<text x="369.60" y="491.24" font-size="5.4" text-anchor="end" fill="#333" textLength="13.20" lengthAdjust="spacingAndGlyphs" stroke="#333" stroke-width="0.16" >1000</text>
<line x1="373.20" y1="476.25" x2="376.00" y2="476.25" stroke="#222" stroke-width="0.9" />
<text x="369.60" y="478.19" font-size="5.4" text-anchor="end" fill="#333" textLength="13.20" lengthAdjust="spacingAndGlyphs" stroke="#333" stroke-width="0.16" >1500</text>
<line x1="373.20" y1="463.20" x2="376.00" y2="463.20" stroke="#222" stroke-width="0.9" />
<text x="369.60" y="465.14" font-size="5.4" text-anchor="end" fill="#333" textLength="13.20" lengthAdjust="spacingAndGlyphs" stroke="#333" stroke-width="0.16" >2000</text>
<line x1="373.20" y1="450.15" x2="376.00" y2="450.15" stroke="#222" stroke-width="0.9" />
<text x="369.60" y="452.09" font-size="5.4" text-anchor="end" fill="#333" textLength="13.20" lengthAdjust="spacingAndGlyphs" stroke="#333" stroke-width="0.16" >2500</text>
<line x1="373.20" y1="437.10" x2="376.00" y2="437.10" stroke="#222" stroke-width="0.9" />
<text x="369.60" y="439.04" font-size="5.4" text-anchor="end" fill="#333" textLength="13.20" lengthAdjust="spacingAndGlyphs" stroke="#333" stroke-width="0.16" >3000</text>
<line x1="375.40" y1="515.40" x2="414.70" y2="515.40" stroke="#222" stroke-width="1.2" />
<line x1="395.80" y1="515.40" x2="395.80" y2="517.60" stroke="#222" stroke-width="0.8" />
<text x="395.80" y="526.78" font-size="6.6" text-anchor="middle" fill="#333" textLength="12.00" lengthAdjust="spacingAndGlyphs" stroke="#333" stroke-width="0.16" >CD3</text>
<text x="348.70" y="477.25" font-size="6.8" text-anchor="middle" fill="#1a1a1a" textLength="22.80" lengthAdjust="spacingAndGlyphs" transform="rotate(-90 348.70 474.80)" stroke="#1a1a1a" stroke-width="0.16" >Cells/mcl</text>
<line x1="387.50" y1="498.96" x2="387.50" y2="506.26" stroke="#4a6a9e" stroke-width="1.1" />
<line x1="387.50" y1="512.01" x2="387.50" y2="515.27" stroke="#4a6a9e" stroke-width="1.1" />
<line x1="385.90" y1="498.96" x2="389.10" y2="498.96" stroke="#2c4f86" stroke-width="1.1" />
<rect x="381.90" y="506.26" width="11.20" height="5.74" fill="#8496bb" />
<line x1="381.90" y1="509.40" x2="393.10" y2="509.40" stroke="#2c4f86" stroke-width="1.2" />
<circle cx="387.30" cy="495.04" r="1.50" fill="#1c3c6c" />
<line x1="404.60" y1="462.42" x2="404.60" y2="484.60" stroke="#d5727a" stroke-width="1.1" />
<line x1="404.60" y1="504.44" x2="404.60" y2="514.62" stroke="#d5727a" stroke-width="1.1" />
<line x1="403.00" y1="462.42" x2="406.20" y2="462.42" stroke="#cc2030" stroke-width="1.1" />
<rect x="399.35" y="484.60" width="10.50" height="19.84" fill="#ec8c84" />
<line x1="399.35" y1="495.56" x2="409.85" y2="495.56" stroke="#cc2030" stroke-width="1.2" />
<rect x="402.90" y="446.10" width="3.40" height="3.40" fill="#8a0c1c" />
<path d="M387.50,439.90 L387.50,437.50 L404.60,437.50 L404.60,439.90" stroke="#444" stroke-width="0.8" fill="none" />
<text x="396.05" y="438.00" font-size="5.0" text-anchor="middle" fill="#333" textLength="9.20" lengthAdjust="spacingAndGlyphs" stroke="#333" stroke-width="0.16" >****</text>
<line x1="455.20" y1="437.60" x2="455.20" y2="516.00" stroke="#222" stroke-width="1.2" />
<line x1="452.40" y1="515.40" x2="455.20" y2="515.40" stroke="#222" stroke-width="0.9" />
<text x="449.80" y="517.34" font-size="5.4" text-anchor="end" fill="#333" textLength="3.40" lengthAdjust="spacingAndGlyphs" stroke="#333" stroke-width="0.16" >0</text>
<line x1="452.40" y1="496.10" x2="455.20" y2="496.10" stroke="#222" stroke-width="0.9" />
<text x="449.80" y="498.04" font-size="5.4" text-anchor="end" fill="#333" textLength="10.20" lengthAdjust="spacingAndGlyphs" stroke="#333" stroke-width="0.16" >500</text>
<line x1="452.40" y1="476.80" x2="455.20" y2="476.80" stroke="#222" stroke-width="0.9" />
<text x="449.80" y="478.74" font-size="5.4" text-anchor="end" fill="#333" textLength="13.60" lengthAdjust="spacingAndGlyphs" stroke="#333" stroke-width="0.16" >1000</text>
<line x1="452.40" y1="457.50" x2="455.20" y2="457.50" stroke="#222" stroke-width="0.9" />
<text x="449.80" y="459.44" font-size="5.4" text-anchor="end" fill="#333" textLength="13.60" lengthAdjust="spacingAndGlyphs" stroke="#333" stroke-width="0.16" >1500</text>
<line x1="452.40" y1="438.20" x2="455.20" y2="438.20" stroke="#222" stroke-width="0.9" />
<text x="449.80" y="440.14" font-size="5.4" text-anchor="end" fill="#333" textLength="13.60" lengthAdjust="spacingAndGlyphs" stroke="#333" stroke-width="0.16" >2000</text>
<line x1="454.60" y1="515.40" x2="513.60" y2="515.40" stroke="#222" stroke-width="1.2" />
<line x1="469.00" y1="515.40" x2="469.00" y2="517.60" stroke="#222" stroke-width="0.8" />
<line x1="499.60" y1="515.40" x2="499.60" y2="517.60" stroke="#222" stroke-width="0.8" />
<text x="468.80" y="527.98" font-size="6.6" text-anchor="middle" fill="#333" textLength="12.00" lengthAdjust="spacingAndGlyphs" stroke="#333" stroke-width="0.16" >CD4</text>
<text x="498.40" y="527.98" font-size="6.6" text-anchor="middle" fill="#333" textLength="12.00" lengthAdjust="spacingAndGlyphs" stroke="#333" stroke-width="0.16" >CD8</text>
<text x="430.00" y="478.15" font-size="6.8" text-anchor="middle" fill="#1a1a1a" textLength="23.80" lengthAdjust="spacingAndGlyphs" transform="rotate(-90 430.00 475.70)" stroke="#1a1a1a" stroke-width="0.16" >Cells/mcl</text>
<line x1="463.40" y1="498.42" x2="463.40" y2="508.07" stroke="#4a6a9e" stroke-width="1.1" />
<line x1="463.40" y1="512.31" x2="463.40" y2="515.21" stroke="#4a6a9e" stroke-width="1.1" />
<line x1="461.80" y1="498.42" x2="465.00" y2="498.42" stroke="#2c4f86" stroke-width="1.1" />
<rect x="459.70" y="508.07" width="7.40" height="4.25" fill="#8496bb" />
<line x1="459.70" y1="510.38" x2="467.10" y2="510.38" stroke="#2c4f86" stroke-width="1.2" />
<line x1="474.60" y1="492.24" x2="474.60" y2="502.08" stroke="#d5727a" stroke-width="1.1" />
<line x1="474.60" y1="510.38" x2="474.60" y2="515.21" stroke="#d5727a" stroke-width="1.1" />
<line x1="473.00" y1="492.24" x2="476.20" y2="492.24" stroke="#cc2030" stroke-width="1.1" />
<rect x="470.60" y="502.08" width="8.00" height="8.30" fill="#ec8c84" />
<line x1="470.60" y1="506.71" x2="478.60" y2="506.71" stroke="#cc2030" stroke-width="1.2" />
<rect x="472.90" y="476.26" width="3.40" height="3.40" fill="#8a0c1c" />
<rect x="472.90" y="513.91" width="3.40" height="2.60" fill="#8a0c1c" />
<line x1="494.40" y1="506.14" x2="494.40" y2="510.38" stroke="#4a6a9e" stroke-width="1.1" />
<line x1="494.40" y1="513.08" x2="494.40" y2="515.21" stroke="#4a6a9e" stroke-width="1.1" />
<line x1="492.80" y1="506.14" x2="496.00" y2="506.14" stroke="#2c4f86" stroke-width="1.1" />
<rect x="490.70" y="510.38" width="7.40" height="2.70" fill="#8496bb" />
<line x1="490.70" y1="511.73" x2="498.10" y2="511.73" stroke="#2c4f86" stroke-width="1.2" />
<circle cx="492.30" cy="497.64" r="1.45" fill="#1c3c6c" />
<circle cx="496.30" cy="498.42" r="1.45" fill="#1c3c6c" />
<circle cx="492.30" cy="503.43" r="1.45" fill="#1c3c6c" />
<circle cx="496.30" cy="503.43" r="1.45" fill="#1c3c6c" />
<line x1="505.60" y1="452.10" x2="505.60" y2="480.08" stroke="#d5727a" stroke-width="1.1" />
<line x1="505.60" y1="505.75" x2="505.60" y2="515.21" stroke="#d5727a" stroke-width="1.1" />
<line x1="504.00" y1="452.10" x2="507.20" y2="452.10" stroke="#cc2030" stroke-width="1.1" />
<rect x="501.70" y="480.08" width="7.80" height="25.67" fill="#ec8c84" />
<line x1="501.70" y1="493.98" x2="509.50" y2="493.98" stroke="#cc2030" stroke-width="1.2" />
<path d="M494.40,438.80 L494.40,436.40 L505.60,436.40 L505.60,438.80" stroke="#444" stroke-width="0.8" fill="none" />
<text x="500.00" y="436.90" font-size="5.0" text-anchor="middle" fill="#333" textLength="9.20" lengthAdjust="spacingAndGlyphs" stroke="#333" stroke-width="0.16" >****</text>
<line x1="376.20" y1="543.00" x2="376.20" y2="621.30" stroke="#222" stroke-width="1.2" />
<line x1="373.40" y1="620.70" x2="376.20" y2="620.70" stroke="#222" stroke-width="0.9" />
<text x="370.00" y="622.64" font-size="5.4" text-anchor="end" fill="#333" textLength="3.10" lengthAdjust="spacingAndGlyphs" stroke="#333" stroke-width="0.16" >0</text>
<line x1="373.40" y1="605.31" x2="376.20" y2="605.31" stroke="#222" stroke-width="0.9" />
<text x="370.00" y="607.25" font-size="5.4" text-anchor="end" fill="#333" textLength="6.20" lengthAdjust="spacingAndGlyphs" stroke="#333" stroke-width="0.16" >20</text>
<line x1="373.40" y1="589.92" x2="376.20" y2="589.92" stroke="#222" stroke-width="0.9" />
<text x="370.00" y="591.86" font-size="5.4" text-anchor="end" fill="#333" textLength="6.20" lengthAdjust="spacingAndGlyphs" stroke="#333" stroke-width="0.16" >40</text>
<line x1="373.40" y1="574.53" x2="376.20" y2="574.53" stroke="#222" stroke-width="0.9" />
<text x="370.00" y="576.47" font-size="5.4" text-anchor="end" fill="#333" textLength="6.20" lengthAdjust="spacingAndGlyphs" stroke="#333" stroke-width="0.16" >60</text>
<line x1="373.40" y1="559.14" x2="376.20" y2="559.14" stroke="#222" stroke-width="0.9" />
<text x="370.00" y="561.08" font-size="5.4" text-anchor="end" fill="#333" textLength="6.20" lengthAdjust="spacingAndGlyphs" stroke="#333" stroke-width="0.16" >80</text>
<line x1="373.40" y1="543.75" x2="376.20" y2="543.75" stroke="#222" stroke-width="0.9" />
<text x="370.00" y="545.69" font-size="5.4" text-anchor="end" fill="#333" textLength="9.30" lengthAdjust="spacingAndGlyphs" stroke="#333" stroke-width="0.16" >100</text>
<line x1="375.40" y1="620.70" x2="414.30" y2="620.70" stroke="#222" stroke-width="1.2" />
<line x1="395.40" y1="620.70" x2="395.40" y2="622.90" stroke="#222" stroke-width="0.8" />
<text x="395.40" y="632.08" font-size="6.6" text-anchor="middle" fill="#333" textLength="12.00" lengthAdjust="spacingAndGlyphs" stroke="#333" stroke-width="0.16" >CD3</text>
<text x="352.10" y="583.65" font-size="6.8" text-anchor="middle" fill="#1a1a1a" textLength="56.80" lengthAdjust="spacingAndGlyphs" transform="rotate(-90 352.10 581.20)" stroke="#1a1a1a" stroke-width="0.16" >% of total lymphocytes</text>
<line x1="387.30" y1="566.84" x2="387.30" y2="589.54" stroke="#4a6a9e" stroke-width="1.1" />
<line x1="387.30" y1="611.85" x2="387.30" y2="620.70" stroke="#4a6a9e" stroke-width="1.1" />
<line x1="385.70" y1="566.84" x2="388.90" y2="566.84" stroke="#2c4f86" stroke-width="1.1" />
<rect x="381.90" y="589.54" width="10.80" height="22.32" fill="#8496bb" />
<line x1="381.90" y1="603.39" x2="392.70" y2="603.39" stroke="#2c4f86" stroke-width="1.2" />
<circle cx="387.20" cy="552.98" r="1.50" fill="#1c3c6c" />
<line x1="404.10" y1="557.60" x2="404.10" y2="581.46" stroke="#d5727a" stroke-width="1.1" />
<line x1="404.10" y1="604.54" x2="404.10" y2="618.39" stroke="#d5727a" stroke-width="1.1" />
<line x1="402.50" y1="557.60" x2="405.70" y2="557.60" stroke="#cc2030" stroke-width="1.1" />
<rect x="399.00" y="581.46" width="10.20" height="23.09" fill="#ec8c84" />
<line x1="399.00" y1="591.46" x2="409.20" y2="591.46" stroke="#cc2030" stroke-width="1.2" />
<path d="M387.30,544.30 L387.30,541.90 L404.10,541.90 L404.10,544.30" stroke="#444" stroke-width="0.8" fill="none" />
<text x="395.70" y="542.40" font-size="5.0" text-anchor="middle" fill="#333" textLength="4.60" lengthAdjust="spacingAndGlyphs" stroke="#333" stroke-width="0.16" >**</text>
<line x1="455.30" y1="542.80" x2="455.30" y2="621.40" stroke="#222" stroke-width="1.2" />
<line x1="452.50" y1="620.80" x2="455.30" y2="620.80" stroke="#222" stroke-width="0.9" />
<text x="450.70" y="622.74" font-size="5.4" text-anchor="end" fill="#333" textLength="3.40" lengthAdjust="spacingAndGlyphs" stroke="#333" stroke-width="0.16" >0</text>
<line x1="452.50" y1="605.35" x2="455.30" y2="605.35" stroke="#222" stroke-width="0.9" />
<text x="450.70" y="607.29" font-size="5.4" text-anchor="end" fill="#333" textLength="6.80" lengthAdjust="spacingAndGlyphs" stroke="#333" stroke-width="0.16" >20</text>
<line x1="452.50" y1="589.90" x2="455.30" y2="589.90" stroke="#222" stroke-width="0.9" />
<text x="450.70" y="591.84" font-size="5.4" text-anchor="end" fill="#333" textLength="6.80" lengthAdjust="spacingAndGlyphs" stroke="#333" stroke-width="0.16" >40</text>
<line x1="452.50" y1="574.45" x2="455.30" y2="574.45" stroke="#222" stroke-width="0.9" />
<text x="450.70" y="576.39" font-size="5.4" text-anchor="end" fill="#333" textLength="6.80" lengthAdjust="spacingAndGlyphs" stroke="#333" stroke-width="0.16" >60</text>
<line x1="452.50" y1="559.00" x2="455.30" y2="559.00" stroke="#222" stroke-width="0.9" />
<text x="450.70" y="560.94" font-size="5.4" text-anchor="end" fill="#333" textLength="6.80" lengthAdjust="spacingAndGlyphs" stroke="#333" stroke-width="0.16" >80</text>
<line x1="452.50" y1="543.55" x2="455.30" y2="543.55" stroke="#222" stroke-width="0.9" />
<text x="450.70" y="545.49" font-size="5.4" text-anchor="end" fill="#333" textLength="10.20" lengthAdjust="spacingAndGlyphs" stroke="#333" stroke-width="0.16" >100</text>
<line x1="454.90" y1="620.80" x2="513.60" y2="620.80" stroke="#222" stroke-width="1.2" />
<line x1="469.30" y1="620.80" x2="469.30" y2="623.00" stroke="#222" stroke-width="0.8" />
<line x1="499.70" y1="620.80" x2="499.70" y2="623.00" stroke="#222" stroke-width="0.8" />
<text x="469.30" y="632.78" font-size="6.6" text-anchor="middle" fill="#333" textLength="12.00" lengthAdjust="spacingAndGlyphs" stroke="#333" stroke-width="0.16" >CD4</text>
<text x="499.70" y="632.78" font-size="6.6" text-anchor="middle" fill="#333" textLength="12.00" lengthAdjust="spacingAndGlyphs" stroke="#333" stroke-width="0.16" >CD8</text>
<text x="432.40" y="583.35" font-size="6.8" text-anchor="middle" fill="#1a1a1a" textLength="53.70" lengthAdjust="spacingAndGlyphs" transform="rotate(-90 432.40 580.90)" stroke="#1a1a1a" stroke-width="0.16" >% of total CD3+ cells</text>
<line x1="463.70" y1="549.73" x2="463.70" y2="565.18" stroke="#4a6a9e" stroke-width="1.1" />
<line x1="463.70" y1="587.58" x2="463.70" y2="616.94" stroke="#4a6a9e" stroke-width="1.1" />
<line x1="462.10" y1="549.73" x2="465.30" y2="549.73" stroke="#2c4f86" stroke-width="1.1" />
<rect x="460.00" y="565.18" width="7.40" height="22.40" fill="#8496bb" />
<line x1="460.00" y1="579.08" x2="467.40" y2="579.08" stroke="#2c4f86" stroke-width="1.2" />
<line x1="475.10" y1="583.72" x2="475.10" y2="589.90" stroke="#d5727a" stroke-width="1.1" />
<line x1="475.10" y1="601.49" x2="475.10" y2="618.48" stroke="#d5727a" stroke-width="1.1" />
<line x1="473.50" y1="583.72" x2="476.70" y2="583.72" stroke="#cc2030" stroke-width="1.1" />
<rect x="471.15" y="589.90" width="7.90" height="11.59" fill="#ec8c84" />
<line x1="471.15" y1="593.76" x2="479.05" y2="593.76" stroke="#cc2030" stroke-width="1.2" />
<rect x="473.40" y="567.34" width="3.40" height="3.40" fill="#8a0c1c" />
<line x1="494.10" y1="565.18" x2="494.10" y2="589.90" stroke="#4a6a9e" stroke-width="1.1" />
<line x1="494.10" y1="609.21" x2="494.10" y2="617.71" stroke="#4a6a9e" stroke-width="1.1" />
<line x1="492.50" y1="565.18" x2="495.70" y2="565.18" stroke="#2c4f86" stroke-width="1.1" />
<rect x="490.40" y="589.90" width="7.40" height="19.31" fill="#8496bb" />
<line x1="490.40" y1="599.56" x2="497.80" y2="599.56" stroke="#2c4f86" stroke-width="1.2" />
<line x1="505.60" y1="553.59" x2="505.60" y2="569.81" stroke="#d5727a" stroke-width="1.1" />
<line x1="505.60" y1="583.72" x2="505.60" y2="603.80" stroke="#d5727a" stroke-width="1.1" />
<line x1="504.00" y1="553.59" x2="507.20" y2="553.59" stroke="#cc2030" stroke-width="1.1" />
<rect x="501.65" y="569.81" width="7.90" height="13.90" fill="#ec8c84" />
<line x1="501.65" y1="576.38" x2="509.55" y2="576.38" stroke="#cc2030" stroke-width="1.2" />
<rect x="503.90" y="606.74" width="3.40" height="3.40" fill="#8a0c1c" />
<path d="M463.70,544.30 L463.70,541.90 L475.10,541.90 L475.10,544.30" stroke="#444" stroke-width="0.8" fill="none" />
<text x="469.40" y="542.40" font-size="5.0" text-anchor="middle" fill="#333" textLength="9.20" lengthAdjust="spacingAndGlyphs" stroke="#333" stroke-width="0.16" >****</text>
<path d="M494.10,544.30 L494.10,541.90 L505.60,541.90 L505.60,544.30" stroke="#444" stroke-width="0.8" fill="none" />
<text x="499.85" y="542.40" font-size="5.0" text-anchor="middle" fill="#333" textLength="9.20" lengthAdjust="spacingAndGlyphs" stroke="#333" stroke-width="0.16" >****</text>
<rect x="371.40" y="636.80" width="5.00" height="5.30" fill="#1d4f8e" />
<text x="378.90" y="641.52" font-size="5.6" fill="#333" textLength="49.50" lengthAdjust="spacingAndGlyphs" stroke="#333" stroke-width="0.16" >No CMV reactivation</text>
<rect x="438.40" y="636.90" width="4.80" height="5.30" fill="#c0102a" />
<text x="445.70" y="641.52" font-size="5.6" fill="#333" textLength="41.30" lengthAdjust="spacingAndGlyphs" stroke="#333" stroke-width="0.16" >CMV reactivation</text><rect x="0.6" y="0.6" width="518.8" height="664.8" fill="none" stroke="#585858" stroke-width="1.3"/></svg></body></html>
